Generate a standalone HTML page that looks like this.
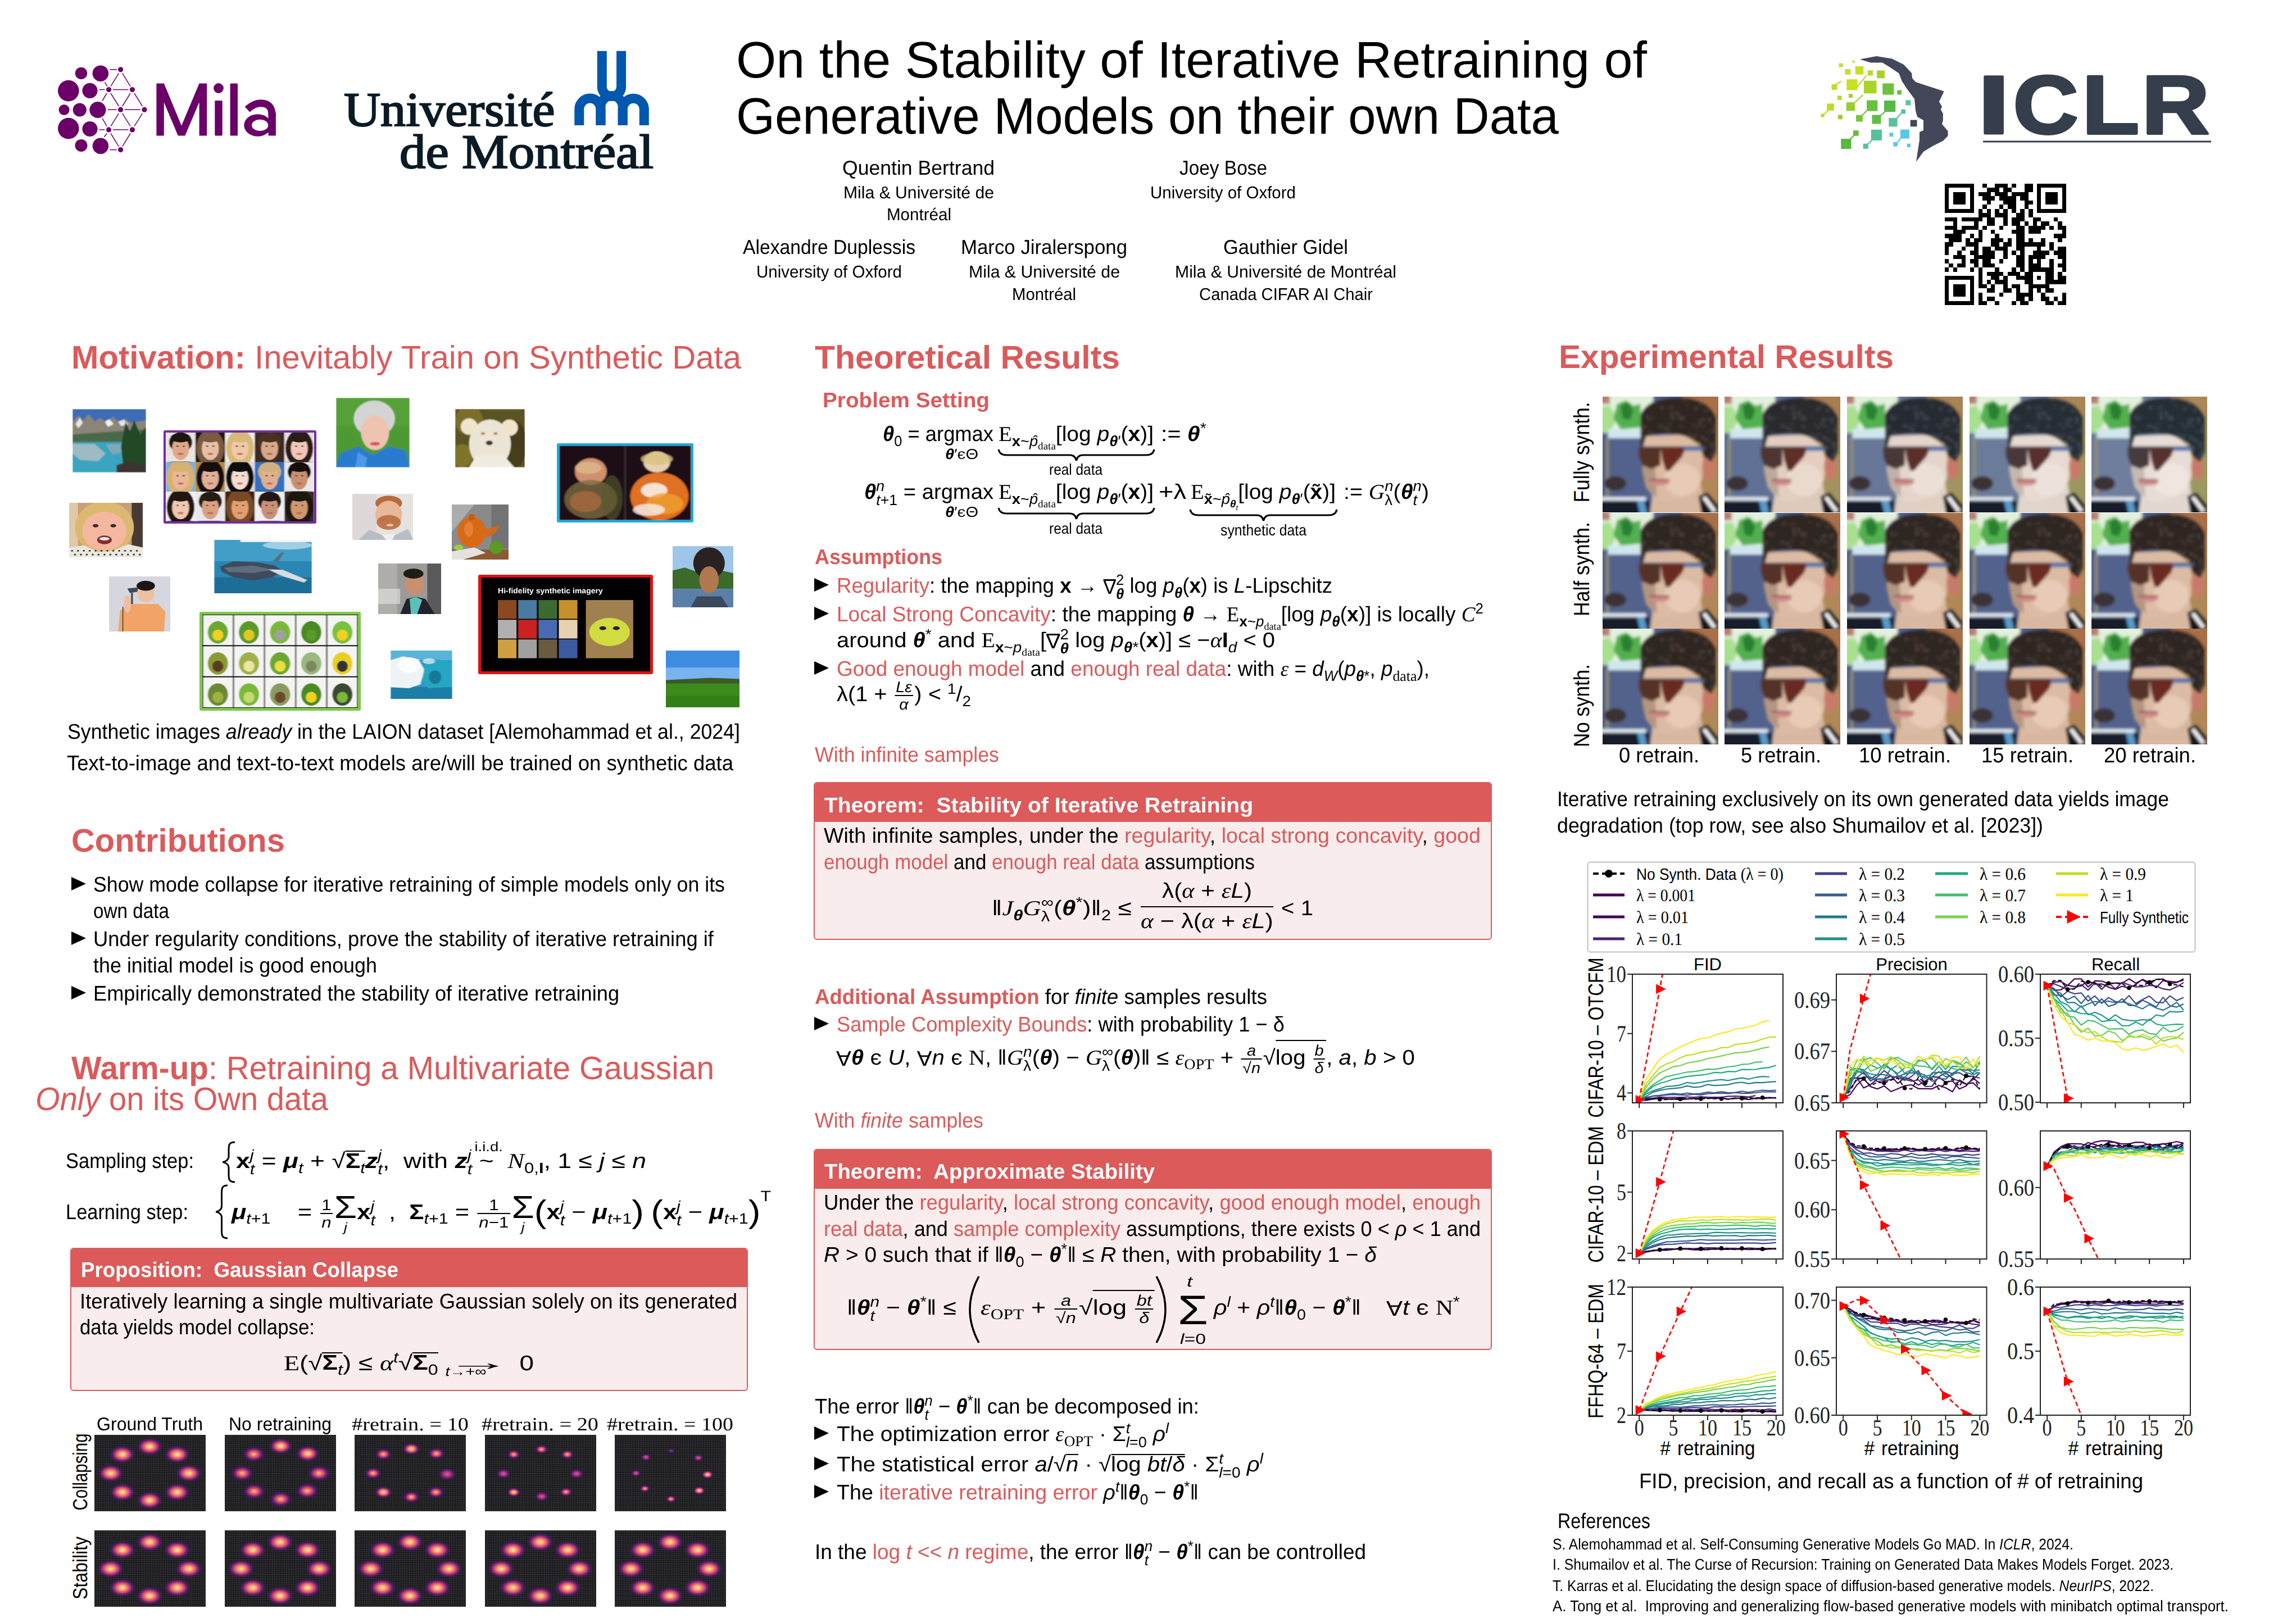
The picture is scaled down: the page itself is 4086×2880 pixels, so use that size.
<!DOCTYPE html><html><head><meta charset="utf-8"><style>
*{margin:0;padding:0;box-sizing:border-box}
html,body{width:4086px;height:2880px;overflow:hidden;background:#fff}
body{position:relative;font-family:"Liberation Sans",sans-serif;color:#000;text-rendering:geometricPrecision}
.t{position:absolute;white-space:nowrap;line-height:1;transform-origin:0 0}
.r{color:#DB5A5B}
sub,sup{font-size:70%;line-height:0}
.a{position:absolute}
.box{position:absolute;border:2px solid #DA5C5E;border-radius:6px;background:#F9ECEC;overflow:hidden}
.bl{display:inline-block;width:0;height:0}
.fr{display:inline-block;vertical-align:middle;text-align:center;font-size:72%;line-height:1.08;margin:0 .08em}
.fr>span{display:block;padding:0 .08em}
.fr>span+span{border-top:2px solid currentColor}
.sq{display:inline-block;line-height:.8;border-top:2.4px solid currentColor;padding-top:.04em}
.se{font-family:"Liberation Serif",serif}
.ss{display:inline-block;vertical-align:-.42em;line-height:.95;font-size:70%;text-align:left}
.ss>span{display:block}
.nab{display:inline-block;transform:scaleY(-1)}
.bsum{display:inline-block;vertical-align:middle;text-align:center;line-height:.9}
.bsum>span{display:block;font-size:60%}
.bsum>b{display:block;font-weight:normal;font-size:150%}
.box .hd{position:absolute;left:-2px;right:-2px;top:-2px;background:#DC5A5A}
</style></head><body>
<div class="box" style="left:125px;top:2221px;width:1206px;height:255px"><div class="hd" style="height:70px"></div></div>
<div class="box" style="left:1448px;top:1392px;width:1207px;height:281px"><div class="hd" style="height:71px"></div></div>
<div class="box" style="left:1448px;top:2045px;width:1207px;height:358px"><div class="hd" style="height:71px"></div></div>
<svg width="0" height="0" style="position:absolute"><defs><clipPath id="hcx"><path d="M21 29 L21 10 C24 3 32 0.5 42 0.5 C52 0.5 60 4 63 12 L63 31 L60 36 L56 33 L54 26 L46 22 C40 20 30 20 24 22 L22 29 Z"/></clipPath><g id="hairtex" clip-path="url(#hcx)"><rect x="46.5" y="25.2" width="1.6" height="1.6" fill="currentColor" opacity="0.70"/><rect x="59.6" y="25.2" width="1.6" height="1.6" fill="currentColor" opacity="0.76"/><rect x="22.2" y="15.8" width="1.6" height="1.6" fill="currentColor" opacity="0.77"/><rect x="47.6" y="30.6" width="1.6" height="1.6" fill="currentColor" opacity="0.36"/><rect x="40.2" y="8.4" width="1.6" height="1.6" fill="currentColor" opacity="0.57"/><rect x="44.5" y="0.4" width="1.6" height="1.6" fill="currentColor" opacity="0.41"/><rect x="32.5" y="31.2" width="1.6" height="1.6" fill="currentColor" opacity="0.68"/><rect x="27.5" y="27.1" width="1.6" height="1.6" fill="currentColor" opacity="0.37"/><rect x="46.3" y="4.3" width="1.6" height="1.6" fill="currentColor" opacity="0.30"/><rect x="56.7" y="7.1" width="1.6" height="1.6" fill="currentColor" opacity="0.41"/><rect x="61.3" y="29.7" width="1.6" height="1.6" fill="currentColor" opacity="0.44"/><rect x="60.4" y="18.3" width="1.6" height="1.6" fill="currentColor" opacity="0.64"/><rect x="29.4" y="32.0" width="1.6" height="1.6" fill="currentColor" opacity="0.65"/><rect x="60.6" y="30.4" width="1.6" height="1.6" fill="currentColor" opacity="0.45"/><rect x="35.8" y="5.6" width="1.6" height="1.6" fill="currentColor" opacity="0.37"/><rect x="23.7" y="10.2" width="1.6" height="1.6" fill="currentColor" opacity="0.60"/><rect x="21.1" y="23.0" width="1.6" height="1.6" fill="currentColor" opacity="0.47"/><rect x="33.7" y="27.8" width="1.6" height="1.6" fill="currentColor" opacity="0.54"/><rect x="33.9" y="16.4" width="1.6" height="1.6" fill="currentColor" opacity="0.65"/><rect x="23.3" y="33.2" width="1.6" height="1.6" fill="currentColor" opacity="0.31"/><rect x="51.7" y="28.7" width="1.6" height="1.6" fill="currentColor" opacity="0.31"/><rect x="53.3" y="12.5" width="1.6" height="1.6" fill="currentColor" opacity="0.59"/><rect x="21.4" y="1.6" width="1.6" height="1.6" fill="currentColor" opacity="0.39"/><rect x="60.2" y="6.7" width="1.6" height="1.6" fill="currentColor" opacity="0.68"/><rect x="59.1" y="32.0" width="1.6" height="1.6" fill="currentColor" opacity="0.47"/><rect x="35.5" y="17.8" width="1.6" height="1.6" fill="currentColor" opacity="0.69"/><rect x="25.4" y="25.4" width="1.6" height="1.6" fill="currentColor" opacity="0.70"/><rect x="56.2" y="1.2" width="1.6" height="1.6" fill="currentColor" opacity="0.77"/><rect x="24.7" y="11.6" width="1.6" height="1.6" fill="currentColor" opacity="0.61"/><rect x="58.6" y="11.6" width="1.6" height="1.6" fill="currentColor" opacity="0.76"/><rect x="43.4" y="10.6" width="1.6" height="1.6" fill="currentColor" opacity="0.46"/><rect x="28.3" y="2.7" width="1.6" height="1.6" fill="currentColor" opacity="0.37"/><rect x="49.3" y="33.9" width="1.6" height="1.6" fill="currentColor" opacity="0.38"/><rect x="23.0" y="33.5" width="1.6" height="1.6" fill="currentColor" opacity="0.57"/><rect x="37.6" y="8.1" width="1.6" height="1.6" fill="currentColor" opacity="0.60"/><rect x="54.9" y="15.5" width="1.6" height="1.6" fill="currentColor" opacity="0.51"/><rect x="23.3" y="31.1" width="1.6" height="1.6" fill="currentColor" opacity="0.32"/><rect x="41.2" y="28.5" width="1.6" height="1.6" fill="currentColor" opacity="0.37"/><rect x="51.0" y="32.3" width="1.6" height="1.6" fill="currentColor" opacity="0.62"/><rect x="53.3" y="3.6" width="1.6" height="1.6" fill="currentColor" opacity="0.52"/><rect x="27.1" y="28.7" width="1.6" height="1.6" fill="currentColor" opacity="0.45"/><rect x="39.6" y="34.0" width="1.6" height="1.6" fill="currentColor" opacity="0.73"/><rect x="61.0" y="15.4" width="1.6" height="1.6" fill="currentColor" opacity="0.54"/><rect x="50.9" y="16.3" width="1.6" height="1.6" fill="currentColor" opacity="0.45"/><rect x="37.6" y="5.0" width="1.6" height="1.6" fill="currentColor" opacity="0.49"/><rect x="61.5" y="32.6" width="1.6" height="1.6" fill="currentColor" opacity="0.61"/><rect x="41.5" y="11.5" width="1.6" height="1.6" fill="currentColor" opacity="0.34"/><rect x="32.2" y="26.6" width="1.6" height="1.6" fill="currentColor" opacity="0.73"/><rect x="35.8" y="26.7" width="1.6" height="1.6" fill="currentColor" opacity="0.69"/><rect x="49.5" y="22.6" width="1.6" height="1.6" fill="currentColor" opacity="0.68"/><rect x="35.9" y="24.0" width="1.6" height="1.6" fill="currentColor" opacity="0.44"/><rect x="40.9" y="26.2" width="1.6" height="1.6" fill="currentColor" opacity="0.65"/><rect x="33.0" y="32.1" width="1.6" height="1.6" fill="currentColor" opacity="0.62"/><rect x="44.8" y="0.4" width="1.6" height="1.6" fill="currentColor" opacity="0.57"/><rect x="31.3" y="22.8" width="1.6" height="1.6" fill="currentColor" opacity="0.53"/><rect x="54.5" y="22.0" width="1.6" height="1.6" fill="currentColor" opacity="0.70"/><rect x="35.3" y="21.9" width="1.6" height="1.6" fill="currentColor" opacity="0.67"/><rect x="55.0" y="11.9" width="1.6" height="1.6" fill="currentColor" opacity="0.72"/><rect x="56.7" y="23.4" width="1.6" height="1.6" fill="currentColor" opacity="0.79"/><rect x="60.2" y="17.6" width="1.6" height="1.6" fill="currentColor" opacity="0.56"/><rect x="27.8" y="28.4" width="1.6" height="1.6" fill="currentColor" opacity="0.77"/><rect x="40.6" y="23.5" width="1.6" height="1.6" fill="currentColor" opacity="0.66"/><rect x="50.9" y="5.8" width="1.6" height="1.6" fill="currentColor" opacity="0.69"/><rect x="44.8" y="22.6" width="1.6" height="1.6" fill="currentColor" opacity="0.51"/><rect x="46.6" y="26.3" width="1.6" height="1.6" fill="currentColor" opacity="0.62"/><rect x="50.5" y="0.9" width="1.6" height="1.6" fill="currentColor" opacity="0.38"/><rect x="39.1" y="22.1" width="1.6" height="1.6" fill="currentColor" opacity="0.41"/><rect x="49.1" y="21.4" width="1.6" height="1.6" fill="currentColor" opacity="0.32"/><rect x="40.3" y="7.7" width="1.6" height="1.6" fill="currentColor" opacity="0.33"/><rect x="26.5" y="10.8" width="1.6" height="1.6" fill="currentColor" opacity="0.39"/><rect x="28.9" y="1.2" width="1.6" height="1.6" fill="currentColor" opacity="0.53"/><rect x="36.6" y="20.8" width="1.6" height="1.6" fill="currentColor" opacity="0.60"/><rect x="30.8" y="30.7" width="1.6" height="1.6" fill="currentColor" opacity="0.30"/><rect x="37.6" y="9.5" width="1.6" height="1.6" fill="currentColor" opacity="0.51"/><rect x="25.7" y="28.3" width="1.6" height="1.6" fill="currentColor" opacity="0.49"/><rect x="22.5" y="20.9" width="1.6" height="1.6" fill="currentColor" opacity="0.35"/><rect x="43.4" y="11.5" width="1.6" height="1.6" fill="currentColor" opacity="0.59"/><rect x="60.3" y="27.8" width="1.6" height="1.6" fill="currentColor" opacity="0.51"/><rect x="54.3" y="21.8" width="1.6" height="1.6" fill="currentColor" opacity="0.48"/><rect x="26.8" y="20.3" width="1.6" height="1.6" fill="currentColor" opacity="0.58"/><rect x="60.2" y="32.9" width="1.6" height="1.6" fill="currentColor" opacity="0.60"/><rect x="35.4" y="30.4" width="1.6" height="1.6" fill="currentColor" opacity="0.30"/><rect x="25.4" y="19.2" width="1.6" height="1.6" fill="currentColor" opacity="0.61"/><rect x="26.8" y="21.4" width="1.6" height="1.6" fill="currentColor" opacity="0.75"/><rect x="36.4" y="14.7" width="1.6" height="1.6" fill="currentColor" opacity="0.41"/><rect x="33.0" y="33.1" width="1.6" height="1.6" fill="currentColor" opacity="0.49"/><rect x="60.4" y="31.1" width="1.6" height="1.6" fill="currentColor" opacity="0.60"/><rect x="31.7" y="33.4" width="1.6" height="1.6" fill="currentColor" opacity="0.55"/><rect x="38.0" y="10.9" width="1.6" height="1.6" fill="currentColor" opacity="0.79"/><rect x="41.2" y="9.7" width="1.6" height="1.6" fill="currentColor" opacity="0.54"/><rect x="26.0" y="21.1" width="1.6" height="1.6" fill="currentColor" opacity="0.52"/><rect x="33.0" y="26.6" width="1.6" height="1.6" fill="currentColor" opacity="0.71"/><rect x="21.5" y="18.1" width="1.6" height="1.6" fill="currentColor" opacity="0.44"/><rect x="59.3" y="26.6" width="1.6" height="1.6" fill="currentColor" opacity="0.42"/><rect x="32.0" y="5.3" width="1.6" height="1.6" fill="currentColor" opacity="0.79"/><rect x="33.0" y="20.7" width="1.6" height="1.6" fill="currentColor" opacity="0.54"/><rect x="47.4" y="20.5" width="1.6" height="1.6" fill="currentColor" opacity="0.67"/><rect x="25.8" y="25.9" width="1.6" height="1.6" fill="currentColor" opacity="0.45"/><rect x="42.9" y="11.4" width="1.6" height="1.6" fill="currentColor" opacity="0.45"/><rect x="42.7" y="15.8" width="1.6" height="1.6" fill="currentColor" opacity="0.48"/><rect x="51.5" y="20.1" width="1.6" height="1.6" fill="currentColor" opacity="0.32"/><rect x="31.3" y="15.5" width="1.6" height="1.6" fill="currentColor" opacity="0.76"/><rect x="57.4" y="18.6" width="1.6" height="1.6" fill="currentColor" opacity="0.31"/><rect x="52.9" y="14.5" width="1.6" height="1.6" fill="currentColor" opacity="0.59"/><rect x="50.0" y="21.5" width="1.6" height="1.6" fill="currentColor" opacity="0.54"/><rect x="58.4" y="13.1" width="1.6" height="1.6" fill="currentColor" opacity="0.50"/><rect x="55.9" y="6.7" width="1.6" height="1.6" fill="currentColor" opacity="0.45"/><rect x="55.0" y="2.2" width="1.6" height="1.6" fill="currentColor" opacity="0.72"/><rect x="49.5" y="14.7" width="1.6" height="1.6" fill="currentColor" opacity="0.44"/><rect x="53.0" y="31.0" width="1.6" height="1.6" fill="currentColor" opacity="0.37"/></g></defs></svg>
<svg class="a" style="left:2852px;top:706px" width="206" height="206" viewBox="0 0 64 64" preserveAspectRatio="none"><defs><filter id="blf00" x="-5%" y="-5%" width="110%" height="110%"><feGaussianBlur stdDeviation="0.75"/></filter><clipPath id="cpf00"><rect width="64" height="64"/></clipPath></defs><g clip-path="url(#cpf00)"><g filter="url(#blf00)"><rect x="-2" y="-2" width="68" height="68" fill="#52628c"/><rect x="44" y="-2" width="22" height="68" fill="#b08858"/><rect x="44" y="-2" width="22" height="14" fill="#a87048"/><path d="M-2 -2 H28 V20 H-2 Z" fill="#e2f0dc"/><rect x="-2" y="-2" width="6" height="6" fill="#b88070"/><path d="M-2 6 L4 5 L8 12 L4 20 L-2 20 Z" fill="#a8e090"/><path d="M8 4 L13 2 L17 5 L21 4 L21 17 L10 18 L6 12 Z" fill="#52b050"/><path d="M10 5 L14 3 L17 8 L15 13 L11 12 Z" fill="#2a8030"/><rect x="3" y="18" width="19" height="5" fill="#d0e6ee"/><rect x="2" y="23" width="1.3" height="33" fill="#9a9060"/><ellipse cx="7" cy="48" rx="6" ry="4" fill="#3a3234"/><rect x="-2" y="55.5" width="26" height="2.2" fill="#dfe8f0"/><rect x="-2" y="57.5" width="28" height="9" fill="#141a2a"/><path d="M19 57.5 L23 57.5 L25 66 L21 66 Z" fill="#5a9ac8"/><path d="M28 52 L54 46 L57 66 L26 66 Z" fill="#d8b8a0"/><path d="M53 55 L58 53 L64 60 L64 66 L55 66 Z" fill="#18191f"/><path d="M55 56 L57 55 L63 63 L61 64 Z" fill="#f0f0f0"/><path d="M22 22 L46 21 L54 28 L56 36 L55 46 L48 55 L38 58 L30 57 L24 50 L22 40 Z" fill="#dcbba4"/><ellipse cx="44" cy="46" rx="10" ry="9" fill="#f0d8c4" opacity="0.55"/><path d="M22 36 L29 38 L30 56 L24 50 L22 42 Z" fill="#a08674" opacity="0.7"/><ellipse cx="58.5" cy="39" rx="3.5" ry="7" fill="#c87a68"/><path d="M21 29 L21 10 C24 3 32 0.5 42 0.5 C52 0.5 60 4 63 12 L63 31 L60 36 L56 33 L54 26 L46 22 C40 20 30 20 24 22 L22 29 Z" fill="#2e2622"/><use href="#hairtex" style="color:#5a4a44"/><rect x="20" y="27.5" width="37" height="2" fill="#4a5060"/><path d="M20 28 L32 28 L32 38 L27 40 L22 38 L20 33 Z" fill="#553228"/><path d="M32 28 L46 28 L44 33 L37 41 L35 41 L33 35 Z" fill="#6a2a20"/><rect x="45" y="28" width="10" height="2" fill="#5a78b0"/><ellipse cx="31.5" cy="47.5" rx="5.5" ry="1.6" fill="#d08a88"/><rect x="26" y="45.6" width="11" height="0.9" fill="#7a4040" opacity="0.8"/></g></g></svg>
<svg class="a" style="left:3069px;top:706px" width="206" height="206" viewBox="0 0 64 64" preserveAspectRatio="none"><defs><filter id="blf01" x="-5%" y="-5%" width="110%" height="110%"><feGaussianBlur stdDeviation="0.75"/></filter><clipPath id="cpf01"><rect width="64" height="64"/></clipPath></defs><g clip-path="url(#cpf01)"><g filter="url(#blf01)"><rect x="-2" y="-2" width="68" height="68" fill="#617195"/><rect x="44" y="-2" width="22" height="68" fill="#a5915e"/><rect x="44" y="-2" width="22" height="14" fill="#a87e51"/><path d="M-2 -2 H28 V20 H-2 Z" fill="#e2f0dc"/><rect x="-2" y="-2" width="6" height="6" fill="#b88070"/><path d="M-2 6 L4 5 L8 12 L4 20 L-2 20 Z" fill="#a8e090"/><path d="M8 4 L13 2 L17 5 L21 4 L21 17 L10 18 L6 12 Z" fill="#52b050"/><path d="M10 5 L14 3 L17 8 L15 13 L11 12 Z" fill="#2a8030"/><rect x="3" y="18" width="19" height="5" fill="#d0e6ee"/><rect x="2" y="23" width="1.3" height="33" fill="#9a9060"/><ellipse cx="7" cy="48" rx="6" ry="4" fill="#3a3234"/><rect x="-2" y="55.5" width="26" height="2.2" fill="#dfe8f0"/><rect x="-2" y="57.5" width="28" height="9" fill="#141a2a"/><path d="M19 57.5 L23 57.5 L25 66 L21 66 Z" fill="#5a9ac8"/><path d="M28 52 L54 46 L57 66 L26 66 Z" fill="#decaba"/><path d="M53 55 L58 53 L64 60 L64 66 L55 66 Z" fill="#18191f"/><path d="M55 56 L57 55 L63 63 L61 64 Z" fill="#f0f0f0"/><path d="M22 22 L46 21 L54 28 L56 36 L55 46 L48 55 L38 58 L30 57 L24 50 L22 40 Z" fill="#e3cec0"/><ellipse cx="44" cy="46" rx="10" ry="9" fill="#f1e3d8" opacity="0.55"/><path d="M22 36 L29 38 L30 56 L24 50 L22 42 Z" fill="#ad9b8e" opacity="0.7"/><ellipse cx="58.5" cy="39" rx="3.5" ry="7" fill="#c87a68"/><path d="M21 29 L21 10 C24 3 32 0.5 42 0.5 C52 0.5 60 4 63 12 L63 31 L60 36 L56 33 L54 26 L46 22 C40 20 30 20 24 22 L22 29 Z" fill="#2a2a2d"/><use href="#hairtex" style="color:#515153"/><rect x="20" y="27.5" width="37" height="2" fill="#4a5060"/><path d="M20 28 L32 28 L32 38 L27 40 L22 38 L20 33 Z" fill="#4d3633"/><path d="M32 28 L46 28 L44 33 L37 41 L35 41 L33 35 Z" fill="#5f2d28"/><rect x="45" y="28" width="10" height="2" fill="#5a78b0"/><ellipse cx="31.5" cy="47.5" rx="5.5" ry="1.6" fill="#d08a88"/><rect x="26" y="45.6" width="11" height="0.9" fill="#7a4040" opacity="0.8"/></g></g></svg>
<svg class="a" style="left:3287px;top:706px" width="206" height="206" viewBox="0 0 64 64" preserveAspectRatio="none"><defs><filter id="blf02" x="-5%" y="-5%" width="110%" height="110%"><feGaussianBlur stdDeviation="0.75"/></filter><clipPath id="cpf02"><rect width="64" height="64"/></clipPath></defs><g clip-path="url(#cpf02)"><g filter="url(#blf02)"><rect x="-2" y="-2" width="68" height="68" fill="#677798"/><rect x="44" y="-2" width="22" height="68" fill="#a19460"/><rect x="44" y="-2" width="22" height="14" fill="#a88454"/><path d="M-2 -2 H28 V20 H-2 Z" fill="#e2f0dc"/><rect x="-2" y="-2" width="6" height="6" fill="#b88070"/><path d="M-2 6 L4 5 L8 12 L4 20 L-2 20 Z" fill="#a8e090"/><path d="M8 4 L13 2 L17 5 L21 4 L21 17 L10 18 L6 12 Z" fill="#52b050"/><path d="M10 5 L14 3 L17 8 L15 13 L11 12 Z" fill="#2a8030"/><rect x="3" y="18" width="19" height="5" fill="#d0e6ee"/><rect x="2" y="23" width="1.3" height="33" fill="#9a9060"/><ellipse cx="7" cy="48" rx="6" ry="4" fill="#3a3234"/><rect x="-2" y="55.5" width="26" height="2.2" fill="#dfe8f0"/><rect x="-2" y="57.5" width="28" height="9" fill="#141a2a"/><path d="M19 57.5 L23 57.5 L25 66 L21 66 Z" fill="#5a9ac8"/><path d="M28 52 L54 46 L57 66 L26 66 Z" fill="#e0d0c4"/><path d="M53 55 L58 53 L64 60 L64 66 L55 66 Z" fill="#18191f"/><path d="M55 56 L57 55 L63 63 L61 64 Z" fill="#f0f0f0"/><path d="M22 22 L46 21 L54 28 L56 36 L55 46 L48 55 L38 58 L30 57 L24 50 L22 40 Z" fill="#e5d4ca"/><ellipse cx="44" cy="46" rx="10" ry="9" fill="#f2e7df" opacity="0.55"/><path d="M22 36 L29 38 L30 56 L24 50 L22 42 Z" fill="#b2a298" opacity="0.7"/><ellipse cx="58.5" cy="39" rx="3.5" ry="7" fill="#c87a68"/><path d="M21 29 L21 10 C24 3 32 0.5 42 0.5 C52 0.5 60 4 63 12 L63 31 L60 36 L56 33 L54 26 L46 22 C40 20 30 20 24 22 L22 29 Z" fill="#282c31"/><use href="#hairtex" style="color:#4e5359"/><rect x="20" y="27.5" width="37" height="2" fill="#4a5060"/><path d="M20 28 L32 28 L32 38 L27 40 L22 38 L20 33 Z" fill="#4a3837"/><path d="M32 28 L46 28 L44 33 L37 41 L35 41 L33 35 Z" fill="#5b2e2a"/><rect x="45" y="28" width="10" height="2" fill="#5a78b0"/><ellipse cx="31.5" cy="47.5" rx="5.5" ry="1.6" fill="#d08a88"/><rect x="26" y="45.6" width="11" height="0.9" fill="#7a4040" opacity="0.8"/></g></g></svg>
<svg class="a" style="left:3505px;top:706px" width="206" height="206" viewBox="0 0 64 64" preserveAspectRatio="none"><defs><filter id="blf03" x="-5%" y="-5%" width="110%" height="110%"><feGaussianBlur stdDeviation="0.75"/></filter><clipPath id="cpf03"><rect width="64" height="64"/></clipPath></defs><g clip-path="url(#cpf03)"><g filter="url(#blf03)"><rect x="-2" y="-2" width="68" height="68" fill="#6b7b9a"/><rect x="44" y="-2" width="22" height="68" fill="#9e9661"/><rect x="44" y="-2" width="22" height="14" fill="#a88756"/><path d="M-2 -2 H28 V20 H-2 Z" fill="#e2f0dc"/><rect x="-2" y="-2" width="6" height="6" fill="#b88070"/><path d="M-2 6 L4 5 L8 12 L4 20 L-2 20 Z" fill="#a8e090"/><path d="M8 4 L13 2 L17 5 L21 4 L21 17 L10 18 L6 12 Z" fill="#52b050"/><path d="M10 5 L14 3 L17 8 L15 13 L11 12 Z" fill="#2a8030"/><rect x="3" y="18" width="19" height="5" fill="#d0e6ee"/><rect x="2" y="23" width="1.3" height="33" fill="#9a9060"/><ellipse cx="7" cy="48" rx="6" ry="4" fill="#3a3234"/><rect x="-2" y="55.5" width="26" height="2.2" fill="#dfe8f0"/><rect x="-2" y="57.5" width="28" height="9" fill="#141a2a"/><path d="M19 57.5 L23 57.5 L25 66 L21 66 Z" fill="#5a9ac8"/><path d="M28 52 L54 46 L57 66 L26 66 Z" fill="#e1d5cb"/><path d="M53 55 L58 53 L64 60 L64 66 L55 66 Z" fill="#18191f"/><path d="M55 56 L57 55 L63 63 L61 64 Z" fill="#f0f0f0"/><path d="M22 22 L46 21 L54 28 L56 36 L55 46 L48 55 L38 58 L30 57 L24 50 L22 40 Z" fill="#e7dad1"/><ellipse cx="44" cy="46" rx="10" ry="9" fill="#f2eae4" opacity="0.55"/><path d="M22 36 L29 38 L30 56 L24 50 L22 42 Z" fill="#b6a89f" opacity="0.7"/><ellipse cx="58.5" cy="39" rx="3.5" ry="7" fill="#c87a68"/><path d="M21 29 L21 10 C24 3 32 0.5 42 0.5 C52 0.5 60 4 63 12 L63 31 L60 36 L56 33 L54 26 L46 22 C40 20 30 20 24 22 L22 29 Z" fill="#272d34"/><use href="#hairtex" style="color:#4c555d"/><rect x="20" y="27.5" width="37" height="2" fill="#4a5060"/><path d="M20 28 L32 28 L32 38 L27 40 L22 38 L20 33 Z" fill="#48393a"/><path d="M32 28 L46 28 L44 33 L37 41 L35 41 L33 35 Z" fill="#582f2d"/><rect x="45" y="28" width="10" height="2" fill="#5a78b0"/><ellipse cx="31.5" cy="47.5" rx="5.5" ry="1.6" fill="#d08a88"/><rect x="26" y="45.6" width="11" height="0.9" fill="#7a4040" opacity="0.8"/></g></g></svg>
<svg class="a" style="left:3722px;top:706px" width="206" height="206" viewBox="0 0 64 64" preserveAspectRatio="none"><defs><filter id="blf04" x="-5%" y="-5%" width="110%" height="110%"><feGaussianBlur stdDeviation="0.75"/></filter><clipPath id="cpf04"><rect width="64" height="64"/></clipPath></defs><g clip-path="url(#cpf04)"><g filter="url(#blf04)"><rect x="-2" y="-2" width="68" height="68" fill="#6e7e9c"/><rect x="44" y="-2" width="22" height="68" fill="#9c9862"/><rect x="44" y="-2" width="22" height="14" fill="#a88a58"/><path d="M-2 -2 H28 V20 H-2 Z" fill="#e2f0dc"/><rect x="-2" y="-2" width="6" height="6" fill="#b88070"/><path d="M-2 6 L4 5 L8 12 L4 20 L-2 20 Z" fill="#a8e090"/><path d="M8 4 L13 2 L17 5 L21 4 L21 17 L10 18 L6 12 Z" fill="#52b050"/><path d="M10 5 L14 3 L17 8 L15 13 L11 12 Z" fill="#2a8030"/><rect x="3" y="18" width="19" height="5" fill="#d0e6ee"/><rect x="2" y="23" width="1.3" height="33" fill="#9a9060"/><ellipse cx="7" cy="48" rx="6" ry="4" fill="#3a3234"/><rect x="-2" y="55.5" width="26" height="2.2" fill="#dfe8f0"/><rect x="-2" y="57.5" width="28" height="9" fill="#141a2a"/><path d="M19 57.5 L23 57.5 L25 66 L21 66 Z" fill="#5a9ac8"/><path d="M28 52 L54 46 L57 66 L26 66 Z" fill="#e2d8d0"/><path d="M53 55 L58 53 L64 60 L64 66 L55 66 Z" fill="#18191f"/><path d="M55 56 L57 55 L63 63 L61 64 Z" fill="#f0f0f0"/><path d="M22 22 L46 21 L54 28 L56 36 L55 46 L48 55 L38 58 L30 57 L24 50 L22 40 Z" fill="#e8ddd6"/><ellipse cx="44" cy="46" rx="10" ry="9" fill="#f2ece8" opacity="0.55"/><path d="M22 36 L29 38 L30 56 L24 50 L22 42 Z" fill="#b8aca4" opacity="0.7"/><ellipse cx="58.5" cy="39" rx="3.5" ry="7" fill="#c87a68"/><path d="M21 29 L21 10 C24 3 32 0.5 42 0.5 C52 0.5 60 4 63 12 L63 31 L60 36 L56 33 L54 26 L46 22 C40 20 30 20 24 22 L22 29 Z" fill="#262e36"/><use href="#hairtex" style="color:#4a5660"/><rect x="20" y="27.5" width="37" height="2" fill="#4a5060"/><path d="M20 28 L32 28 L32 38 L27 40 L22 38 L20 33 Z" fill="#463a3c"/><path d="M32 28 L46 28 L44 33 L37 41 L35 41 L33 35 Z" fill="#56302e"/><rect x="45" y="28" width="10" height="2" fill="#5a78b0"/><ellipse cx="31.5" cy="47.5" rx="5.5" ry="1.6" fill="#d08a88"/><rect x="26" y="45.6" width="11" height="0.9" fill="#7a4040" opacity="0.8"/></g></g></svg>
<svg class="a" style="left:2852px;top:913px" width="206" height="206" viewBox="0 0 64 64" preserveAspectRatio="none"><defs><filter id="blf10" x="-5%" y="-5%" width="110%" height="110%"><feGaussianBlur stdDeviation="0.75"/></filter><clipPath id="cpf10"><rect width="64" height="64"/></clipPath></defs><g clip-path="url(#cpf10)"><g filter="url(#blf10)"><rect x="-2" y="-2" width="68" height="68" fill="#52628c"/><rect x="44" y="-2" width="22" height="68" fill="#b08858"/><rect x="44" y="-2" width="22" height="14" fill="#a87048"/><path d="M-2 -2 H28 V20 H-2 Z" fill="#e2f0dc"/><rect x="-2" y="-2" width="6" height="6" fill="#b88070"/><path d="M-2 6 L4 5 L8 12 L4 20 L-2 20 Z" fill="#a8e090"/><path d="M8 4 L13 2 L17 5 L21 4 L21 17 L10 18 L6 12 Z" fill="#52b050"/><path d="M10 5 L14 3 L17 8 L15 13 L11 12 Z" fill="#2a8030"/><rect x="3" y="18" width="19" height="5" fill="#d0e6ee"/><rect x="2" y="23" width="1.3" height="33" fill="#9a9060"/><ellipse cx="7" cy="48" rx="6" ry="4" fill="#3a3234"/><rect x="-2" y="55.5" width="26" height="2.2" fill="#dfe8f0"/><rect x="-2" y="57.5" width="28" height="9" fill="#141a2a"/><path d="M19 57.5 L23 57.5 L25 66 L21 66 Z" fill="#5a9ac8"/><path d="M28 52 L54 46 L57 66 L26 66 Z" fill="#d8b8a0"/><path d="M53 55 L58 53 L64 60 L64 66 L55 66 Z" fill="#18191f"/><path d="M55 56 L57 55 L63 63 L61 64 Z" fill="#f0f0f0"/><path d="M22 22 L46 21 L54 28 L56 36 L55 46 L48 55 L38 58 L30 57 L24 50 L22 40 Z" fill="#dcbba4"/><ellipse cx="44" cy="46" rx="10" ry="9" fill="#f0d8c4" opacity="0.55"/><path d="M22 36 L29 38 L30 56 L24 50 L22 42 Z" fill="#a08674" opacity="0.7"/><ellipse cx="58.5" cy="39" rx="3.5" ry="7" fill="#c87a68"/><path d="M21 29 L21 10 C24 3 32 0.5 42 0.5 C52 0.5 60 4 63 12 L63 31 L60 36 L56 33 L54 26 L46 22 C40 20 30 20 24 22 L22 29 Z" fill="#2e2622"/><use href="#hairtex" style="color:#5a4a44"/><rect x="20" y="27.5" width="37" height="2" fill="#4a5060"/><path d="M20 28 L32 28 L32 38 L27 40 L22 38 L20 33 Z" fill="#553228"/><path d="M32 28 L46 28 L44 33 L37 41 L35 41 L33 35 Z" fill="#6a2a20"/><rect x="45" y="28" width="10" height="2" fill="#5a78b0"/><ellipse cx="31.5" cy="47.5" rx="5.5" ry="1.6" fill="#d08a88"/><rect x="26" y="45.6" width="11" height="0.9" fill="#7a4040" opacity="0.8"/></g></g></svg>
<svg class="a" style="left:3069px;top:913px" width="206" height="206" viewBox="0 0 64 64" preserveAspectRatio="none"><defs><filter id="blf11" x="-5%" y="-5%" width="110%" height="110%"><feGaussianBlur stdDeviation="0.75"/></filter><clipPath id="cpf11"><rect width="64" height="64"/></clipPath></defs><g clip-path="url(#cpf11)"><g filter="url(#blf11)"><rect x="-2" y="-2" width="68" height="68" fill="#52628c"/><rect x="44" y="-2" width="22" height="68" fill="#b08858"/><rect x="44" y="-2" width="22" height="14" fill="#a87048"/><path d="M-2 -2 H28 V20 H-2 Z" fill="#e2f0dc"/><rect x="-2" y="-2" width="6" height="6" fill="#b88070"/><path d="M-2 6 L4 5 L8 12 L4 20 L-2 20 Z" fill="#a8e090"/><path d="M8 4 L13 2 L17 5 L21 4 L21 17 L10 18 L6 12 Z" fill="#52b050"/><path d="M10 5 L14 3 L17 8 L15 13 L11 12 Z" fill="#2a8030"/><rect x="3" y="18" width="19" height="5" fill="#d0e6ee"/><rect x="2" y="23" width="1.3" height="33" fill="#9a9060"/><ellipse cx="7" cy="48" rx="6" ry="4" fill="#3a3234"/><rect x="-2" y="55.5" width="26" height="2.2" fill="#dfe8f0"/><rect x="-2" y="57.5" width="28" height="9" fill="#141a2a"/><path d="M19 57.5 L23 57.5 L25 66 L21 66 Z" fill="#5a9ac8"/><path d="M28 52 L54 46 L57 66 L26 66 Z" fill="#d8b8a0"/><path d="M53 55 L58 53 L64 60 L64 66 L55 66 Z" fill="#18191f"/><path d="M55 56 L57 55 L63 63 L61 64 Z" fill="#f0f0f0"/><path d="M22 22 L46 21 L54 28 L56 36 L55 46 L48 55 L38 58 L30 57 L24 50 L22 40 Z" fill="#dcbba4"/><ellipse cx="44" cy="46" rx="10" ry="9" fill="#f0d8c4" opacity="0.55"/><path d="M22 36 L29 38 L30 56 L24 50 L22 42 Z" fill="#a08674" opacity="0.7"/><ellipse cx="58.5" cy="39" rx="3.5" ry="7" fill="#c87a68"/><path d="M21 29 L21 10 C24 3 32 0.5 42 0.5 C52 0.5 60 4 63 12 L63 31 L60 36 L56 33 L54 26 L46 22 C40 20 30 20 24 22 L22 29 Z" fill="#2e2622"/><use href="#hairtex" style="color:#5a4a44"/><rect x="20" y="27.5" width="37" height="2" fill="#4a5060"/><path d="M20 28 L32 28 L32 38 L27 40 L22 38 L20 33 Z" fill="#553228"/><path d="M32 28 L46 28 L44 33 L37 41 L35 41 L33 35 Z" fill="#6a2a20"/><rect x="45" y="28" width="10" height="2" fill="#5a78b0"/><ellipse cx="31.5" cy="47.5" rx="5.5" ry="1.6" fill="#d08a88"/><rect x="26" y="45.6" width="11" height="0.9" fill="#7a4040" opacity="0.8"/></g></g></svg>
<svg class="a" style="left:3287px;top:913px" width="206" height="206" viewBox="0 0 64 64" preserveAspectRatio="none"><defs><filter id="blf12" x="-5%" y="-5%" width="110%" height="110%"><feGaussianBlur stdDeviation="0.75"/></filter><clipPath id="cpf12"><rect width="64" height="64"/></clipPath></defs><g clip-path="url(#cpf12)"><g filter="url(#blf12)"><rect x="-2" y="-2" width="68" height="68" fill="#52628c"/><rect x="44" y="-2" width="22" height="68" fill="#b08858"/><rect x="44" y="-2" width="22" height="14" fill="#a87048"/><path d="M-2 -2 H28 V20 H-2 Z" fill="#e2f0dc"/><rect x="-2" y="-2" width="6" height="6" fill="#b88070"/><path d="M-2 6 L4 5 L8 12 L4 20 L-2 20 Z" fill="#a8e090"/><path d="M8 4 L13 2 L17 5 L21 4 L21 17 L10 18 L6 12 Z" fill="#52b050"/><path d="M10 5 L14 3 L17 8 L15 13 L11 12 Z" fill="#2a8030"/><rect x="3" y="18" width="19" height="5" fill="#d0e6ee"/><rect x="2" y="23" width="1.3" height="33" fill="#9a9060"/><ellipse cx="7" cy="48" rx="6" ry="4" fill="#3a3234"/><rect x="-2" y="55.5" width="26" height="2.2" fill="#dfe8f0"/><rect x="-2" y="57.5" width="28" height="9" fill="#141a2a"/><path d="M19 57.5 L23 57.5 L25 66 L21 66 Z" fill="#5a9ac8"/><path d="M28 52 L54 46 L57 66 L26 66 Z" fill="#d8b8a0"/><path d="M53 55 L58 53 L64 60 L64 66 L55 66 Z" fill="#18191f"/><path d="M55 56 L57 55 L63 63 L61 64 Z" fill="#f0f0f0"/><path d="M22 22 L46 21 L54 28 L56 36 L55 46 L48 55 L38 58 L30 57 L24 50 L22 40 Z" fill="#dcbba4"/><ellipse cx="44" cy="46" rx="10" ry="9" fill="#f0d8c4" opacity="0.55"/><path d="M22 36 L29 38 L30 56 L24 50 L22 42 Z" fill="#a08674" opacity="0.7"/><ellipse cx="58.5" cy="39" rx="3.5" ry="7" fill="#c87a68"/><path d="M21 29 L21 10 C24 3 32 0.5 42 0.5 C52 0.5 60 4 63 12 L63 31 L60 36 L56 33 L54 26 L46 22 C40 20 30 20 24 22 L22 29 Z" fill="#2e2622"/><use href="#hairtex" style="color:#5a4a44"/><rect x="20" y="27.5" width="37" height="2" fill="#4a5060"/><path d="M20 28 L32 28 L32 38 L27 40 L22 38 L20 33 Z" fill="#553228"/><path d="M32 28 L46 28 L44 33 L37 41 L35 41 L33 35 Z" fill="#6a2a20"/><rect x="45" y="28" width="10" height="2" fill="#5a78b0"/><ellipse cx="31.5" cy="47.5" rx="5.5" ry="1.6" fill="#d08a88"/><rect x="26" y="45.6" width="11" height="0.9" fill="#7a4040" opacity="0.8"/></g></g></svg>
<svg class="a" style="left:3505px;top:913px" width="206" height="206" viewBox="0 0 64 64" preserveAspectRatio="none"><defs><filter id="blf13" x="-5%" y="-5%" width="110%" height="110%"><feGaussianBlur stdDeviation="0.75"/></filter><clipPath id="cpf13"><rect width="64" height="64"/></clipPath></defs><g clip-path="url(#cpf13)"><g filter="url(#blf13)"><rect x="-2" y="-2" width="68" height="68" fill="#52628c"/><rect x="44" y="-2" width="22" height="68" fill="#b08858"/><rect x="44" y="-2" width="22" height="14" fill="#a87048"/><path d="M-2 -2 H28 V20 H-2 Z" fill="#e2f0dc"/><rect x="-2" y="-2" width="6" height="6" fill="#b88070"/><path d="M-2 6 L4 5 L8 12 L4 20 L-2 20 Z" fill="#a8e090"/><path d="M8 4 L13 2 L17 5 L21 4 L21 17 L10 18 L6 12 Z" fill="#52b050"/><path d="M10 5 L14 3 L17 8 L15 13 L11 12 Z" fill="#2a8030"/><rect x="3" y="18" width="19" height="5" fill="#d0e6ee"/><rect x="2" y="23" width="1.3" height="33" fill="#9a9060"/><ellipse cx="7" cy="48" rx="6" ry="4" fill="#3a3234"/><rect x="-2" y="55.5" width="26" height="2.2" fill="#dfe8f0"/><rect x="-2" y="57.5" width="28" height="9" fill="#141a2a"/><path d="M19 57.5 L23 57.5 L25 66 L21 66 Z" fill="#5a9ac8"/><path d="M28 52 L54 46 L57 66 L26 66 Z" fill="#d8b8a0"/><path d="M53 55 L58 53 L64 60 L64 66 L55 66 Z" fill="#18191f"/><path d="M55 56 L57 55 L63 63 L61 64 Z" fill="#f0f0f0"/><path d="M22 22 L46 21 L54 28 L56 36 L55 46 L48 55 L38 58 L30 57 L24 50 L22 40 Z" fill="#dcbba4"/><ellipse cx="44" cy="46" rx="10" ry="9" fill="#f0d8c4" opacity="0.55"/><path d="M22 36 L29 38 L30 56 L24 50 L22 42 Z" fill="#a08674" opacity="0.7"/><ellipse cx="58.5" cy="39" rx="3.5" ry="7" fill="#c87a68"/><path d="M21 29 L21 10 C24 3 32 0.5 42 0.5 C52 0.5 60 4 63 12 L63 31 L60 36 L56 33 L54 26 L46 22 C40 20 30 20 24 22 L22 29 Z" fill="#2e2622"/><use href="#hairtex" style="color:#5a4a44"/><rect x="20" y="27.5" width="37" height="2" fill="#4a5060"/><path d="M20 28 L32 28 L32 38 L27 40 L22 38 L20 33 Z" fill="#553228"/><path d="M32 28 L46 28 L44 33 L37 41 L35 41 L33 35 Z" fill="#6a2a20"/><rect x="45" y="28" width="10" height="2" fill="#5a78b0"/><ellipse cx="31.5" cy="47.5" rx="5.5" ry="1.6" fill="#d08a88"/><rect x="26" y="45.6" width="11" height="0.9" fill="#7a4040" opacity="0.8"/></g></g></svg>
<svg class="a" style="left:3722px;top:913px" width="206" height="206" viewBox="0 0 64 64" preserveAspectRatio="none"><defs><filter id="blf14" x="-5%" y="-5%" width="110%" height="110%"><feGaussianBlur stdDeviation="0.75"/></filter><clipPath id="cpf14"><rect width="64" height="64"/></clipPath></defs><g clip-path="url(#cpf14)"><g filter="url(#blf14)"><rect x="-2" y="-2" width="68" height="68" fill="#52628c"/><rect x="44" y="-2" width="22" height="68" fill="#b08858"/><rect x="44" y="-2" width="22" height="14" fill="#a87048"/><path d="M-2 -2 H28 V20 H-2 Z" fill="#e2f0dc"/><rect x="-2" y="-2" width="6" height="6" fill="#b88070"/><path d="M-2 6 L4 5 L8 12 L4 20 L-2 20 Z" fill="#a8e090"/><path d="M8 4 L13 2 L17 5 L21 4 L21 17 L10 18 L6 12 Z" fill="#52b050"/><path d="M10 5 L14 3 L17 8 L15 13 L11 12 Z" fill="#2a8030"/><rect x="3" y="18" width="19" height="5" fill="#d0e6ee"/><rect x="2" y="23" width="1.3" height="33" fill="#9a9060"/><ellipse cx="7" cy="48" rx="6" ry="4" fill="#3a3234"/><rect x="-2" y="55.5" width="26" height="2.2" fill="#dfe8f0"/><rect x="-2" y="57.5" width="28" height="9" fill="#141a2a"/><path d="M19 57.5 L23 57.5 L25 66 L21 66 Z" fill="#5a9ac8"/><path d="M28 52 L54 46 L57 66 L26 66 Z" fill="#d8b8a0"/><path d="M53 55 L58 53 L64 60 L64 66 L55 66 Z" fill="#18191f"/><path d="M55 56 L57 55 L63 63 L61 64 Z" fill="#f0f0f0"/><path d="M22 22 L46 21 L54 28 L56 36 L55 46 L48 55 L38 58 L30 57 L24 50 L22 40 Z" fill="#dcbba4"/><ellipse cx="44" cy="46" rx="10" ry="9" fill="#f0d8c4" opacity="0.55"/><path d="M22 36 L29 38 L30 56 L24 50 L22 42 Z" fill="#a08674" opacity="0.7"/><ellipse cx="58.5" cy="39" rx="3.5" ry="7" fill="#c87a68"/><path d="M21 29 L21 10 C24 3 32 0.5 42 0.5 C52 0.5 60 4 63 12 L63 31 L60 36 L56 33 L54 26 L46 22 C40 20 30 20 24 22 L22 29 Z" fill="#2e2622"/><use href="#hairtex" style="color:#5a4a44"/><rect x="20" y="27.5" width="37" height="2" fill="#4a5060"/><path d="M20 28 L32 28 L32 38 L27 40 L22 38 L20 33 Z" fill="#553228"/><path d="M32 28 L46 28 L44 33 L37 41 L35 41 L33 35 Z" fill="#6a2a20"/><rect x="45" y="28" width="10" height="2" fill="#5a78b0"/><ellipse cx="31.5" cy="47.5" rx="5.5" ry="1.6" fill="#d08a88"/><rect x="26" y="45.6" width="11" height="0.9" fill="#7a4040" opacity="0.8"/></g></g></svg>
<svg class="a" style="left:2852px;top:1119px" width="206" height="206" viewBox="0 0 64 64" preserveAspectRatio="none"><defs><filter id="blf20" x="-5%" y="-5%" width="110%" height="110%"><feGaussianBlur stdDeviation="0.75"/></filter><clipPath id="cpf20"><rect width="64" height="64"/></clipPath></defs><g clip-path="url(#cpf20)"><g filter="url(#blf20)"><rect x="-2" y="-2" width="68" height="68" fill="#52628c"/><rect x="44" y="-2" width="22" height="68" fill="#b08858"/><rect x="44" y="-2" width="22" height="14" fill="#a87048"/><path d="M-2 -2 H28 V20 H-2 Z" fill="#e2f0dc"/><rect x="-2" y="-2" width="6" height="6" fill="#b88070"/><path d="M-2 6 L4 5 L8 12 L4 20 L-2 20 Z" fill="#a8e090"/><path d="M8 4 L13 2 L17 5 L21 4 L21 17 L10 18 L6 12 Z" fill="#52b050"/><path d="M10 5 L14 3 L17 8 L15 13 L11 12 Z" fill="#2a8030"/><rect x="3" y="18" width="19" height="5" fill="#d0e6ee"/><rect x="2" y="23" width="1.3" height="33" fill="#9a9060"/><ellipse cx="7" cy="48" rx="6" ry="4" fill="#3a3234"/><rect x="-2" y="55.5" width="26" height="2.2" fill="#dfe8f0"/><rect x="-2" y="57.5" width="28" height="9" fill="#141a2a"/><path d="M19 57.5 L23 57.5 L25 66 L21 66 Z" fill="#5a9ac8"/><path d="M28 52 L54 46 L57 66 L26 66 Z" fill="#d8b8a0"/><path d="M53 55 L58 53 L64 60 L64 66 L55 66 Z" fill="#18191f"/><path d="M55 56 L57 55 L63 63 L61 64 Z" fill="#f0f0f0"/><path d="M22 22 L46 21 L54 28 L56 36 L55 46 L48 55 L38 58 L30 57 L24 50 L22 40 Z" fill="#dcbba4"/><ellipse cx="44" cy="46" rx="10" ry="9" fill="#f0d8c4" opacity="0.55"/><path d="M22 36 L29 38 L30 56 L24 50 L22 42 Z" fill="#a08674" opacity="0.7"/><ellipse cx="58.5" cy="39" rx="3.5" ry="7" fill="#c87a68"/><path d="M21 29 L21 10 C24 3 32 0.5 42 0.5 C52 0.5 60 4 63 12 L63 31 L60 36 L56 33 L54 26 L46 22 C40 20 30 20 24 22 L22 29 Z" fill="#2e2622"/><use href="#hairtex" style="color:#5a4a44"/><rect x="20" y="27.5" width="37" height="2" fill="#4a5060"/><path d="M20 28 L32 28 L32 38 L27 40 L22 38 L20 33 Z" fill="#553228"/><path d="M32 28 L46 28 L44 33 L37 41 L35 41 L33 35 Z" fill="#6a2a20"/><rect x="45" y="28" width="10" height="2" fill="#5a78b0"/><ellipse cx="31.5" cy="47.5" rx="5.5" ry="1.6" fill="#d08a88"/><rect x="26" y="45.6" width="11" height="0.9" fill="#7a4040" opacity="0.8"/></g></g></svg>
<svg class="a" style="left:3069px;top:1119px" width="206" height="206" viewBox="0 0 64 64" preserveAspectRatio="none"><defs><filter id="blf21" x="-5%" y="-5%" width="110%" height="110%"><feGaussianBlur stdDeviation="0.75"/></filter><clipPath id="cpf21"><rect width="64" height="64"/></clipPath></defs><g clip-path="url(#cpf21)"><g filter="url(#blf21)"><rect x="-2" y="-2" width="68" height="68" fill="#52628c"/><rect x="44" y="-2" width="22" height="68" fill="#b08858"/><rect x="44" y="-2" width="22" height="14" fill="#a87048"/><path d="M-2 -2 H28 V20 H-2 Z" fill="#e2f0dc"/><rect x="-2" y="-2" width="6" height="6" fill="#b88070"/><path d="M-2 6 L4 5 L8 12 L4 20 L-2 20 Z" fill="#a8e090"/><path d="M8 4 L13 2 L17 5 L21 4 L21 17 L10 18 L6 12 Z" fill="#52b050"/><path d="M10 5 L14 3 L17 8 L15 13 L11 12 Z" fill="#2a8030"/><rect x="3" y="18" width="19" height="5" fill="#d0e6ee"/><rect x="2" y="23" width="1.3" height="33" fill="#9a9060"/><ellipse cx="7" cy="48" rx="6" ry="4" fill="#3a3234"/><rect x="-2" y="55.5" width="26" height="2.2" fill="#dfe8f0"/><rect x="-2" y="57.5" width="28" height="9" fill="#141a2a"/><path d="M19 57.5 L23 57.5 L25 66 L21 66 Z" fill="#5a9ac8"/><path d="M28 52 L54 46 L57 66 L26 66 Z" fill="#d8b8a0"/><path d="M53 55 L58 53 L64 60 L64 66 L55 66 Z" fill="#18191f"/><path d="M55 56 L57 55 L63 63 L61 64 Z" fill="#f0f0f0"/><path d="M22 22 L46 21 L54 28 L56 36 L55 46 L48 55 L38 58 L30 57 L24 50 L22 40 Z" fill="#dcbba4"/><ellipse cx="44" cy="46" rx="10" ry="9" fill="#f0d8c4" opacity="0.55"/><path d="M22 36 L29 38 L30 56 L24 50 L22 42 Z" fill="#a08674" opacity="0.7"/><ellipse cx="58.5" cy="39" rx="3.5" ry="7" fill="#c87a68"/><path d="M21 29 L21 10 C24 3 32 0.5 42 0.5 C52 0.5 60 4 63 12 L63 31 L60 36 L56 33 L54 26 L46 22 C40 20 30 20 24 22 L22 29 Z" fill="#2e2622"/><use href="#hairtex" style="color:#5a4a44"/><rect x="20" y="27.5" width="37" height="2" fill="#4a5060"/><path d="M20 28 L32 28 L32 38 L27 40 L22 38 L20 33 Z" fill="#553228"/><path d="M32 28 L46 28 L44 33 L37 41 L35 41 L33 35 Z" fill="#6a2a20"/><rect x="45" y="28" width="10" height="2" fill="#5a78b0"/><ellipse cx="31.5" cy="47.5" rx="5.5" ry="1.6" fill="#d08a88"/><rect x="26" y="45.6" width="11" height="0.9" fill="#7a4040" opacity="0.8"/></g></g></svg>
<svg class="a" style="left:3287px;top:1119px" width="206" height="206" viewBox="0 0 64 64" preserveAspectRatio="none"><defs><filter id="blf22" x="-5%" y="-5%" width="110%" height="110%"><feGaussianBlur stdDeviation="0.75"/></filter><clipPath id="cpf22"><rect width="64" height="64"/></clipPath></defs><g clip-path="url(#cpf22)"><g filter="url(#blf22)"><rect x="-2" y="-2" width="68" height="68" fill="#52628c"/><rect x="44" y="-2" width="22" height="68" fill="#b08858"/><rect x="44" y="-2" width="22" height="14" fill="#a87048"/><path d="M-2 -2 H28 V20 H-2 Z" fill="#e2f0dc"/><rect x="-2" y="-2" width="6" height="6" fill="#b88070"/><path d="M-2 6 L4 5 L8 12 L4 20 L-2 20 Z" fill="#a8e090"/><path d="M8 4 L13 2 L17 5 L21 4 L21 17 L10 18 L6 12 Z" fill="#52b050"/><path d="M10 5 L14 3 L17 8 L15 13 L11 12 Z" fill="#2a8030"/><rect x="3" y="18" width="19" height="5" fill="#d0e6ee"/><rect x="2" y="23" width="1.3" height="33" fill="#9a9060"/><ellipse cx="7" cy="48" rx="6" ry="4" fill="#3a3234"/><rect x="-2" y="55.5" width="26" height="2.2" fill="#dfe8f0"/><rect x="-2" y="57.5" width="28" height="9" fill="#141a2a"/><path d="M19 57.5 L23 57.5 L25 66 L21 66 Z" fill="#5a9ac8"/><path d="M28 52 L54 46 L57 66 L26 66 Z" fill="#d8b8a0"/><path d="M53 55 L58 53 L64 60 L64 66 L55 66 Z" fill="#18191f"/><path d="M55 56 L57 55 L63 63 L61 64 Z" fill="#f0f0f0"/><path d="M22 22 L46 21 L54 28 L56 36 L55 46 L48 55 L38 58 L30 57 L24 50 L22 40 Z" fill="#dcbba4"/><ellipse cx="44" cy="46" rx="10" ry="9" fill="#f0d8c4" opacity="0.55"/><path d="M22 36 L29 38 L30 56 L24 50 L22 42 Z" fill="#a08674" opacity="0.7"/><ellipse cx="58.5" cy="39" rx="3.5" ry="7" fill="#c87a68"/><path d="M21 29 L21 10 C24 3 32 0.5 42 0.5 C52 0.5 60 4 63 12 L63 31 L60 36 L56 33 L54 26 L46 22 C40 20 30 20 24 22 L22 29 Z" fill="#2e2622"/><use href="#hairtex" style="color:#5a4a44"/><rect x="20" y="27.5" width="37" height="2" fill="#4a5060"/><path d="M20 28 L32 28 L32 38 L27 40 L22 38 L20 33 Z" fill="#553228"/><path d="M32 28 L46 28 L44 33 L37 41 L35 41 L33 35 Z" fill="#6a2a20"/><rect x="45" y="28" width="10" height="2" fill="#5a78b0"/><ellipse cx="31.5" cy="47.5" rx="5.5" ry="1.6" fill="#d08a88"/><rect x="26" y="45.6" width="11" height="0.9" fill="#7a4040" opacity="0.8"/></g></g></svg>
<svg class="a" style="left:3505px;top:1119px" width="206" height="206" viewBox="0 0 64 64" preserveAspectRatio="none"><defs><filter id="blf23" x="-5%" y="-5%" width="110%" height="110%"><feGaussianBlur stdDeviation="0.75"/></filter><clipPath id="cpf23"><rect width="64" height="64"/></clipPath></defs><g clip-path="url(#cpf23)"><g filter="url(#blf23)"><rect x="-2" y="-2" width="68" height="68" fill="#52628c"/><rect x="44" y="-2" width="22" height="68" fill="#b08858"/><rect x="44" y="-2" width="22" height="14" fill="#a87048"/><path d="M-2 -2 H28 V20 H-2 Z" fill="#e2f0dc"/><rect x="-2" y="-2" width="6" height="6" fill="#b88070"/><path d="M-2 6 L4 5 L8 12 L4 20 L-2 20 Z" fill="#a8e090"/><path d="M8 4 L13 2 L17 5 L21 4 L21 17 L10 18 L6 12 Z" fill="#52b050"/><path d="M10 5 L14 3 L17 8 L15 13 L11 12 Z" fill="#2a8030"/><rect x="3" y="18" width="19" height="5" fill="#d0e6ee"/><rect x="2" y="23" width="1.3" height="33" fill="#9a9060"/><ellipse cx="7" cy="48" rx="6" ry="4" fill="#3a3234"/><rect x="-2" y="55.5" width="26" height="2.2" fill="#dfe8f0"/><rect x="-2" y="57.5" width="28" height="9" fill="#141a2a"/><path d="M19 57.5 L23 57.5 L25 66 L21 66 Z" fill="#5a9ac8"/><path d="M28 52 L54 46 L57 66 L26 66 Z" fill="#d8b8a0"/><path d="M53 55 L58 53 L64 60 L64 66 L55 66 Z" fill="#18191f"/><path d="M55 56 L57 55 L63 63 L61 64 Z" fill="#f0f0f0"/><path d="M22 22 L46 21 L54 28 L56 36 L55 46 L48 55 L38 58 L30 57 L24 50 L22 40 Z" fill="#dcbba4"/><ellipse cx="44" cy="46" rx="10" ry="9" fill="#f0d8c4" opacity="0.55"/><path d="M22 36 L29 38 L30 56 L24 50 L22 42 Z" fill="#a08674" opacity="0.7"/><ellipse cx="58.5" cy="39" rx="3.5" ry="7" fill="#c87a68"/><path d="M21 29 L21 10 C24 3 32 0.5 42 0.5 C52 0.5 60 4 63 12 L63 31 L60 36 L56 33 L54 26 L46 22 C40 20 30 20 24 22 L22 29 Z" fill="#2e2622"/><use href="#hairtex" style="color:#5a4a44"/><rect x="20" y="27.5" width="37" height="2" fill="#4a5060"/><path d="M20 28 L32 28 L32 38 L27 40 L22 38 L20 33 Z" fill="#553228"/><path d="M32 28 L46 28 L44 33 L37 41 L35 41 L33 35 Z" fill="#6a2a20"/><rect x="45" y="28" width="10" height="2" fill="#5a78b0"/><ellipse cx="31.5" cy="47.5" rx="5.5" ry="1.6" fill="#d08a88"/><rect x="26" y="45.6" width="11" height="0.9" fill="#7a4040" opacity="0.8"/></g></g></svg>
<svg class="a" style="left:3722px;top:1119px" width="206" height="206" viewBox="0 0 64 64" preserveAspectRatio="none"><defs><filter id="blf24" x="-5%" y="-5%" width="110%" height="110%"><feGaussianBlur stdDeviation="0.75"/></filter><clipPath id="cpf24"><rect width="64" height="64"/></clipPath></defs><g clip-path="url(#cpf24)"><g filter="url(#blf24)"><rect x="-2" y="-2" width="68" height="68" fill="#52628c"/><rect x="44" y="-2" width="22" height="68" fill="#b08858"/><rect x="44" y="-2" width="22" height="14" fill="#a87048"/><path d="M-2 -2 H28 V20 H-2 Z" fill="#e2f0dc"/><rect x="-2" y="-2" width="6" height="6" fill="#b88070"/><path d="M-2 6 L4 5 L8 12 L4 20 L-2 20 Z" fill="#a8e090"/><path d="M8 4 L13 2 L17 5 L21 4 L21 17 L10 18 L6 12 Z" fill="#52b050"/><path d="M10 5 L14 3 L17 8 L15 13 L11 12 Z" fill="#2a8030"/><rect x="3" y="18" width="19" height="5" fill="#d0e6ee"/><rect x="2" y="23" width="1.3" height="33" fill="#9a9060"/><ellipse cx="7" cy="48" rx="6" ry="4" fill="#3a3234"/><rect x="-2" y="55.5" width="26" height="2.2" fill="#dfe8f0"/><rect x="-2" y="57.5" width="28" height="9" fill="#141a2a"/><path d="M19 57.5 L23 57.5 L25 66 L21 66 Z" fill="#5a9ac8"/><path d="M28 52 L54 46 L57 66 L26 66 Z" fill="#d8b8a0"/><path d="M53 55 L58 53 L64 60 L64 66 L55 66 Z" fill="#18191f"/><path d="M55 56 L57 55 L63 63 L61 64 Z" fill="#f0f0f0"/><path d="M22 22 L46 21 L54 28 L56 36 L55 46 L48 55 L38 58 L30 57 L24 50 L22 40 Z" fill="#dcbba4"/><ellipse cx="44" cy="46" rx="10" ry="9" fill="#f0d8c4" opacity="0.55"/><path d="M22 36 L29 38 L30 56 L24 50 L22 42 Z" fill="#a08674" opacity="0.7"/><ellipse cx="58.5" cy="39" rx="3.5" ry="7" fill="#c87a68"/><path d="M21 29 L21 10 C24 3 32 0.5 42 0.5 C52 0.5 60 4 63 12 L63 31 L60 36 L56 33 L54 26 L46 22 C40 20 30 20 24 22 L22 29 Z" fill="#2e2622"/><use href="#hairtex" style="color:#5a4a44"/><rect x="20" y="27.5" width="37" height="2" fill="#4a5060"/><path d="M20 28 L32 28 L32 38 L27 40 L22 38 L20 33 Z" fill="#553228"/><path d="M32 28 L46 28 L44 33 L37 41 L35 41 L33 35 Z" fill="#6a2a20"/><rect x="45" y="28" width="10" height="2" fill="#5a78b0"/><ellipse cx="31.5" cy="47.5" rx="5.5" ry="1.6" fill="#d08a88"/><rect x="26" y="45.6" width="11" height="0.9" fill="#7a4040" opacity="0.8"/></g></g></svg>
<svg width="0" height="0" style="position:absolute"><defs>
<radialGradient id="mgA"><stop offset="0" stop-color="#fde8b0"/><stop offset="0.16" stop-color="#fcc08a"/><stop offset="0.34" stop-color="#f27a66"/><stop offset="0.52" stop-color="#c2407a"/><stop offset="0.74" stop-color="#6a1c80" stop-opacity="0.6"/><stop offset="1" stop-color="#3a0f5a" stop-opacity="0"/></radialGradient>
<radialGradient id="mgB"><stop offset="0" stop-color="#fdd09a"/><stop offset="0.2" stop-color="#f47a60"/><stop offset="0.42" stop-color="#c13f7a"/><stop offset="0.7" stop-color="#5e187e" stop-opacity="0.6"/><stop offset="1" stop-color="#3a0f5a" stop-opacity="0"/></radialGradient>
<radialGradient id="mgC"><stop offset="0" stop-color="#e0607a"/><stop offset="0.4" stop-color="#a83080"/><stop offset="0.75" stop-color="#5a1880" stop-opacity="0.6"/><stop offset="1" stop-color="#3a0f5a" stop-opacity="0"/></radialGradient>
<radialGradient id="mgD"><stop offset="0" stop-color="#8a3a9a"/><stop offset="0.5" stop-color="#5a1a80" stop-opacity="0.7"/><stop offset="1" stop-color="#3a0f5a" stop-opacity="0"/></radialGradient>
</defs></svg>
<svg class="a" style="left:168px;top:2554px" width="198" height="136" viewBox="0 0 198 136"><defs><pattern id="gpc0" width="4.2" height="3.4" patternUnits="userSpaceOnUse"><rect width="4.2" height="3.4" fill="#121214"/><rect width="4.2" height="1.1" fill="#38383c"/><rect width="1.2" height="3.4" fill="#303034"/></pattern></defs><rect width="198" height="136" fill="#262626"/><rect x="2.5" y="2.5" width="193" height="131" fill="url(#gpc0)"/><ellipse cx="98.4" cy="20.9" rx="24.6" ry="17.0" fill="url(#mgA)"/><ellipse cx="49.7" cy="34.8" rx="24.6" ry="17.0" fill="url(#mgA)"/><ellipse cx="147.3" cy="34.8" rx="24.6" ry="17.0" fill="url(#mgA)"/><ellipse cx="28.9" cy="68.3" rx="24.6" ry="17.0" fill="url(#mgA)"/><ellipse cx="168.1" cy="68.3" rx="24.6" ry="17.0" fill="url(#mgA)"/><ellipse cx="49.7" cy="102.1" rx="24.6" ry="17.0" fill="url(#mgA)"/><ellipse cx="147.3" cy="102.1" rx="24.6" ry="17.0" fill="url(#mgA)"/><ellipse cx="98.4" cy="116.6" rx="24.6" ry="17.0" fill="url(#mgA)"/></svg>
<svg class="a" style="left:400px;top:2554px" width="198" height="136" viewBox="0 0 198 136"><defs><pattern id="gpc1" width="4.2" height="3.4" patternUnits="userSpaceOnUse"><rect width="4.2" height="3.4" fill="#121214"/><rect width="4.2" height="1.1" fill="#38383c"/><rect width="1.2" height="3.4" fill="#303034"/></pattern></defs><rect width="198" height="136" fill="#262626"/><rect x="2.5" y="2.5" width="193" height="131" fill="url(#gpc1)"/><ellipse cx="99.6" cy="20.0" rx="22.5" ry="15.5" fill="url(#mgA)"/><ellipse cx="51.7" cy="34.4" rx="22.5" ry="15.5" fill="url(#mgB)"/><ellipse cx="147.7" cy="33.3" rx="22.5" ry="15.5" fill="url(#mgA)"/><ellipse cx="30.9" cy="68.3" rx="22.5" ry="15.5" fill="url(#mgB)"/><ellipse cx="167.7" cy="68.3" rx="22.5" ry="15.5" fill="url(#mgB)"/><ellipse cx="52.3" cy="100.6" rx="22.5" ry="15.5" fill="url(#mgB)"/><ellipse cx="146.7" cy="99.7" rx="22.5" ry="15.5" fill="url(#mgB)"/><ellipse cx="99.6" cy="114.5" rx="22.5" ry="15.5" fill="url(#mgB)"/></svg>
<svg class="a" style="left:631px;top:2554px" width="198" height="136" viewBox="0 0 198 136"><defs><pattern id="gpc2" width="4.2" height="3.4" patternUnits="userSpaceOnUse"><rect width="4.2" height="3.4" fill="#121214"/><rect width="4.2" height="1.1" fill="#38383c"/><rect width="1.2" height="3.4" fill="#303034"/></pattern></defs><rect width="198" height="136" fill="#262626"/><rect x="2.5" y="2.5" width="193" height="131" fill="url(#gpc2)"/><ellipse cx="101.0" cy="24.9" rx="16.7" ry="11.5" fill="url(#mgA)"/><ellipse cx="51.3" cy="34.4" rx="16.7" ry="11.5" fill="url(#mgB)"/><ellipse cx="145.7" cy="33.3" rx="16.7" ry="11.5" fill="url(#mgB)"/><ellipse cx="32.9" cy="68.3" rx="16.7" ry="11.5" fill="url(#mgB)"/><ellipse cx="164.7" cy="69.8" rx="16.7" ry="11.5" fill="url(#mgC)"/><ellipse cx="51.3" cy="102.1" rx="16.7" ry="11.5" fill="url(#mgA)"/><ellipse cx="144.7" cy="102.1" rx="16.7" ry="11.5" fill="url(#mgB)"/><ellipse cx="101.0" cy="110.6" rx="16.7" ry="11.5" fill="url(#mgB)"/></svg>
<svg class="a" style="left:863px;top:2554px" width="198" height="136" viewBox="0 0 198 136"><defs><pattern id="gpc3" width="4.2" height="3.4" patternUnits="userSpaceOnUse"><rect width="4.2" height="3.4" fill="#121214"/><rect width="4.2" height="1.1" fill="#38383c"/><rect width="1.2" height="3.4" fill="#303034"/></pattern></defs><rect width="198" height="136" fill="#262626"/><rect x="2.5" y="2.5" width="193" height="131" fill="url(#gpc3)"/><ellipse cx="100.6" cy="25.8" rx="13.0" ry="9.0" fill="url(#mgB)"/><ellipse cx="51.3" cy="34.8" rx="13.0" ry="9.0" fill="url(#mgB)"/><ellipse cx="146.7" cy="34.8" rx="13.0" ry="9.0" fill="url(#mgB)"/><ellipse cx="32.9" cy="69.2" rx="13.0" ry="9.0" fill="url(#mgC)"/><ellipse cx="163.2" cy="69.2" rx="13.0" ry="9.0" fill="url(#mgC)"/><ellipse cx="51.3" cy="102.1" rx="13.0" ry="9.0" fill="url(#mgA)"/><ellipse cx="144.3" cy="101.6" rx="13.0" ry="9.0" fill="url(#mgB)"/><ellipse cx="101.0" cy="109.6" rx="13.0" ry="9.0" fill="url(#mgC)"/></svg>
<svg class="a" style="left:1094px;top:2554px" width="198" height="136" viewBox="0 0 198 136"><defs><pattern id="gpc4" width="4.2" height="3.4" patternUnits="userSpaceOnUse"><rect width="4.2" height="3.4" fill="#121214"/><rect width="4.2" height="1.1" fill="#38383c"/><rect width="1.2" height="3.4" fill="#303034"/></pattern></defs><rect width="198" height="136" fill="#262626"/><rect x="2.5" y="2.5" width="193" height="131" fill="url(#gpc4)"/><ellipse cx="100.6" cy="28.4" rx="8.0" ry="5.5" fill="url(#mgD)"/><ellipse cx="55.6" cy="39.8" rx="9.4" ry="6.5" fill="url(#mgC)"/><ellipse cx="148.7" cy="40.8" rx="9.4" ry="6.5" fill="url(#mgC)"/><ellipse cx="37.8" cy="68.3" rx="9.4" ry="6.5" fill="url(#mgC)"/><ellipse cx="165.1" cy="70.7" rx="11.6" ry="8.0" fill="url(#mgA)"/><ellipse cx="53.7" cy="95.6" rx="10.2" ry="7.0" fill="url(#mgB)"/><ellipse cx="150.3" cy="99.1" rx="11.6" ry="8.0" fill="url(#mgA)"/><ellipse cx="100.0" cy="114.1" rx="10.2" ry="7.0" fill="url(#mgB)"/></svg>
<svg class="a" style="left:168px;top:2724px" width="198" height="136" viewBox="0 0 198 136"><defs><pattern id="gps0" width="4.2" height="3.4" patternUnits="userSpaceOnUse"><rect width="4.2" height="3.4" fill="#121214"/><rect width="4.2" height="1.1" fill="#38383c"/><rect width="1.2" height="3.4" fill="#303034"/></pattern></defs><rect width="198" height="136" fill="#262626"/><rect x="2.5" y="2.5" width="193" height="131" fill="url(#gps0)"/><ellipse cx="98.4" cy="20.9" rx="25.4" ry="17.5" fill="url(#mgA)"/><ellipse cx="49.7" cy="34.8" rx="25.4" ry="17.5" fill="url(#mgA)"/><ellipse cx="147.3" cy="34.8" rx="25.4" ry="17.5" fill="url(#mgA)"/><ellipse cx="28.9" cy="68.3" rx="25.4" ry="17.5" fill="url(#mgA)"/><ellipse cx="168.1" cy="68.3" rx="25.4" ry="17.5" fill="url(#mgA)"/><ellipse cx="49.7" cy="102.1" rx="25.4" ry="17.5" fill="url(#mgA)"/><ellipse cx="147.3" cy="102.1" rx="25.4" ry="17.5" fill="url(#mgA)"/><ellipse cx="98.4" cy="116.6" rx="25.4" ry="17.5" fill="url(#mgA)"/></svg>
<svg class="a" style="left:400px;top:2724px" width="198" height="136" viewBox="0 0 198 136"><defs><pattern id="gps1" width="4.2" height="3.4" patternUnits="userSpaceOnUse"><rect width="4.2" height="3.4" fill="#121214"/><rect width="4.2" height="1.1" fill="#38383c"/><rect width="1.2" height="3.4" fill="#303034"/></pattern></defs><rect width="198" height="136" fill="#262626"/><rect x="2.5" y="2.5" width="193" height="131" fill="url(#gps1)"/><ellipse cx="98.4" cy="20.9" rx="25.4" ry="17.5" fill="url(#mgA)"/><ellipse cx="49.7" cy="34.8" rx="25.4" ry="17.5" fill="url(#mgA)"/><ellipse cx="147.3" cy="34.8" rx="25.4" ry="17.5" fill="url(#mgA)"/><ellipse cx="28.9" cy="68.3" rx="25.4" ry="17.5" fill="url(#mgA)"/><ellipse cx="168.1" cy="68.3" rx="25.4" ry="17.5" fill="url(#mgA)"/><ellipse cx="49.7" cy="102.1" rx="25.4" ry="17.5" fill="url(#mgA)"/><ellipse cx="147.3" cy="102.1" rx="25.4" ry="17.5" fill="url(#mgA)"/><ellipse cx="98.4" cy="116.6" rx="25.4" ry="17.5" fill="url(#mgA)"/></svg>
<svg class="a" style="left:631px;top:2724px" width="198" height="136" viewBox="0 0 198 136"><defs><pattern id="gps2" width="4.2" height="3.4" patternUnits="userSpaceOnUse"><rect width="4.2" height="3.4" fill="#121214"/><rect width="4.2" height="1.1" fill="#38383c"/><rect width="1.2" height="3.4" fill="#303034"/></pattern></defs><rect width="198" height="136" fill="#262626"/><rect x="2.5" y="2.5" width="193" height="131" fill="url(#gps2)"/><ellipse cx="98.4" cy="20.9" rx="25.4" ry="17.5" fill="url(#mgA)"/><ellipse cx="49.7" cy="34.8" rx="25.4" ry="17.5" fill="url(#mgA)"/><ellipse cx="147.3" cy="34.8" rx="25.4" ry="17.5" fill="url(#mgA)"/><ellipse cx="28.9" cy="68.3" rx="25.4" ry="17.5" fill="url(#mgA)"/><ellipse cx="168.1" cy="68.3" rx="25.4" ry="17.5" fill="url(#mgA)"/><ellipse cx="49.7" cy="102.1" rx="25.4" ry="17.5" fill="url(#mgA)"/><ellipse cx="147.3" cy="102.1" rx="25.4" ry="17.5" fill="url(#mgA)"/><ellipse cx="98.4" cy="116.6" rx="25.4" ry="17.5" fill="url(#mgA)"/></svg>
<svg class="a" style="left:863px;top:2724px" width="198" height="136" viewBox="0 0 198 136"><defs><pattern id="gps3" width="4.2" height="3.4" patternUnits="userSpaceOnUse"><rect width="4.2" height="3.4" fill="#121214"/><rect width="4.2" height="1.1" fill="#38383c"/><rect width="1.2" height="3.4" fill="#303034"/></pattern></defs><rect width="198" height="136" fill="#262626"/><rect x="2.5" y="2.5" width="193" height="131" fill="url(#gps3)"/><ellipse cx="98.4" cy="20.9" rx="25.4" ry="17.5" fill="url(#mgA)"/><ellipse cx="49.7" cy="34.8" rx="25.4" ry="17.5" fill="url(#mgA)"/><ellipse cx="147.3" cy="34.8" rx="25.4" ry="17.5" fill="url(#mgA)"/><ellipse cx="28.9" cy="68.3" rx="25.4" ry="17.5" fill="url(#mgA)"/><ellipse cx="168.1" cy="68.3" rx="25.4" ry="17.5" fill="url(#mgA)"/><ellipse cx="49.7" cy="102.1" rx="25.4" ry="17.5" fill="url(#mgA)"/><ellipse cx="147.3" cy="102.1" rx="25.4" ry="17.5" fill="url(#mgA)"/><ellipse cx="98.4" cy="116.6" rx="25.4" ry="17.5" fill="url(#mgA)"/></svg>
<svg class="a" style="left:1094px;top:2724px" width="198" height="136" viewBox="0 0 198 136"><defs><pattern id="gps4" width="4.2" height="3.4" patternUnits="userSpaceOnUse"><rect width="4.2" height="3.4" fill="#121214"/><rect width="4.2" height="1.1" fill="#38383c"/><rect width="1.2" height="3.4" fill="#303034"/></pattern></defs><rect width="198" height="136" fill="#262626"/><rect x="2.5" y="2.5" width="193" height="131" fill="url(#gps4)"/><ellipse cx="98.4" cy="20.9" rx="25.4" ry="17.5" fill="url(#mgA)"/><ellipse cx="49.7" cy="34.8" rx="25.4" ry="17.5" fill="url(#mgA)"/><ellipse cx="147.3" cy="34.8" rx="25.4" ry="17.5" fill="url(#mgA)"/><ellipse cx="28.9" cy="68.3" rx="25.4" ry="17.5" fill="url(#mgA)"/><ellipse cx="168.1" cy="68.3" rx="25.4" ry="17.5" fill="url(#mgA)"/><ellipse cx="49.7" cy="102.1" rx="25.4" ry="17.5" fill="url(#mgA)"/><ellipse cx="147.3" cy="102.1" rx="25.4" ry="17.5" fill="url(#mgA)"/><ellipse cx="98.4" cy="116.6" rx="25.4" ry="17.5" fill="url(#mgA)"/></svg>
<svg class="a" style="left:129px;top:728px" width="131" height="113" viewBox="0 0 100 100" preserveAspectRatio="none"><defs><filter id="fm1" x="-5%" y="-5%" width="110%" height="110%"><feGaussianBlur stdDeviation="1.00"/></filter><clipPath id="cm1"><rect width="100" height="100"/></clipPath></defs><g clip-path="url(#cm1)"><g filter="url(#fm1)"><rect x="0" y="0" width="100" height="100" fill="#4a78c0" opacity="1"/><rect x="0" y="0" width="100" height="30" fill="#3d6cb6" opacity="1"/><polygon points="0,20 8,10 15,18 22,8 30,20 38,14 46,22 55,12 62,20 70,15 80,22 100,18 100,45 0,50" fill="#8c8478" opacity="1"/><polygon points="10,14 14,22 8,30 4,24" fill="#e8e8ec" opacity="1"/><polygon points="44,20 50,16 56,24 48,28" fill="#f0f0f0" opacity="1"/><polygon points="62,20 70,17 76,24 66,27" fill="#e4e4e8" opacity="1"/><polygon points="0,40 100,32 100,52 0,55" fill="#4a6a48" opacity="1"/><rect x="0" y="52" width="100" height="48" fill="#3aa4c0" opacity="1"/><polygon points="0,55 30,55 45,70 35,82 10,80 0,70" fill="#b8c0c4" opacity="0.8"/><polygon points="45,56 70,55 75,66 55,72" fill="#a0aab0" opacity="0.7"/><polygon points="72,20 78,35 84,18 92,40 100,28 100,100 70,100 66,60" fill="#244a28" opacity="1"/><polygon points="60,88 80,82 100,90 100,100 60,100" fill="#3a3430" opacity="1"/></g></g></svg>
<svg class="a" style="left:295px;top:770px" width="264" height="158" viewBox="0 0 100 100" preserveAspectRatio="none"><defs><filter id="fm2" x="-5%" y="-5%" width="110%" height="110%"><feGaussianBlur stdDeviation="0.50"/></filter><clipPath id="cm2"><rect width="100" height="100"/></clipPath></defs><g clip-path="url(#cm2)"><g filter="url(#fm2)"><svg x="0.00" y="0.00" width="20" height="33.33" viewBox="0 0 100 100" preserveAspectRatio="none"><rect x="-5" y="-5" width="110" height="110" fill="#e9e4e0" opacity="1"/><ellipse cx="50" cy="33.0" rx="39.0" ry="33.800000000000004" fill="#1c1410" opacity="1"/><ellipse cx="50" cy="53.8" rx="28.6" ry="39.0" fill="#e0a888" opacity="1"/><ellipse cx="50" cy="17.4" rx="33.800000000000004" ry="15.600000000000001" fill="#1c1410" opacity="1"/><ellipse cx="39.6" cy="46" rx="3.9000000000000004" ry="2.6" fill="#3a2a20" opacity="0.8"/><ellipse cx="60.4" cy="46" rx="3.9000000000000004" ry="2.6" fill="#3a2a20" opacity="0.8"/><ellipse cx="50" cy="72.0" rx="10.4" ry="3.9000000000000004" fill="#b05a50" opacity="0.7"/><polygon points="-8.5,100 24.0,98.0 76.0,98.0 108.5,100" fill="#3a3a40" opacity="0.9"/></svg><svg x="20.00" y="0.00" width="20" height="33.33" viewBox="0 0 100 100" preserveAspectRatio="none"><rect x="-5" y="-5" width="110" height="110" fill="#1a1410" opacity="1"/><ellipse cx="50" cy="52.5" rx="46.800000000000004" ry="62.400000000000006" fill="#7a5a40" opacity="1"/><ellipse cx="50" cy="33.0" rx="39.0" ry="33.800000000000004" fill="#7a5a40" opacity="1"/><ellipse cx="50" cy="53.8" rx="28.6" ry="39.0" fill="#e8c0a8" opacity="1"/><ellipse cx="50" cy="17.4" rx="33.800000000000004" ry="15.600000000000001" fill="#7a5a40" opacity="1"/><ellipse cx="39.6" cy="46" rx="3.9000000000000004" ry="2.6" fill="#3a2a20" opacity="0.8"/><ellipse cx="60.4" cy="46" rx="3.9000000000000004" ry="2.6" fill="#3a2a20" opacity="0.8"/><ellipse cx="50" cy="72.0" rx="10.4" ry="3.9000000000000004" fill="#b05a50" opacity="0.7"/><polygon points="-8.5,100 24.0,98.0 76.0,98.0 108.5,100" fill="#7a5a40" opacity="0.9"/></svg><svg x="40.00" y="0.00" width="20" height="33.33" viewBox="0 0 100 100" preserveAspectRatio="none"><rect x="-5" y="-5" width="110" height="110" fill="#ecece8" opacity="1"/><ellipse cx="50" cy="52.5" rx="46.800000000000004" ry="62.400000000000006" fill="#d8b878" opacity="1"/><ellipse cx="50" cy="33.0" rx="39.0" ry="33.800000000000004" fill="#d8b878" opacity="1"/><ellipse cx="50" cy="53.8" rx="28.6" ry="39.0" fill="#f0c8a8" opacity="1"/><ellipse cx="50" cy="17.4" rx="33.800000000000004" ry="15.600000000000001" fill="#d8b878" opacity="1"/><ellipse cx="39.6" cy="46" rx="3.9000000000000004" ry="2.6" fill="#3a2a20" opacity="0.8"/><ellipse cx="60.4" cy="46" rx="3.9000000000000004" ry="2.6" fill="#3a2a20" opacity="0.8"/><ellipse cx="50" cy="72.0" rx="10.4" ry="3.9000000000000004" fill="#b05a50" opacity="0.7"/><polygon points="-8.5,100 24.0,98.0 76.0,98.0 108.5,100" fill="#d8b878" opacity="0.9"/></svg><svg x="60.00" y="0.00" width="20" height="33.33" viewBox="0 0 100 100" preserveAspectRatio="none"><rect x="-5" y="-5" width="110" height="110" fill="#3a2a24" opacity="1"/><ellipse cx="50" cy="33.0" rx="39.0" ry="33.800000000000004" fill="#4a3020" opacity="1"/><ellipse cx="50" cy="53.8" rx="28.6" ry="39.0" fill="#d8a888" opacity="1"/><ellipse cx="50" cy="17.4" rx="33.800000000000004" ry="15.600000000000001" fill="#4a3020" opacity="1"/><ellipse cx="39.6" cy="46" rx="3.9000000000000004" ry="2.6" fill="#3a2a20" opacity="0.8"/><ellipse cx="60.4" cy="46" rx="3.9000000000000004" ry="2.6" fill="#3a2a20" opacity="0.8"/><ellipse cx="50" cy="72.0" rx="10.4" ry="3.9000000000000004" fill="#b05a50" opacity="0.7"/><polygon points="-8.5,100 24.0,98.0 76.0,98.0 108.5,100" fill="#3a3a40" opacity="0.9"/></svg><svg x="80.00" y="0.00" width="20" height="33.33" viewBox="0 0 100 100" preserveAspectRatio="none"><rect x="-5" y="-5" width="110" height="110" fill="#e8e0e0" opacity="1"/><ellipse cx="50" cy="52.5" rx="46.800000000000004" ry="62.400000000000006" fill="#2a1c18" opacity="1"/><ellipse cx="50" cy="33.0" rx="39.0" ry="33.800000000000004" fill="#2a1c18" opacity="1"/><ellipse cx="50" cy="53.8" rx="28.6" ry="39.0" fill="#f0c8b8" opacity="1"/><ellipse cx="50" cy="17.4" rx="33.800000000000004" ry="15.600000000000001" fill="#2a1c18" opacity="1"/><ellipse cx="39.6" cy="46" rx="3.9000000000000004" ry="2.6" fill="#3a2a20" opacity="0.8"/><ellipse cx="60.4" cy="46" rx="3.9000000000000004" ry="2.6" fill="#3a2a20" opacity="0.8"/><ellipse cx="50" cy="72.0" rx="10.4" ry="3.9000000000000004" fill="#b05a50" opacity="0.7"/><polygon points="-8.5,100 24.0,98.0 76.0,98.0 108.5,100" fill="#2a1c18" opacity="0.9"/></svg><svg x="0.00" y="33.33" width="20" height="33.33" viewBox="0 0 100 100" preserveAspectRatio="none"><rect x="-5" y="-5" width="110" height="110" fill="#7ab0d8" opacity="1"/><ellipse cx="50" cy="52.5" rx="46.800000000000004" ry="62.400000000000006" fill="#d8b070" opacity="1"/><ellipse cx="50" cy="33.0" rx="39.0" ry="33.800000000000004" fill="#d8b070" opacity="1"/><ellipse cx="50" cy="53.8" rx="28.6" ry="39.0" fill="#e8b898" opacity="1"/><ellipse cx="50" cy="17.4" rx="33.800000000000004" ry="15.600000000000001" fill="#d8b070" opacity="1"/><ellipse cx="39.6" cy="46" rx="3.9000000000000004" ry="2.6" fill="#3a2a20" opacity="0.8"/><ellipse cx="60.4" cy="46" rx="3.9000000000000004" ry="2.6" fill="#3a2a20" opacity="0.8"/><ellipse cx="50" cy="72.0" rx="10.4" ry="3.9000000000000004" fill="#b05a50" opacity="0.7"/><polygon points="-8.5,100 24.0,98.0 76.0,98.0 108.5,100" fill="#d8b070" opacity="0.9"/></svg><svg x="20.00" y="33.33" width="20" height="33.33" viewBox="0 0 100 100" preserveAspectRatio="none"><rect x="-5" y="-5" width="110" height="110" fill="#b88a40" opacity="1"/><ellipse cx="50" cy="52.5" rx="46.800000000000004" ry="62.400000000000006" fill="#181010" opacity="1"/><ellipse cx="50" cy="33.0" rx="39.0" ry="33.800000000000004" fill="#181010" opacity="1"/><ellipse cx="50" cy="53.8" rx="28.6" ry="39.0" fill="#e0b098" opacity="1"/><ellipse cx="50" cy="17.4" rx="33.800000000000004" ry="15.600000000000001" fill="#181010" opacity="1"/><ellipse cx="39.6" cy="46" rx="3.9000000000000004" ry="2.6" fill="#3a2a20" opacity="0.8"/><ellipse cx="60.4" cy="46" rx="3.9000000000000004" ry="2.6" fill="#3a2a20" opacity="0.8"/><ellipse cx="50" cy="72.0" rx="10.4" ry="3.9000000000000004" fill="#b05a50" opacity="0.7"/><polygon points="-8.5,100 24.0,98.0 76.0,98.0 108.5,100" fill="#181010" opacity="0.9"/></svg><svg x="40.00" y="33.33" width="20" height="33.33" viewBox="0 0 100 100" preserveAspectRatio="none"><rect x="-5" y="-5" width="110" height="110" fill="#e0dcdc" opacity="1"/><ellipse cx="50" cy="52.5" rx="46.800000000000004" ry="62.400000000000006" fill="#101010" opacity="1"/><ellipse cx="50" cy="33.0" rx="39.0" ry="33.800000000000004" fill="#101010" opacity="1"/><ellipse cx="50" cy="53.8" rx="28.6" ry="39.0" fill="#f4dcd0" opacity="1"/><ellipse cx="50" cy="17.4" rx="33.800000000000004" ry="15.600000000000001" fill="#101010" opacity="1"/><ellipse cx="39.6" cy="46" rx="3.9000000000000004" ry="2.6" fill="#3a2a20" opacity="0.8"/><ellipse cx="60.4" cy="46" rx="3.9000000000000004" ry="2.6" fill="#3a2a20" opacity="0.8"/><ellipse cx="50" cy="72.0" rx="10.4" ry="3.9000000000000004" fill="#b05a50" opacity="0.7"/><polygon points="-8.5,100 24.0,98.0 76.0,98.0 108.5,100" fill="#101010" opacity="0.9"/></svg><svg x="60.00" y="33.33" width="20" height="33.33" viewBox="0 0 100 100" preserveAspectRatio="none"><rect x="-5" y="-5" width="110" height="110" fill="#3070c0" opacity="1"/><ellipse cx="50" cy="33.0" rx="39.0" ry="33.800000000000004" fill="#d0b080" opacity="1"/><ellipse cx="50" cy="53.8" rx="28.6" ry="39.0" fill="#e0b090" opacity="1"/><ellipse cx="50" cy="17.4" rx="33.800000000000004" ry="15.600000000000001" fill="#d0b080" opacity="1"/><ellipse cx="39.6" cy="46" rx="3.9000000000000004" ry="2.6" fill="#3a2a20" opacity="0.8"/><ellipse cx="60.4" cy="46" rx="3.9000000000000004" ry="2.6" fill="#3a2a20" opacity="0.8"/><ellipse cx="50" cy="72.0" rx="10.4" ry="3.9000000000000004" fill="#b05a50" opacity="0.7"/><polygon points="-8.5,100 24.0,98.0 76.0,98.0 108.5,100" fill="#3a3a40" opacity="0.9"/></svg><svg x="80.00" y="33.33" width="20" height="33.33" viewBox="0 0 100 100" preserveAspectRatio="none"><rect x="-5" y="-5" width="110" height="110" fill="#e8e8e8" opacity="1"/><ellipse cx="50" cy="33.0" rx="39.0" ry="33.800000000000004" fill="#141010" opacity="1"/><ellipse cx="50" cy="53.8" rx="28.6" ry="39.0" fill="#c89070" opacity="1"/><ellipse cx="50" cy="17.4" rx="33.800000000000004" ry="15.600000000000001" fill="#141010" opacity="1"/><ellipse cx="39.6" cy="46" rx="3.9000000000000004" ry="2.6" fill="#3a2a20" opacity="0.8"/><ellipse cx="60.4" cy="46" rx="3.9000000000000004" ry="2.6" fill="#3a2a20" opacity="0.8"/><ellipse cx="50" cy="72.0" rx="10.4" ry="3.9000000000000004" fill="#b05a50" opacity="0.7"/><polygon points="-8.5,100 24.0,98.0 76.0,98.0 108.5,100" fill="#3a3a40" opacity="0.9"/></svg><svg x="0.00" y="66.66" width="20" height="33.33" viewBox="0 0 100 100" preserveAspectRatio="none"><rect x="-5" y="-5" width="110" height="110" fill="#f0f0f0" opacity="1"/><ellipse cx="50" cy="52.5" rx="46.800000000000004" ry="62.400000000000006" fill="#201410" opacity="1"/><ellipse cx="50" cy="33.0" rx="39.0" ry="33.800000000000004" fill="#201410" opacity="1"/><ellipse cx="50" cy="53.8" rx="28.6" ry="39.0" fill="#f0c8b0" opacity="1"/><ellipse cx="50" cy="17.4" rx="33.800000000000004" ry="15.600000000000001" fill="#201410" opacity="1"/><ellipse cx="39.6" cy="46" rx="3.9000000000000004" ry="2.6" fill="#3a2a20" opacity="0.8"/><ellipse cx="60.4" cy="46" rx="3.9000000000000004" ry="2.6" fill="#3a2a20" opacity="0.8"/><ellipse cx="50" cy="72.0" rx="10.4" ry="3.9000000000000004" fill="#b05a50" opacity="0.7"/><polygon points="-8.5,100 24.0,98.0 76.0,98.0 108.5,100" fill="#201410" opacity="0.9"/></svg><svg x="20.00" y="66.66" width="20" height="33.33" viewBox="0 0 100 100" preserveAspectRatio="none"><rect x="-5" y="-5" width="110" height="110" fill="#e8e8ec" opacity="1"/><ellipse cx="50" cy="33.0" rx="39.0" ry="33.800000000000004" fill="#281c14" opacity="1"/><ellipse cx="50" cy="53.8" rx="28.6" ry="39.0" fill="#d8a080" opacity="1"/><ellipse cx="50" cy="17.4" rx="33.800000000000004" ry="15.600000000000001" fill="#281c14" opacity="1"/><ellipse cx="39.6" cy="46" rx="3.9000000000000004" ry="2.6" fill="#3a2a20" opacity="0.8"/><ellipse cx="60.4" cy="46" rx="3.9000000000000004" ry="2.6" fill="#3a2a20" opacity="0.8"/><ellipse cx="50" cy="72.0" rx="10.4" ry="3.9000000000000004" fill="#b05a50" opacity="0.7"/><polygon points="-8.5,100 24.0,98.0 76.0,98.0 108.5,100" fill="#3a3a40" opacity="0.9"/></svg><svg x="40.00" y="66.66" width="20" height="33.33" viewBox="0 0 100 100" preserveAspectRatio="none"><rect x="-5" y="-5" width="110" height="110" fill="#3a2010" opacity="1"/><ellipse cx="50" cy="52.5" rx="46.800000000000004" ry="62.400000000000006" fill="#7a4a28" opacity="1"/><ellipse cx="50" cy="33.0" rx="39.0" ry="33.800000000000004" fill="#7a4a28" opacity="1"/><ellipse cx="50" cy="53.8" rx="28.6" ry="39.0" fill="#e0a070" opacity="1"/><ellipse cx="50" cy="17.4" rx="33.800000000000004" ry="15.600000000000001" fill="#7a4a28" opacity="1"/><ellipse cx="39.6" cy="46" rx="3.9000000000000004" ry="2.6" fill="#3a2a20" opacity="0.8"/><ellipse cx="60.4" cy="46" rx="3.9000000000000004" ry="2.6" fill="#3a2a20" opacity="0.8"/><ellipse cx="50" cy="72.0" rx="10.4" ry="3.9000000000000004" fill="#b05a50" opacity="0.7"/><polygon points="-8.5,100 24.0,98.0 76.0,98.0 108.5,100" fill="#7a4a28" opacity="0.9"/></svg><svg x="60.00" y="66.66" width="20" height="33.33" viewBox="0 0 100 100" preserveAspectRatio="none"><rect x="-5" y="-5" width="110" height="110" fill="#f0f0f4" opacity="1"/><ellipse cx="50" cy="33.0" rx="39.0" ry="33.800000000000004" fill="#201814" opacity="1"/><ellipse cx="50" cy="53.8" rx="28.6" ry="39.0" fill="#c89078" opacity="1"/><ellipse cx="50" cy="17.4" rx="33.800000000000004" ry="15.600000000000001" fill="#201814" opacity="1"/><ellipse cx="39.6" cy="46" rx="3.9000000000000004" ry="2.6" fill="#3a2a20" opacity="0.8"/><ellipse cx="60.4" cy="46" rx="3.9000000000000004" ry="2.6" fill="#3a2a20" opacity="0.8"/><ellipse cx="50" cy="72.0" rx="10.4" ry="3.9000000000000004" fill="#b05a50" opacity="0.7"/><polygon points="-8.5,100 24.0,98.0 76.0,98.0 108.5,100" fill="#3a3a40" opacity="0.9"/></svg><svg x="80.00" y="66.66" width="20" height="33.33" viewBox="0 0 100 100" preserveAspectRatio="none"><rect x="-5" y="-5" width="110" height="110" fill="#3a2a20" opacity="1"/><ellipse cx="50" cy="52.5" rx="46.800000000000004" ry="62.400000000000006" fill="#1c1410" opacity="1"/><ellipse cx="50" cy="33.0" rx="39.0" ry="33.800000000000004" fill="#1c1410" opacity="1"/><ellipse cx="50" cy="53.8" rx="28.6" ry="39.0" fill="#d09870" opacity="1"/><ellipse cx="50" cy="17.4" rx="33.800000000000004" ry="15.600000000000001" fill="#1c1410" opacity="1"/><ellipse cx="39.6" cy="46" rx="3.9000000000000004" ry="2.6" fill="#3a2a20" opacity="0.8"/><ellipse cx="60.4" cy="46" rx="3.9000000000000004" ry="2.6" fill="#3a2a20" opacity="0.8"/><ellipse cx="50" cy="72.0" rx="10.4" ry="3.9000000000000004" fill="#b05a50" opacity="0.7"/><polygon points="-8.5,100 24.0,98.0 76.0,98.0 108.5,100" fill="#1c1410" opacity="0.9"/></svg></g></g></svg><div class="a" style="left:291px;top:766px;width:272px;height:166px;border:4px solid #7030a0;border-radius:3px"></div>
<svg class="a" style="left:598px;top:708px" width="131" height="124" viewBox="0 0 100 100" preserveAspectRatio="none"><defs><filter id="fm3" x="-5%" y="-5%" width="110%" height="110%"><feGaussianBlur stdDeviation="0.80"/></filter><clipPath id="cm3"><rect width="100" height="100"/></clipPath></defs><g clip-path="url(#cm3)"><g filter="url(#fm3)"><rect x="0" y="0" width="100" height="100" fill="#4e9a34" opacity="1"/><rect x="0" y="0" width="100" height="40" fill="#5aa63a" opacity="0.6"/><ellipse cx="52" cy="30" rx="28" ry="26" fill="#d4d4d4" opacity="1"/><ellipse cx="53" cy="50" rx="19" ry="25" fill="#eec4b0" opacity="1"/><ellipse cx="53" cy="66" rx="7" ry="2.5" fill="#d0405a" opacity="0.9"/><polygon points="0,100 5,80 30,70 50,82 72,70 95,76 100,100" fill="#2a7ad0" opacity="1"/><polygon points="30,78 42,86 40,100 26,100" fill="#60a8f0" opacity="0.7"/></g></g></svg>
<svg class="a" style="left:810px;top:728px" width="124" height="104" viewBox="0 0 100 100" preserveAspectRatio="none"><defs><filter id="fm4" x="-5%" y="-5%" width="110%" height="110%"><feGaussianBlur stdDeviation="0.80"/></filter><clipPath id="cm4"><rect width="100" height="100"/></clipPath></defs><g clip-path="url(#cm4)"><g filter="url(#fm4)"><rect x="0" y="0" width="100" height="100" fill="#5a5220" opacity="1"/><ellipse cx="20" cy="20" rx="20" ry="25" fill="#8a7a30" opacity="0.7"/><ellipse cx="85" cy="60" rx="18" ry="40" fill="#3a3418" opacity="0.7"/><ellipse cx="10" cy="80" rx="15" ry="20" fill="#9a8a30" opacity="0.6"/><ellipse cx="50" cy="60" rx="30" ry="42" fill="#ece4d4" opacity="1"/><ellipse cx="20" cy="30" rx="12" ry="14" fill="#f0e4cc" opacity="1"/><ellipse cx="78" cy="32" rx="12" ry="14" fill="#f0e4cc" opacity="1"/><ellipse cx="49" cy="58" rx="5" ry="4" fill="#4a3030" opacity="1"/><ellipse cx="40" cy="42" rx="3" ry="2" fill="#b08040" opacity="1"/><ellipse cx="58" cy="42" rx="3" ry="2" fill="#b08040" opacity="1"/><polygon points="20,100 30,80 70,80 85,100" fill="#f0ece0" opacity="1"/></g></g></svg>
<svg class="a" style="left:995px;top:793px" width="235" height="133" viewBox="0 0 100 100" preserveAspectRatio="none"><defs><filter id="fm5" x="-5%" y="-5%" width="110%" height="110%"><feGaussianBlur stdDeviation="0.70"/></filter><clipPath id="cm5"><rect width="100" height="100"/></clipPath></defs><g clip-path="url(#cm5)"><g filter="url(#fm5)"><rect x="0" y="0" width="100" height="100" fill="#1c1014" opacity="1"/><rect x="49.5" y="0" width="1" height="100" fill="#3a3a3a" opacity="1"/><ellipse cx="24" cy="35" rx="12" ry="18" fill="#d09070" opacity="1"/><ellipse cx="22" cy="30" rx="10" ry="8" fill="#e0c090" opacity="0.7"/><ellipse cx="24" cy="72" rx="20" ry="26" fill="#7a6a40" opacity="0.8"/><ellipse cx="20" cy="75" rx="12" ry="14" fill="#c07040" opacity="0.6"/><ellipse cx="40" cy="70" rx="8" ry="30" fill="#5a5a30" opacity="0.6"/><ellipse cx="74" cy="22" rx="10" ry="14" fill="#e8d0b0" opacity="1"/><ellipse cx="74" cy="18" rx="12" ry="8" fill="#d8c080" opacity="0.8"/><ellipse cx="76" cy="68" rx="22" ry="32" fill="#e07020" opacity="1"/><ellipse cx="72" cy="60" rx="10" ry="10" fill="#f8f0e8" opacity="0.9"/><ellipse cx="80" cy="78" rx="14" ry="14" fill="#f0a030" opacity="0.8"/><ellipse cx="68" cy="86" rx="12" ry="8" fill="#f8f0f0" opacity="0.8"/></g></g></svg><div class="a" style="left:991px;top:789px;width:243px;height:141px;border:4px solid #12aeea;border-radius:3px"></div>
<svg class="a" style="left:123px;top:895px" width="131" height="97" viewBox="0 0 100 100" preserveAspectRatio="none"><defs><filter id="fm6" x="-5%" y="-5%" width="110%" height="110%"><feGaussianBlur stdDeviation="0.60"/></filter><clipPath id="cm6"><rect width="100" height="100"/></clipPath></defs><g clip-path="url(#cm6)"><g filter="url(#fm6)"><rect x="0" y="0" width="100" height="100" fill="#c8a078" opacity="1"/><rect x="85" y="0" width="15" height="100" fill="#4a3a30" opacity="1"/><rect x="0" y="0" width="12" height="100" fill="#e0c8a8" opacity="1"/><ellipse cx="48" cy="45" rx="40" ry="48" fill="#dcb870" opacity="1"/><ellipse cx="48" cy="52" rx="30" ry="36" fill="#f4b8a0" opacity="1"/><ellipse cx="48" cy="68" rx="10" ry="8" fill="#8a2a2a" opacity="1"/><ellipse cx="48" cy="66" rx="7" ry="3" fill="#f0f0f0" opacity="1"/><ellipse cx="36" cy="42" rx="4" ry="3" fill="#3a2a20" opacity="1"/><ellipse cx="60" cy="42" rx="4" ry="3" fill="#3a2a20" opacity="1"/><polygon points="0,100 0,82 20,78 40,90 60,88 80,76 100,82 100,100" fill="#ece8e0" opacity="1"/><ellipse cx="4" cy="88" rx="1.3" ry="1.6" fill="#2a3a30" opacity="1"/><ellipse cx="8" cy="95" rx="1.3" ry="1.6" fill="#2a3a30" opacity="1"/><ellipse cx="12" cy="88" rx="1.3" ry="1.6" fill="#2a3a30" opacity="1"/><ellipse cx="16" cy="95" rx="1.3" ry="1.6" fill="#2a3a30" opacity="1"/><ellipse cx="20" cy="88" rx="1.3" ry="1.6" fill="#2a3a30" opacity="1"/><ellipse cx="24" cy="95" rx="1.3" ry="1.6" fill="#2a3a30" opacity="1"/><ellipse cx="28" cy="88" rx="1.3" ry="1.6" fill="#2a3a30" opacity="1"/><ellipse cx="32" cy="95" rx="1.3" ry="1.6" fill="#2a3a30" opacity="1"/><ellipse cx="36" cy="88" rx="1.3" ry="1.6" fill="#2a3a30" opacity="1"/><ellipse cx="40" cy="95" rx="1.3" ry="1.6" fill="#2a3a30" opacity="1"/><ellipse cx="44" cy="88" rx="1.3" ry="1.6" fill="#2a3a30" opacity="1"/><ellipse cx="48" cy="95" rx="1.3" ry="1.6" fill="#2a3a30" opacity="1"/><ellipse cx="52" cy="88" rx="1.3" ry="1.6" fill="#2a3a30" opacity="1"/><ellipse cx="56" cy="95" rx="1.3" ry="1.6" fill="#2a3a30" opacity="1"/><ellipse cx="60" cy="88" rx="1.3" ry="1.6" fill="#2a3a30" opacity="1"/><ellipse cx="64" cy="95" rx="1.3" ry="1.6" fill="#2a3a30" opacity="1"/><ellipse cx="68" cy="88" rx="1.3" ry="1.6" fill="#2a3a30" opacity="1"/><ellipse cx="72" cy="95" rx="1.3" ry="1.6" fill="#2a3a30" opacity="1"/><ellipse cx="76" cy="88" rx="1.3" ry="1.6" fill="#2a3a30" opacity="1"/><ellipse cx="80" cy="95" rx="1.3" ry="1.6" fill="#2a3a30" opacity="1"/><ellipse cx="84" cy="88" rx="1.3" ry="1.6" fill="#2a3a30" opacity="1"/><ellipse cx="88" cy="95" rx="1.3" ry="1.6" fill="#2a3a30" opacity="1"/><ellipse cx="92" cy="88" rx="1.3" ry="1.6" fill="#2a3a30" opacity="1"/><ellipse cx="96" cy="95" rx="1.3" ry="1.6" fill="#2a3a30" opacity="1"/></g></g></svg>
<svg class="a" style="left:627px;top:879px" width="108" height="82" viewBox="0 0 100 100" preserveAspectRatio="none"><defs><filter id="fm7" x="-5%" y="-5%" width="110%" height="110%"><feGaussianBlur stdDeviation="0.60"/></filter><clipPath id="cm7"><rect width="100" height="100"/></clipPath></defs><g clip-path="url(#cm7)"><g filter="url(#fm7)"><rect x="0" y="0" width="100" height="100" fill="#e6e2e0" opacity="1"/><rect x="0" y="0" width="40" height="100" fill="#d8d4d2" opacity="0.6"/><ellipse cx="60" cy="20" rx="22" ry="16" fill="#b86a3a" opacity="1"/><ellipse cx="60" cy="45" rx="22" ry="30" fill="#e8b898" opacity="1"/><ellipse cx="60" cy="62" rx="20" ry="16" fill="#b8683c" opacity="0.85"/><ellipse cx="62" cy="68" rx="6" ry="3" fill="#f0d0d0" opacity="0.8"/><polygon points="10,100 28,78 50,90 70,90 92,76 100,100" fill="#b8bcc4" opacity="1"/><polygon points="48,88 56,100 66,100 70,88" fill="#f0f0f4" opacity="1"/></g></g></svg>
<svg class="a" style="left:804px;top:898px" width="101" height="98" viewBox="0 0 100 100" preserveAspectRatio="none"><defs><filter id="fm8" x="-5%" y="-5%" width="110%" height="110%"><feGaussianBlur stdDeviation="0.70"/></filter><clipPath id="cm8"><rect width="100" height="100"/></clipPath></defs><g clip-path="url(#cm8)"><g filter="url(#fm8)"><rect x="0" y="0" width="100" height="100" fill="#8a8a8c" opacity="1"/><polygon points="0,0 40,0 0,50" fill="#b4b4b6" opacity="0.8"/><rect x="70" y="0" width="30" height="80" fill="#6a6a6c" opacity="0.7"/><ellipse cx="35" cy="50" rx="25" ry="28" fill="#d86a18" opacity="1"/><rect x="30" y="18" width="10" height="10" fill="#c85a10" opacity="1"/><polygon points="58,45 85,38 78,50 62,60" fill="#d06a18" opacity="1"/><ellipse cx="30" cy="45" rx="8" ry="14" fill="#f09050" opacity="0.6"/><polygon points="0,82 100,82 100,100 0,100" fill="#8a5a30" opacity="1"/><polygon points="0,85 40,78 60,88 20,100 0,100" fill="#e4e2e0" opacity="1"/><ellipse cx="78" cy="78" rx="12" ry="12" fill="#5a9a20" opacity="1"/><ellipse cx="12" cy="78" rx="8" ry="5" fill="#9ad040" opacity="1"/></g></g></svg>
<svg class="a" style="left:381px;top:961px" width="174" height="95" viewBox="0 0 100 100" preserveAspectRatio="none"><defs><filter id="fm9" x="-5%" y="-5%" width="110%" height="110%"><feGaussianBlur stdDeviation="0.70"/></filter><clipPath id="cm9"><rect width="100" height="100"/></clipPath></defs><g clip-path="url(#cm9)"><g filter="url(#fm9)"><rect x="0" y="0" width="100" height="100" fill="#2a86b4" opacity="1"/><rect x="0" y="0" width="100" height="40" fill="#4aa4cc" opacity="0.8"/><rect x="0" y="70" width="100" height="30" fill="#1a6890" opacity="0.8"/><ellipse cx="75" cy="10" rx="25" ry="8" fill="#c8e4f0" opacity="0.7"/><rect x="27" y="0" width="73" height="4" fill="#f4f8fa" opacity="1"/><polygon points="6,50 20,40 45,42 62,48 70,58 60,70 40,76 20,70 8,60" fill="#3e4c5c" opacity="1"/><polygon points="55,55 70,56 95,75 92,80 70,68" fill="#d8dde0" opacity="1"/><polygon points="60,40 68,25 72,22 66,40" fill="#5a6a78" opacity="1"/><polygon points="10,52 40,48 60,56 40,62 15,60" fill="#8090a0" opacity="0.5"/></g></g></svg>
<svg class="a" style="left:194px;top:1026px" width="109" height="98" viewBox="0 0 100 100" preserveAspectRatio="none"><defs><filter id="fm10" x="-5%" y="-5%" width="110%" height="110%"><feGaussianBlur stdDeviation="0.60"/></filter><clipPath id="cm10"><rect width="100" height="100"/></clipPath></defs><g clip-path="url(#cm10)"><g filter="url(#fm10)"><rect x="0" y="0" width="100" height="100" fill="#d6d6de" opacity="1"/><polygon points="15,100 18,62 35,50 80,50 92,64 90,100" fill="#f2a468" opacity="1"/><ellipse cx="60" cy="30" rx="14" ry="17" fill="#ecc0a0" opacity="1"/><ellipse cx="60" cy="17" rx="15" ry="9" fill="#1a1614" opacity="1"/><ellipse cx="30" cy="50" rx="6" ry="16" fill="#ecc0a0" opacity="1"/><polygon points="30,22 48,20 46,28 34,30" fill="#3a4a5a" opacity="1"/><rect x="36" y="30" width="3" height="20" fill="#3a4a5a" opacity="1"/><rect x="22" y="55" width="1.2" height="45" fill="#2a3038" opacity="1"/></g></g></svg>
<svg class="a" style="left:673px;top:1003px" width="112" height="90" viewBox="0 0 100 100" preserveAspectRatio="none"><defs><filter id="fm11" x="-5%" y="-5%" width="110%" height="110%"><feGaussianBlur stdDeviation="0.60"/></filter><clipPath id="cm11"><rect width="100" height="100"/></clipPath></defs><g clip-path="url(#cm11)"><g filter="url(#fm11)"><rect x="0" y="0" width="100" height="100" fill="#9c9a98" opacity="1"/><rect x="0" y="0" width="30" height="100" fill="#b8b6b4" opacity="0.7"/><rect x="78" y="0" width="22" height="100" fill="#4a4a4c" opacity="0.8"/><rect x="0" y="50" width="35" height="30" fill="#e4e4e4" opacity="0.6"/><ellipse cx="58" cy="40" rx="15" ry="22" fill="#c89070" opacity="1"/><ellipse cx="56" cy="20" rx="16" ry="10" fill="#201a18" opacity="1"/><polygon points="35,100 45,70 60,66 75,70 90,100" fill="#22242a" opacity="1"/><polygon points="50,70 60,66 70,72 62,100 52,100" fill="#5ac0b8" opacity="1"/></g></g></svg>
<svg class="a" style="left:856px;top:1028px" width="301" height="167" viewBox="0 0 100 100" preserveAspectRatio="none"><defs><filter id="fm12" x="-5%" y="-5%" width="110%" height="110%"><feGaussianBlur stdDeviation="0.25"/></filter><clipPath id="cm12"><rect width="100" height="100"/></clipPath></defs><g clip-path="url(#cm12)"><g filter="url(#fm12)"><rect x="0" y="0" width="100" height="100" fill="#050505" opacity="1"/><text x="10" y="17" font-family="Liberation Sans" font-weight="bold" font-size="8" fill="#fff" textLength="62" lengthAdjust="spacingAndGlyphs">Hi-fidelity synthetic imagery</text><rect x="10" y="24" width="11" height="20" fill="#8a4a20" opacity="1"/><rect x="22" y="24" width="11" height="20" fill="#4a7aa0" opacity="1"/><rect x="34" y="24" width="11" height="20" fill="#3a6a30" opacity="1"/><rect x="46" y="24" width="11" height="20" fill="#c8902a" opacity="1"/><rect x="10" y="45" width="11" height="20" fill="#b0b0b0" opacity="1"/><rect x="22" y="45" width="11" height="20" fill="#c82020" opacity="1"/><rect x="34" y="45" width="11" height="20" fill="#4a6ab0" opacity="1"/><rect x="46" y="45" width="11" height="20" fill="#e8d0b0" opacity="1"/><rect x="10" y="66" width="11" height="20" fill="#d0a040" opacity="1"/><rect x="22" y="66" width="11" height="20" fill="#a0a0a0" opacity="1"/><rect x="34" y="66" width="11" height="20" fill="#6a5a40" opacity="1"/><rect x="46" y="66" width="11" height="20" fill="#3a5aa0" opacity="1"/><rect x="62" y="24" width="28" height="62" fill="#a08050" opacity="1"/><ellipse cx="76" cy="58" rx="12" ry="15" fill="#d0dc40" opacity="1"/><ellipse cx="72" cy="54" rx="2" ry="2" fill="#202020" opacity="1"/><ellipse cx="80" cy="54" rx="2" ry="2" fill="#202020" opacity="1"/></g></g></svg><div class="a" style="left:851px;top:1023px;width:311px;height:177px;border:5px solid #e41010;border-radius:3px"></div>
<svg class="a" style="left:1197px;top:972px" width="108" height="109" viewBox="0 0 100 100" preserveAspectRatio="none"><defs><filter id="fm13" x="-5%" y="-5%" width="110%" height="110%"><feGaussianBlur stdDeviation="0.60"/></filter><clipPath id="cm13"><rect width="100" height="100"/></clipPath></defs><g clip-path="url(#cm13)"><g filter="url(#fm13)"><rect x="0" y="0" width="100" height="100" fill="#9ec6e8" opacity="1"/><polygon points="0,40 20,35 40,42 60,36 100,44 100,70 0,70" fill="#3a6a2a" opacity="1"/><rect x="0" y="70" width="100" height="30" fill="#5a80a8" opacity="1"/><ellipse cx="60" cy="28" rx="26" ry="26" fill="#2a2220" opacity="1"/><ellipse cx="60" cy="55" rx="16" ry="22" fill="#b07850" opacity="1"/><polygon points="30,100 40,82 80,82 92,100" fill="#3a4a5a" opacity="1"/></g></g></svg>
<svg class="a" style="left:360px;top:1094px" width="277" height="166" viewBox="0 0 100 100" preserveAspectRatio="none"><defs><filter id="fm14" x="-5%" y="-5%" width="110%" height="110%"><feGaussianBlur stdDeviation="0.30"/></filter><clipPath id="cm14"><rect width="100" height="100"/></clipPath></defs><g clip-path="url(#cm14)"><g filter="url(#fm14)"><rect x="0" y="0" width="100" height="100" fill="#f4f4f2" opacity="1"/><ellipse cx="10" cy="19.0" rx="6.5" ry="12" fill="#6aa830" opacity="1"/><ellipse cx="10" cy="22.0" rx="3.5" ry="6" fill="#f0d020" opacity="1"/><ellipse cx="30" cy="19.0" rx="6.5" ry="12" fill="#5a9a2a" opacity="1"/><ellipse cx="30" cy="22.0" rx="3.5" ry="6" fill="#e0c820" opacity="1"/><ellipse cx="50" cy="19.0" rx="6.5" ry="12" fill="#7ab838" opacity="1"/><ellipse cx="50" cy="22.0" rx="3.5" ry="6" fill="#a0a0a0" opacity="1"/><ellipse cx="70" cy="19.0" rx="6.5" ry="12" fill="#4a8a20" opacity="1"/><ellipse cx="70" cy="22.0" rx="3.5" ry="6" fill="#5a9a2a" opacity="1"/><ellipse cx="90" cy="19.0" rx="6.5" ry="12" fill="#7ac040" opacity="1"/><ellipse cx="90" cy="22.0" rx="3.5" ry="6" fill="#f0d020" opacity="1"/><ellipse cx="10" cy="52.33" rx="6.5" ry="12" fill="#8a9a30" opacity="1"/><ellipse cx="10" cy="55.33" rx="3.5" ry="6" fill="#5a3a20" opacity="1"/><ellipse cx="30" cy="52.33" rx="6.5" ry="12" fill="#a0b048" opacity="1"/><ellipse cx="30" cy="55.33" rx="3.5" ry="6" fill="#e8e8a0" opacity="1"/><ellipse cx="50" cy="52.33" rx="6.5" ry="12" fill="#6aa830" opacity="1"/><ellipse cx="50" cy="55.33" rx="3.5" ry="6" fill="#e8e040" opacity="1"/><ellipse cx="70" cy="52.33" rx="6.5" ry="12" fill="#9ab880" opacity="1"/><ellipse cx="70" cy="55.33" rx="3.5" ry="6" fill="#7a8a60" opacity="1"/><ellipse cx="90" cy="52.33" rx="6.5" ry="12" fill="#e8d020" opacity="1"/><ellipse cx="90" cy="55.33" rx="3.5" ry="6" fill="#303030" opacity="1"/><ellipse cx="10" cy="85.66" rx="6.5" ry="12" fill="#6a8a30" opacity="1"/><ellipse cx="10" cy="88.66" rx="3.5" ry="6" fill="#a0b040" opacity="1"/><ellipse cx="30" cy="85.66" rx="6.5" ry="12" fill="#7ab838" opacity="1"/><ellipse cx="30" cy="88.66" rx="3.5" ry="6" fill="#c8d870" opacity="1"/><ellipse cx="50" cy="85.66" rx="6.5" ry="12" fill="#8a9a60" opacity="1"/><ellipse cx="50" cy="88.66" rx="3.5" ry="6" fill="#6a4a2a" opacity="1"/><ellipse cx="70" cy="85.66" rx="6.5" ry="12" fill="#4a8a20" opacity="1"/><ellipse cx="70" cy="88.66" rx="3.5" ry="6" fill="#f0d020" opacity="1"/><ellipse cx="90" cy="85.66" rx="6.5" ry="12" fill="#3a4a30" opacity="1"/><ellipse cx="90" cy="88.66" rx="3.5" ry="6" fill="#7ab838" opacity="1"/><rect x="19.6" y="0" width="0.8" height="100" fill="#111" opacity="1"/><rect x="39.6" y="0" width="0.8" height="100" fill="#111" opacity="1"/><rect x="59.6" y="0" width="0.8" height="100" fill="#111" opacity="1"/><rect x="79.6" y="0" width="0.8" height="100" fill="#111" opacity="1"/><rect x="0" y="32.73" width="100" height="1.2" fill="#111" opacity="1"/><rect x="0" y="66.06" width="100" height="1.2" fill="#111" opacity="1"/><rect x="0" y="0" width="100" height="100" fill="none" stroke="#111" stroke-width="1.2"/></g></g></svg><div class="a" style="left:355px;top:1089px;width:287px;height:176px;border:5px solid #7cc848;border-radius:3px"></div>
<svg class="a" style="left:695px;top:1158px" width="110" height="86" viewBox="0 0 100 100" preserveAspectRatio="none"><defs><filter id="fm15" x="-5%" y="-5%" width="110%" height="110%"><feGaussianBlur stdDeviation="0.80"/></filter><clipPath id="cm15"><rect width="100" height="100"/></clipPath></defs><g clip-path="url(#cm15)"><g filter="url(#fm15)"><rect x="0" y="0" width="100" height="100" fill="#2a9cc0" opacity="1"/><rect x="0" y="0" width="100" height="20" fill="#5ab4d8" opacity="1"/><rect x="0" y="75" width="100" height="25" fill="#1a7ea8" opacity="1"/><polygon points="0,20 20,12 45,18 55,40 48,70 30,78 0,76" fill="#eef4f6" opacity="1"/><ellipse cx="30" cy="30" rx="18" ry="16" fill="#ffffff" opacity="0.8"/><polygon points="55,30 75,18 100,25 100,75 60,78 52,60" fill="#28a6c2" opacity="1"/><ellipse cx="72" cy="55" rx="10" ry="14" fill="#0e6e90" opacity="0.8"/><ellipse cx="62" cy="22" rx="10" ry="6" fill="#e8f4f8" opacity="0.7"/></g></g></svg>
<svg class="a" style="left:1185px;top:1158px" width="131" height="101" viewBox="0 0 100 100" preserveAspectRatio="none"><defs><filter id="fm16" x="-5%" y="-5%" width="110%" height="110%"><feGaussianBlur stdDeviation="0.60"/></filter><clipPath id="cm16"><rect width="100" height="100"/></clipPath></defs><g clip-path="url(#cm16)"><g filter="url(#fm16)"><rect x="0" y="0" width="100" height="100" fill="#3e8ce0" opacity="1"/><rect x="0" y="30" width="100" height="25" fill="#7ab4f0" opacity="1"/><polygon points="0,52 30,50 60,48 100,50 100,60 0,60" fill="#3a5a28" opacity="1"/><rect x="0" y="58" width="100" height="42" fill="#3c8a1c" opacity="1"/><rect x="0" y="80" width="100" height="20" fill="#2e7a14" opacity="0.7"/></g></g></svg>
<svg class="a" style="left:0;top:0" width="4086" height="2880" viewBox="0 0 4086 2880"><rect x="2825.5" y="1534.5" width="1081" height="160" rx="5" fill="#fff" stroke="#d4d4d4" stroke-width="3"/><line x1="2835" y1="1555" x2="2891" y2="1555" stroke="#000" stroke-width="4" stroke-dasharray="10,6"/><circle cx="2863" cy="1555" r="7" fill="#000"/><text x="2912" y="1566" font-family='Liberation Sans' font-size="29" textLength="262" lengthAdjust="spacingAndGlyphs">No Synth. Data <tspan font-family='Liberation Serif' font-size="31">(&#955; = 0)</tspan></text><line x1="2835" y1="1593" x2="2891" y2="1593" stroke="#440154" stroke-width="5"/><text x="2912" y="1604" font-family='Liberation Serif' font-size="31" textLength="105" lengthAdjust="spacingAndGlyphs">&#955; = 0.001</text><line x1="2835" y1="1632" x2="2891" y2="1632" stroke="#450457" stroke-width="5"/><text x="2912" y="1643" font-family='Liberation Serif' font-size="31" textLength="93" lengthAdjust="spacingAndGlyphs">&#955; = 0.01</text><line x1="2835" y1="1671" x2="2891" y2="1671" stroke="#482475" stroke-width="5"/><text x="2912" y="1682" font-family='Liberation Serif' font-size="31" textLength="82" lengthAdjust="spacingAndGlyphs">&#955; = 0.1</text><line x1="3230" y1="1555" x2="3287" y2="1555" stroke="#414487" stroke-width="5"/><text x="3308" y="1566" font-family='Liberation Serif' font-size="31" textLength="82" lengthAdjust="spacingAndGlyphs">&#955; = 0.2</text><line x1="3230" y1="1593" x2="3287" y2="1593" stroke="#355f8d" stroke-width="5"/><text x="3308" y="1604" font-family='Liberation Serif' font-size="31" textLength="82" lengthAdjust="spacingAndGlyphs">&#955; = 0.3</text><line x1="3230" y1="1632" x2="3287" y2="1632" stroke="#2a788e" stroke-width="5"/><text x="3308" y="1643" font-family='Liberation Serif' font-size="31" textLength="82" lengthAdjust="spacingAndGlyphs">&#955; = 0.4</text><line x1="3230" y1="1671" x2="3287" y2="1671" stroke="#21918c" stroke-width="5"/><text x="3308" y="1682" font-family='Liberation Serif' font-size="31" textLength="82" lengthAdjust="spacingAndGlyphs">&#955; = 0.5</text><line x1="3444" y1="1555" x2="3502" y2="1555" stroke="#22a884" stroke-width="5"/><text x="3523" y="1566" font-family='Liberation Serif' font-size="31" textLength="82" lengthAdjust="spacingAndGlyphs">&#955; = 0.6</text><line x1="3444" y1="1593" x2="3502" y2="1593" stroke="#44bf70" stroke-width="5"/><text x="3523" y="1604" font-family='Liberation Serif' font-size="31" textLength="82" lengthAdjust="spacingAndGlyphs">&#955; = 0.7</text><line x1="3444" y1="1632" x2="3502" y2="1632" stroke="#7ad151" stroke-width="5"/><text x="3523" y="1643" font-family='Liberation Serif' font-size="31" textLength="82" lengthAdjust="spacingAndGlyphs">&#955; = 0.8</text><line x1="3659" y1="1555" x2="3716" y2="1555" stroke="#bddf26" stroke-width="5"/><text x="3737" y="1566" font-family='Liberation Serif' font-size="31" textLength="82" lengthAdjust="spacingAndGlyphs">&#955; = 0.9</text><line x1="3659" y1="1593" x2="3716" y2="1593" stroke="#fde725" stroke-width="5"/><text x="3737" y="1604" font-family='Liberation Serif' font-size="31" textLength="60" lengthAdjust="spacingAndGlyphs">&#955; = 1</text><line x1="3659" y1="1632" x2="3716" y2="1632" stroke="#ff0000" stroke-width="4" stroke-dasharray="10,6"/><polygon points="3702.5,1632.0 3678.5,1620.0 3678.5,1644.0" fill="#ff0000"/><text x="3737" y="1643" font-family='Liberation Sans' font-size="29" textLength="158" lengthAdjust="spacingAndGlyphs">Fully Synthetic</text><clipPath id="pc00"><rect x="2905.0" y="1734.0" width="268.0" height="229.0"/></clipPath><g clip-path="url(#pc00)" fill="none" stroke-width="2.2" stroke-linejoin="round"><polyline points="2917.2,1957.7 2929.4,1957.8 2941.5,1955.9 2953.7,1955.1 2965.9,1955.7 2978.1,1956.3 2990.3,1957.5 3002.5,1956.2 3014.6,1955.5 3026.8,1954.4 3039.0,1954.2 3051.2,1955.8 3063.4,1954.4 3075.5,1956.5 3087.7,1954.5 3099.9,1955.4 3112.1,1957.2 3124.3,1954.6 3136.5,1955.7 3148.6,1954.2 3160.8,1954.7" stroke="#440154"/><polyline points="2917.2,1957.7 2929.4,1958.6 2941.5,1956.4 2953.7,1954.7 2965.9,1956.6 2978.1,1956.2 2990.3,1954.1 3002.5,1956.4 3014.6,1954.9 3026.8,1956.0 3039.0,1953.4 3051.2,1953.8 3063.4,1955.0 3075.5,1956.2 3087.7,1955.3 3099.9,1954.6 3112.1,1953.0 3124.3,1955.8 3136.5,1954.2 3148.6,1953.5 3160.8,1954.0" stroke="#450457"/><polyline points="2917.2,1957.7 2929.4,1954.9 2941.5,1954.8 2953.7,1952.6 2965.9,1953.4 2978.1,1953.1 2990.3,1953.3 3002.5,1952.5 3014.6,1953.0 3026.8,1952.2 3039.0,1953.0 3051.2,1953.2 3063.4,1953.1 3075.5,1951.4 3087.7,1951.1 3099.9,1951.5 3112.1,1952.7 3124.3,1950.2" stroke="#482475"/><polyline points="2917.2,1957.7 2929.4,1953.3 2941.5,1951.1 2953.7,1950.1 2965.9,1948.9 2978.1,1948.2 2990.3,1949.0 3002.5,1949.1 3014.6,1947.6 3026.8,1948.8 3039.0,1946.6 3051.2,1946.1 3063.4,1945.7 3075.5,1946.4 3087.7,1944.9 3099.9,1945.9 3112.1,1946.0 3124.3,1945.0 3136.5,1943.5 3148.6,1943.5 3160.8,1943.6" stroke="#414487"/><polyline points="2917.2,1957.7 2929.4,1955.2 2941.5,1950.8 2953.7,1949.6 2965.9,1947.9 2978.1,1946.3 2990.3,1947.7 3002.5,1945.5 3014.6,1947.1 3026.8,1946.3 3039.0,1943.9 3051.2,1945.1 3063.4,1943.0 3075.5,1945.2 3087.7,1944.6 3099.9,1942.3 3112.1,1944.3 3124.3,1942.0 3136.5,1940.5 3148.6,1941.4 3160.8,1940.5" stroke="#355f8d"/><polyline points="2917.2,1957.7 2929.4,1951.4 2941.5,1944.1 2953.7,1940.8 2965.9,1938.5 2978.1,1937.4 2990.3,1936.2 3002.5,1932.9 3014.6,1935.3 3026.8,1934.4 3039.0,1930.3 3051.2,1932.2 3063.4,1931.6 3075.5,1930.6 3087.7,1927.7 3099.9,1926.5 3112.1,1928.9 3124.3,1926.8 3136.5,1927.2 3148.6,1925.8 3160.8,1925.2" stroke="#2a788e"/><polyline points="2917.2,1957.7 2929.4,1947.1 2941.5,1941.6 2953.7,1937.9 2965.9,1933.8 2978.1,1933.2 2990.3,1931.3 3002.5,1926.8 3014.6,1928.3 3026.8,1926.7 3039.0,1924.3 3051.2,1922.9 3063.4,1921.6 3075.5,1923.3 3087.7,1920.6 3099.9,1918.6 3112.1,1920.8 3124.3,1917.7 3136.5,1916.1 3148.6,1916.9" stroke="#21918c"/><polyline points="2917.2,1957.7 2929.4,1944.3 2941.5,1933.9 2953.7,1928.3 2965.9,1925.0 2978.1,1920.8 2990.3,1918.6 3002.5,1916.1 3014.6,1914.6 3026.8,1913.7 3039.0,1912.0 3051.2,1908.9 3063.4,1909.6 3075.5,1907.1 3087.7,1907.7 3099.9,1903.7 3112.1,1903.8 3124.3,1903.5 3136.5,1901.3 3148.6,1900.1 3160.8,1896.2" stroke="#22a884"/><polyline points="2917.2,1957.7 2929.4,1941.4 2941.5,1930.8 2953.7,1923.3 2965.9,1916.3 2978.1,1913.7 2990.3,1911.0 3002.5,1908.3 3014.6,1907.4 3026.8,1905.4 3039.0,1902.8 3051.2,1903.4 3063.4,1901.1 3075.5,1899.0 3087.7,1897.7 3099.9,1894.7 3112.1,1894.0 3124.3,1890.7 3136.5,1890.2" stroke="#44bf70"/><polyline points="2917.2,1957.7 2929.4,1935.3 2941.5,1920.7 2953.7,1909.9 2965.9,1904.2 2978.1,1898.4 2990.3,1896.8 3002.5,1892.2 3014.6,1890.1 3026.8,1887.9 3039.0,1884.2 3051.2,1882.1 3063.4,1879.6 3075.5,1876.8 3087.7,1874.1 3099.9,1873.3 3112.1,1871.8 3124.3,1869.1 3136.5,1865.8 3148.6,1863.4" stroke="#7ad151"/><polyline points="2917.2,1957.7 2929.4,1929.7 2941.5,1914.5 2953.7,1900.2 2965.9,1893.5 2978.1,1889.6 2990.3,1882.8 3002.5,1878.1 3014.6,1876.9 3026.8,1872.9 3039.0,1871.4 3051.2,1869.1 3063.4,1864.7 3075.5,1864.6 3087.7,1859.1 3099.9,1857.6 3112.1,1856.6 3124.3,1853.9 3136.5,1849.5 3148.6,1846.2 3160.8,1845.8" stroke="#bddf26"/><polyline points="2917.2,1957.7 2929.4,1921.5 2941.5,1902.4 2953.7,1885.0 2965.9,1876.4 2978.1,1870.0 2990.3,1863.5 3002.5,1858.1 3014.6,1852.7 3026.8,1848.6 3039.0,1847.6 3051.2,1842.8 3063.4,1838.9 3075.5,1836.7 3087.7,1831.5 3099.9,1830.3 3112.1,1828.0 3124.3,1824.7 3136.5,1819.1 3148.6,1816.3" stroke="#fde725"/><polyline points="2917.2,1957.7 2929.4,1955.9 2941.5,1955.8 2953.7,1956.8 2965.9,1957.2 2978.1,1956.2 2990.3,1956.4 3002.5,1955.0 3014.6,1956.6 3026.8,1956.0 3039.0,1955.5 3051.2,1954.3 3063.4,1955.7 3075.5,1956.4 3087.7,1954.7 3099.9,1955.1 3112.1,1956.4 3124.3,1954.0 3136.5,1953.7 3148.6,1954.2 3160.8,1953.8" stroke="#111" stroke-dasharray="7,4"/><circle cx="2953.7" cy="1956.8" r="3.8" fill="#000" stroke="none"/><circle cx="2990.3" cy="1956.4" r="3.8" fill="#000" stroke="none"/><circle cx="3026.8" cy="1956.0" r="3.8" fill="#000" stroke="none"/><circle cx="3063.4" cy="1955.7" r="3.8" fill="#000" stroke="none"/><circle cx="3099.9" cy="1955.1" r="3.8" fill="#000" stroke="none"/><circle cx="3136.5" cy="1953.7" r="3.8" fill="#000" stroke="none"/><polyline points="2917.2,1957.7 2953.7,1760.4 2958.6,1734.0" stroke="#ff0000" stroke-width="2.6" stroke-dasharray="8,5"/><polygon points="2928.2,1957.7 2910.6,1948.9 2910.6,1966.5" fill="#ff0000"/><polygon points="2964.7,1760.4 2947.1,1751.6 2947.1,1769.2" fill="#ff0000"/></g><rect x="2905.0" y="1734.0" width="268.0" height="229.0" fill="none" stroke="#222" stroke-width="2"/><line x1="2917.2" y1="1963.0" x2="2917.2" y2="1972.0" stroke="#222" stroke-width="2"/><line x1="2978.1" y1="1963.0" x2="2978.1" y2="1972.0" stroke="#222" stroke-width="2"/><line x1="3039.0" y1="1963.0" x2="3039.0" y2="1972.0" stroke="#222" stroke-width="2"/><line x1="3099.9" y1="1963.0" x2="3099.9" y2="1972.0" stroke="#222" stroke-width="2"/><line x1="3160.8" y1="1963.0" x2="3160.8" y2="1972.0" stroke="#222" stroke-width="2"/><line x1="2896.0" y1="1945.4" x2="2905.0" y2="1945.4" stroke="#222" stroke-width="2"/><text x="2894.0" y="1959.4" text-anchor="end" font-family='Liberation Serif' font-size="42" fill="#222" textLength="17" lengthAdjust="spacingAndGlyphs">4</text><line x1="2896.0" y1="1839.7" x2="2905.0" y2="1839.7" stroke="#222" stroke-width="2"/><text x="2894.0" y="1853.7" text-anchor="end" font-family='Liberation Serif' font-size="42" fill="#222" textLength="17" lengthAdjust="spacingAndGlyphs">7</text><line x1="2896.0" y1="1734.0" x2="2905.0" y2="1734.0" stroke="#222" stroke-width="2"/><text x="2894.0" y="1748.0" text-anchor="end" font-family='Liberation Serif' font-size="42" fill="#222" textLength="35" lengthAdjust="spacingAndGlyphs">10</text><clipPath id="pc01"><rect x="3268.0" y="1734.0" width="267.5" height="229.0"/></clipPath><g clip-path="url(#pc01)" fill="none" stroke-width="2.2" stroke-linejoin="round"><polyline points="3280.2,1953.8 3292.3,1948.6 3304.5,1931.2 3316.6,1920.0 3328.8,1934.1 3341.0,1938.2 3353.1,1932.9 3365.3,1943.0 3377.4,1938.1 3389.6,1932.5 3401.8,1931.0 3413.9,1937.8 3426.1,1937.8 3438.2,1938.2 3450.4,1932.0 3462.5,1936.3 3474.7,1943.2 3486.9,1922.3 3499.0,1929.5 3511.2,1927.3 3523.3,1939.0" stroke="#440154"/><polyline points="3280.2,1953.8 3292.3,1920.3 3304.5,1918.7 3316.6,1936.5 3328.8,1930.7 3341.0,1920.7 3353.1,1920.9 3365.3,1915.2 3377.4,1928.4 3389.6,1917.9 3401.8,1922.0 3413.9,1931.4 3426.1,1924.1 3438.2,1916.6 3450.4,1917.5 3462.5,1926.2 3474.7,1924.1 3486.9,1938.3 3499.0,1933.0 3511.2,1918.7 3523.3,1928.6" stroke="#450457"/><polyline points="3280.2,1953.8 3292.3,1937.8 3304.5,1922.4 3316.6,1917.0 3328.8,1917.4 3341.0,1925.0 3353.1,1923.4 3365.3,1921.6 3377.4,1914.6 3389.6,1921.2 3401.8,1924.5 3413.9,1922.0 3426.1,1933.8 3438.2,1933.5 3450.4,1916.6 3462.5,1909.4 3474.7,1919.4 3486.9,1924.5 3499.0,1930.2 3511.2,1921.7 3523.3,1909.4" stroke="#482475"/><polyline points="3280.2,1953.8 3292.3,1919.0 3304.5,1918.3 3316.6,1908.5 3328.8,1924.2 3341.0,1916.9 3353.1,1905.6 3365.3,1915.2 3377.4,1918.2 3389.6,1923.1 3401.8,1916.0 3413.9,1905.5 3426.1,1929.9 3438.2,1909.9 3450.4,1909.0 3462.5,1907.3 3474.7,1911.0 3486.9,1909.3 3499.0,1916.7 3511.2,1915.6 3523.3,1919.1" stroke="#414487"/><polyline points="3280.2,1953.8 3292.3,1933.9 3304.5,1905.5 3316.6,1911.4 3328.8,1920.5 3341.0,1912.5 3353.1,1913.0 3365.3,1916.3 3377.4,1916.6 3389.6,1911.6 3401.8,1909.5 3413.9,1909.7 3426.1,1913.7 3438.2,1924.7 3450.4,1919.6 3462.5,1920.9 3474.7,1910.5 3486.9,1903.4 3499.0,1905.0 3511.2,1905.0 3523.3,1904.5" stroke="#355f8d"/><polyline points="3280.2,1953.8 3292.3,1925.3 3304.5,1901.9 3316.6,1904.2 3328.8,1918.9 3341.0,1920.5 3353.1,1920.5 3365.3,1901.5 3377.4,1914.5 3389.6,1918.1 3401.8,1904.8 3413.9,1912.0 3426.1,1919.1 3438.2,1916.8 3450.4,1907.3 3462.5,1916.6 3474.7,1913.9 3486.9,1902.6 3499.0,1909.2 3511.2,1912.6 3523.3,1908.7" stroke="#2a788e"/><polyline points="3280.2,1953.8 3292.3,1927.8 3304.5,1909.3 3316.6,1906.2 3328.8,1911.6 3341.0,1913.5 3353.1,1893.2 3365.3,1903.2 3377.4,1910.9 3389.6,1900.8 3401.8,1895.3 3413.9,1915.8 3426.1,1915.8 3438.2,1912.5 3450.4,1897.8 3462.5,1912.2 3474.7,1898.2 3486.9,1898.9 3499.0,1902.3 3511.2,1910.6 3523.3,1891.3" stroke="#21918c"/><polyline points="3280.2,1953.8 3292.3,1904.4 3304.5,1901.6 3316.6,1906.7 3328.8,1895.3 3341.0,1901.6 3353.1,1896.9 3365.3,1903.5 3377.4,1895.5 3389.6,1910.2 3401.8,1904.0 3413.9,1886.9 3426.1,1889.2 3438.2,1903.8 3450.4,1889.7 3462.5,1903.7 3474.7,1887.6 3486.9,1892.6 3499.0,1901.0 3511.2,1905.2 3523.3,1911.5" stroke="#22a884"/><polyline points="3280.2,1953.8 3292.3,1898.9 3304.5,1909.6 3316.6,1886.9 3328.8,1882.6 3341.0,1892.5 3353.1,1902.7 3365.3,1884.9 3377.4,1882.1 3389.6,1889.1 3401.8,1894.1 3413.9,1897.4 3426.1,1898.2 3438.2,1901.8 3450.4,1889.8 3462.5,1896.0 3474.7,1902.1 3486.9,1904.4 3499.0,1890.0 3511.2,1899.5 3523.3,1894.3" stroke="#44bf70"/><polyline points="3280.2,1953.8 3292.3,1913.0 3304.5,1888.2 3316.6,1884.9 3328.8,1906.9 3341.0,1902.0 3353.1,1898.7 3365.3,1881.8 3377.4,1887.0 3389.6,1898.4 3401.8,1901.7 3413.9,1889.8 3426.1,1885.6 3438.2,1883.2 3450.4,1898.3 3462.5,1884.5 3474.7,1889.5 3486.9,1894.7 3499.0,1881.8 3511.2,1901.1 3523.3,1888.5" stroke="#7ad151"/><polyline points="3280.2,1953.8 3292.3,1915.7 3304.5,1901.9 3316.6,1880.1 3328.8,1897.3 3341.0,1883.1 3353.1,1887.2 3365.3,1881.0 3377.4,1893.1 3389.6,1893.8 3401.8,1895.1 3413.9,1880.3 3426.1,1887.1 3438.2,1878.1 3450.4,1879.8 3462.5,1899.1 3474.7,1888.4 3486.9,1899.9 3499.0,1901.5 3511.2,1900.7 3523.3,1880.3" stroke="#bddf26"/><polyline points="3280.2,1953.8 3292.3,1897.7 3304.5,1885.0 3316.6,1894.7 3328.8,1887.0 3341.0,1882.5 3353.1,1892.9 3365.3,1887.9 3377.4,1896.8 3389.6,1900.4 3401.8,1895.7 3413.9,1879.7 3426.1,1888.1 3438.2,1878.8 3450.4,1890.8 3462.5,1895.4 3474.7,1882.4 3486.9,1881.3 3499.0,1902.2 3511.2,1885.3 3523.3,1900.2" stroke="#fde725"/><polyline points="3280.2,1953.8 3292.3,1942.3 3304.5,1919.0 3316.6,1920.0 3328.8,1932.7 3341.0,1926.5 3353.1,1927.7 3365.3,1922.5 3377.4,1919.0 3389.6,1936.8 3401.8,1938.5 3413.9,1917.7 3426.1,1928.1 3438.2,1919.6 3450.4,1939.1 3462.5,1927.8 3474.7,1920.7 3486.9,1933.3 3499.0,1914.9 3511.2,1916.1 3523.3,1938.4" stroke="#111" stroke-dasharray="7,4"/><circle cx="3316.6" cy="1920.0" r="3.8" fill="#000" stroke="none"/><circle cx="3353.1" cy="1927.7" r="3.8" fill="#000" stroke="none"/><circle cx="3389.6" cy="1936.8" r="3.8" fill="#000" stroke="none"/><circle cx="3426.1" cy="1928.1" r="3.8" fill="#000" stroke="none"/><circle cx="3462.5" cy="1927.8" r="3.8" fill="#000" stroke="none"/><circle cx="3499.0" cy="1914.9" r="3.8" fill="#000" stroke="none"/><polyline points="3280.2,1953.8 3292.3,1869.1 3316.6,1777.5 3328.8,1734.0" stroke="#ff0000" stroke-width="2.6" stroke-dasharray="8,5"/><polygon points="3291.2,1953.8 3273.6,1945.0 3273.6,1962.6" fill="#ff0000"/><polygon points="3327.6,1777.5 3310.0,1768.7 3310.0,1786.3" fill="#ff0000"/></g><rect x="3268.0" y="1734.0" width="267.5" height="229.0" fill="none" stroke="#222" stroke-width="2"/><line x1="3280.2" y1="1963.0" x2="3280.2" y2="1972.0" stroke="#222" stroke-width="2"/><line x1="3341.0" y1="1963.0" x2="3341.0" y2="1972.0" stroke="#222" stroke-width="2"/><line x1="3401.8" y1="1963.0" x2="3401.8" y2="1972.0" stroke="#222" stroke-width="2"/><line x1="3462.5" y1="1963.0" x2="3462.5" y2="1972.0" stroke="#222" stroke-width="2"/><line x1="3523.3" y1="1963.0" x2="3523.3" y2="1972.0" stroke="#222" stroke-width="2"/><line x1="3259.0" y1="1963.0" x2="3268.0" y2="1963.0" stroke="#222" stroke-width="2"/><text x="3257.0" y="1977.0" text-anchor="end" font-family='Liberation Serif' font-size="42" fill="#222" textLength="64" lengthAdjust="spacingAndGlyphs">0.65</text><line x1="3259.0" y1="1871.4" x2="3268.0" y2="1871.4" stroke="#222" stroke-width="2"/><text x="3257.0" y="1885.4" text-anchor="end" font-family='Liberation Serif' font-size="42" fill="#222" textLength="64" lengthAdjust="spacingAndGlyphs">0.67</text><line x1="3259.0" y1="1779.8" x2="3268.0" y2="1779.8" stroke="#222" stroke-width="2"/><text x="3257.0" y="1793.8" text-anchor="end" font-family='Liberation Serif' font-size="42" fill="#222" textLength="64" lengthAdjust="spacingAndGlyphs">0.69</text><clipPath id="pc02"><rect x="3631.0" y="1734.0" width="267.0" height="229.0"/></clipPath><g clip-path="url(#pc02)" fill="none" stroke-width="2.2" stroke-linejoin="round"><polyline points="3643.1,1754.5 3655.3,1762.3 3667.4,1762.0 3679.5,1753.7 3691.7,1756.1 3703.8,1754.8 3716.0,1745.4 3728.1,1752.0 3740.2,1751.3 3752.4,1757.1 3764.5,1761.0 3776.6,1755.5 3788.8,1758.9 3800.9,1752.1 3813.0,1743.2 3825.2,1749.1 3837.3,1758.0 3849.5,1745.1 3861.6,1746.8 3873.7,1748.0 3885.9,1744.8" stroke="#440154"/><polyline points="3643.1,1754.5 3655.3,1748.4 3667.4,1747.0 3679.5,1754.3 3691.7,1742.4 3703.8,1742.4 3716.0,1756.7 3728.1,1745.8 3740.2,1746.3 3752.4,1750.9 3764.5,1749.6 3776.6,1750.2 3788.8,1742.3 3800.9,1750.0 3813.0,1743.9 3825.2,1752.6 3837.3,1743.0 3849.5,1742.7 3861.6,1750.7 3873.7,1748.7 3885.9,1742.3" stroke="#450457"/><polyline points="3643.1,1754.5 3655.3,1751.1 3667.4,1755.9 3679.5,1761.0 3691.7,1759.4 3703.8,1752.7 3716.0,1762.6 3728.1,1749.1 3740.2,1760.9 3752.4,1749.2 3764.5,1760.2 3776.6,1748.4 3788.8,1753.0 3800.9,1756.7 3813.0,1756.4 3825.2,1754.0 3837.3,1755.2 3849.5,1760.2 3861.6,1762.1 3873.7,1756.6 3885.9,1748.9" stroke="#482475"/><polyline points="3643.1,1754.5 3655.3,1759.4 3667.4,1774.5 3679.5,1764.5 3691.7,1768.9 3703.8,1767.4 3716.0,1781.8 3728.1,1772.7 3740.2,1785.9 3752.4,1775.6 3764.5,1782.8 3776.6,1783.9 3788.8,1772.3 3800.9,1786.5 3813.0,1779.0 3825.2,1773.0 3837.3,1784.1 3849.5,1784.8 3861.6,1772.6 3873.7,1781.0 3885.9,1775.6" stroke="#414487"/><polyline points="3643.1,1754.5 3655.3,1771.4 3667.4,1771.4 3679.5,1779.2 3691.7,1773.2 3703.8,1786.2 3716.0,1771.9 3728.1,1789.9 3740.2,1777.9 3752.4,1791.4 3764.5,1787.6 3776.6,1777.7 3788.8,1789.9 3800.9,1789.5 3813.0,1780.4 3825.2,1786.1 3837.3,1792.4 3849.5,1775.1 3861.6,1790.4 3873.7,1792.6 3885.9,1787.0" stroke="#355f8d"/><polyline points="3643.1,1754.5 3655.3,1762.8 3667.4,1767.9 3679.5,1784.6 3691.7,1784.4 3703.8,1792.7 3716.0,1787.0 3728.1,1782.6 3740.2,1784.1 3752.4,1781.9 3764.5,1785.0 3776.6,1783.5 3788.8,1786.6 3800.9,1791.0 3813.0,1795.7 3825.2,1787.8 3837.3,1794.2 3849.5,1798.1 3861.6,1791.9 3873.7,1784.1 3885.9,1797.8" stroke="#2a788e"/><polyline points="3643.1,1754.5 3655.3,1768.5 3667.4,1783.1 3679.5,1788.9 3691.7,1801.3 3703.8,1790.5 3716.0,1806.2 3728.1,1802.0 3740.2,1806.9 3752.4,1815.3 3764.5,1806.3 3776.6,1814.4 3788.8,1816.3 3800.9,1817.0 3813.0,1814.9 3825.2,1816.3 3837.3,1806.5 3849.5,1808.9 3861.6,1800.3 3873.7,1801.3 3885.9,1800.2" stroke="#21918c"/><polyline points="3643.1,1754.5 3655.3,1777.5 3667.4,1786.6 3679.5,1799.4 3691.7,1799.9 3703.8,1804.1 3716.0,1804.3 3728.1,1808.4 3740.2,1818.4 3752.4,1816.6 3764.5,1815.6 3776.6,1825.8 3788.8,1825.7 3800.9,1819.2 3813.0,1824.9 3825.2,1813.9 3837.3,1822.8 3849.5,1825.5 3861.6,1824.0 3873.7,1823.2 3885.9,1823.5" stroke="#22a884"/><polyline points="3643.1,1754.5 3655.3,1776.8 3667.4,1794.0 3679.5,1808.5 3691.7,1810.7 3703.8,1824.5 3716.0,1816.1 3728.1,1818.2 3740.2,1824.6 3752.4,1831.6 3764.5,1831.3 3776.6,1830.8 3788.8,1841.1 3800.9,1834.8 3813.0,1833.2 3825.2,1839.6 3837.3,1841.4 3849.5,1828.6 3861.6,1836.6 3873.7,1833.9 3885.9,1826.6" stroke="#44bf70"/><polyline points="3643.1,1754.5 3655.3,1778.4 3667.4,1802.7 3679.5,1803.4 3691.7,1824.0 3703.8,1837.3 3716.0,1830.0 3728.1,1844.2 3740.2,1843.0 3752.4,1835.0 3764.5,1839.4 3776.6,1852.3 3788.8,1845.0 3800.9,1846.2 3813.0,1845.2 3825.2,1850.5 3837.3,1843.7 3849.5,1853.2 3861.6,1849.5 3873.7,1847.9 3885.9,1837.7" stroke="#7ad151"/><polyline points="3643.1,1754.5 3655.3,1789.4 3667.4,1796.5 3679.5,1820.7 3691.7,1823.8 3703.8,1834.2 3716.0,1838.0 3728.1,1836.4 3740.2,1845.6 3752.4,1852.5 3764.5,1853.8 3776.6,1855.5 3788.8,1842.2 3800.9,1846.5 3813.0,1841.1 3825.2,1846.2 3837.3,1858.5 3849.5,1847.1 3861.6,1845.0 3873.7,1846.1 3885.9,1850.2" stroke="#bddf26"/><polyline points="3643.1,1754.5 3655.3,1788.8 3667.4,1809.7 3679.5,1819.7 3691.7,1841.0 3703.8,1844.7 3716.0,1851.6 3728.1,1847.2 3740.2,1853.0 3752.4,1852.9 3764.5,1856.2 3776.6,1867.1 3788.8,1869.1 3800.9,1865.0 3813.0,1869.6 3825.2,1866.9 3837.3,1862.5 3849.5,1858.3 3861.6,1864.5 3873.7,1860.3 3885.9,1873.5" stroke="#fde725"/><polyline points="3643.1,1754.5 3655.3,1745.5 3667.4,1745.2 3679.5,1761.1 3691.7,1760.4 3703.8,1746.5 3716.0,1748.2 3728.1,1749.4 3740.2,1755.9 3752.4,1750.4 3764.5,1750.4 3776.6,1750.8 3788.8,1758.5 3800.9,1753.5 3813.0,1754.2 3825.2,1748.2 3837.3,1743.2 3849.5,1744.0 3861.6,1751.4 3873.7,1753.2 3885.9,1756.5" stroke="#111" stroke-dasharray="7,4"/><circle cx="3679.5" cy="1761.1" r="3.8" fill="#000" stroke="none"/><circle cx="3716.0" cy="1748.2" r="3.8" fill="#000" stroke="none"/><circle cx="3752.4" cy="1750.4" r="3.8" fill="#000" stroke="none"/><circle cx="3788.8" cy="1758.5" r="3.8" fill="#000" stroke="none"/><circle cx="3825.2" cy="1748.2" r="3.8" fill="#000" stroke="none"/><circle cx="3861.6" cy="1751.4" r="3.8" fill="#000" stroke="none"/><polyline points="3643.1,1754.5 3679.5,1955.0 3680.2,1963.0" stroke="#ff0000" stroke-width="2.6" stroke-dasharray="8,5"/><polygon points="3654.1,1754.5 3636.5,1745.7 3636.5,1763.3" fill="#ff0000"/><polygon points="3690.5,1955.0 3672.9,1946.2 3672.9,1963.8" fill="#ff0000"/></g><rect x="3631.0" y="1734.0" width="267.0" height="229.0" fill="none" stroke="#222" stroke-width="2"/><line x1="3643.1" y1="1963.0" x2="3643.1" y2="1972.0" stroke="#222" stroke-width="2"/><line x1="3703.8" y1="1963.0" x2="3703.8" y2="1972.0" stroke="#222" stroke-width="2"/><line x1="3764.5" y1="1963.0" x2="3764.5" y2="1972.0" stroke="#222" stroke-width="2"/><line x1="3825.2" y1="1963.0" x2="3825.2" y2="1972.0" stroke="#222" stroke-width="2"/><line x1="3885.9" y1="1963.0" x2="3885.9" y2="1972.0" stroke="#222" stroke-width="2"/><line x1="3622.0" y1="1961.9" x2="3631.0" y2="1961.9" stroke="#222" stroke-width="2"/><text x="3620.0" y="1975.9" text-anchor="end" font-family='Liberation Serif' font-size="42" fill="#222" textLength="64" lengthAdjust="spacingAndGlyphs">0.50</text><line x1="3622.0" y1="1847.9" x2="3631.0" y2="1847.9" stroke="#222" stroke-width="2"/><text x="3620.0" y="1861.9" text-anchor="end" font-family='Liberation Serif' font-size="42" fill="#222" textLength="64" lengthAdjust="spacingAndGlyphs">0.55</text><line x1="3622.0" y1="1734.0" x2="3631.0" y2="1734.0" stroke="#222" stroke-width="2"/><text x="3620.0" y="1748.0" text-anchor="end" font-family='Liberation Serif' font-size="42" fill="#222" textLength="64" lengthAdjust="spacingAndGlyphs">0.60</text><clipPath id="pc10"><rect x="2905.0" y="2013.0" width="268.0" height="228.0"/></clipPath><g clip-path="url(#pc10)" fill="none" stroke-width="2.2" stroke-linejoin="round"><polyline points="2917.2,2230.8 2929.4,2227.6 2941.5,2225.9 2953.7,2226.0 2965.9,2224.0 2978.1,2223.1 2990.3,2222.9 3002.5,2223.5 3014.6,2224.7 3026.8,2224.7 3039.0,2224.4 3051.2,2222.6 3063.4,2224.0 3075.5,2223.9 3087.7,2222.7 3099.9,2224.0 3112.1,2223.5 3124.3,2223.7 3136.5,2224.5 3148.6,2223.4 3160.8,2222.8" stroke="#440154"/><polyline points="2917.2,2230.8 2929.4,2228.6 2941.5,2226.6 2953.7,2225.1 2965.9,2225.3 2978.1,2223.8 2990.3,2222.9 3002.5,2223.1 3014.6,2223.3 3026.8,2222.5 3039.0,2224.0 3051.2,2223.1 3063.4,2223.5 3075.5,2223.0 3087.7,2224.1 3099.9,2222.6 3112.1,2224.1 3124.3,2223.9 3136.5,2222.5 3148.6,2222.2 3160.8,2223.4" stroke="#450457"/><polyline points="2917.2,2230.8 2929.4,2227.5 2941.5,2225.7 2953.7,2224.3 2965.9,2222.7 2978.1,2223.2 2990.3,2223.0 3002.5,2222.1 3014.6,2222.7 3026.8,2221.5 3039.0,2221.1 3051.2,2221.2 3063.4,2221.8 3075.5,2222.1 3087.7,2221.9 3099.9,2222.8 3112.1,2221.3 3124.3,2222.1 3136.5,2222.2 3148.6,2222.7 3160.8,2221.9" stroke="#482475"/><polyline points="2917.2,2230.8 2929.4,2223.5 2941.5,2219.6 2953.7,2215.9 2965.9,2214.8 2978.1,2214.7 2990.3,2213.5 3002.5,2212.3 3014.6,2213.0 3026.8,2212.7 3039.0,2213.8 3051.2,2212.8 3063.4,2212.8 3075.5,2212.9 3087.7,2212.9 3099.9,2212.5 3112.1,2212.6 3124.3,2212.7 3136.5,2213.4 3148.6,2212.8 3160.8,2211.7" stroke="#414487"/><polyline points="2917.2,2230.8 2929.4,2221.7 2941.5,2216.9 2953.7,2213.6 2965.9,2210.4 2978.1,2210.2 2990.3,2209.3 3002.5,2208.8 3014.6,2207.8 3026.8,2206.4 3039.0,2207.4 3051.2,2207.4 3063.4,2207.4 3075.5,2207.3 3087.7,2207.4 3099.9,2206.8 3112.1,2206.4 3124.3,2206.8 3136.5,2207.4 3148.6,2206.9 3160.8,2206.3" stroke="#355f8d"/><polyline points="2917.2,2230.8 2929.4,2219.4 2941.5,2211.9 2953.7,2206.6 2965.9,2203.7 2978.1,2202.2 2990.3,2201.3 3002.5,2200.2 3014.6,2200.6 3026.8,2199.6 3039.0,2199.2 3051.2,2200.2 3063.4,2199.3 3075.5,2199.5 3087.7,2199.2 3099.9,2201.0 3112.1,2199.1 3124.3,2199.4 3136.5,2199.0 3148.6,2198.9 3160.8,2200.4" stroke="#2a788e"/><polyline points="2917.2,2230.8 2929.4,2216.2 2941.5,2208.7 2953.7,2202.4 2965.9,2198.5 2978.1,2198.2 2990.3,2196.7 3002.5,2196.5 3014.6,2195.9 3026.8,2195.6 3039.0,2195.7 3051.2,2193.6 3063.4,2193.8 3075.5,2194.7 3087.7,2194.0 3099.9,2194.1 3112.1,2194.5 3124.3,2194.7 3136.5,2194.2 3148.6,2194.4 3160.8,2195.0" stroke="#21918c"/><polyline points="2917.2,2230.8 2929.4,2214.0 2941.5,2203.0 2953.7,2196.7 2965.9,2193.8 2978.1,2190.6 2990.3,2188.6 3002.5,2187.8 3014.6,2187.7 3026.8,2188.7 3039.0,2187.7 3051.2,2188.3 3063.4,2188.3 3075.5,2187.9 3087.7,2187.4 3099.9,2186.7 3112.1,2187.0 3124.3,2187.7 3136.5,2186.8 3148.6,2187.3 3160.8,2187.3" stroke="#22a884"/><polyline points="2917.2,2230.8 2929.4,2212.1 2941.5,2200.0 2953.7,2193.1 2965.9,2188.0 2978.1,2185.9 2990.3,2184.4 3002.5,2183.3 3014.6,2182.8 3026.8,2182.0 3039.0,2181.7 3051.2,2181.4 3063.4,2182.1 3075.5,2181.3 3087.7,2180.9 3099.9,2180.8 3112.1,2181.4 3124.3,2182.8 3136.5,2181.1 3148.6,2181.1 3160.8,2182.9" stroke="#44bf70"/><polyline points="2917.2,2230.8 2929.4,2209.8 2941.5,2196.8 2953.7,2188.0 2965.9,2183.5 2978.1,2181.3 2990.3,2179.8 3002.5,2178.7 3014.6,2178.3 3026.8,2176.3 3039.0,2175.8 3051.2,2177.2 3063.4,2176.0 3075.5,2175.5 3087.7,2177.1 3099.9,2176.2 3112.1,2176.5 3124.3,2175.3 3136.5,2175.6 3148.6,2177.4 3160.8,2177.0" stroke="#7ad151"/><polyline points="2917.2,2230.8 2929.4,2206.5 2941.5,2192.8 2953.7,2184.2 2965.9,2178.4 2978.1,2175.3 2990.3,2172.9 3002.5,2173.1 3014.6,2173.0 3026.8,2171.2 3039.0,2172.3 3051.2,2171.0 3063.4,2170.3 3075.5,2171.2 3087.7,2170.8 3099.9,2171.7 3112.1,2171.7 3124.3,2170.7 3136.5,2170.1 3148.6,2169.8 3160.8,2172.0" stroke="#bddf26"/><polyline points="2917.2,2230.8 2929.4,2204.5 2941.5,2190.0 2953.7,2181.0 2965.9,2175.2 2978.1,2171.3 2990.3,2169.8 3002.5,2168.9 3014.6,2166.6 3026.8,2166.5 3039.0,2166.4 3051.2,2166.0 3063.4,2165.3 3075.5,2167.0 3087.7,2165.6 3099.9,2165.5 3112.1,2166.6 3124.3,2166.1 3136.5,2166.3 3148.6,2166.9 3160.8,2166.4" stroke="#fde725"/><polyline points="2917.2,2230.8 2929.4,2227.5 2941.5,2225.9 2953.7,2224.5 2965.9,2224.6 2978.1,2222.8 2990.3,2222.5 3002.5,2222.8 3014.6,2223.7 3026.8,2222.9 3039.0,2223.3 3051.2,2223.4 3063.4,2221.9 3075.5,2221.8 3087.7,2223.8 3099.9,2222.1 3112.1,2222.6 3124.3,2223.1 3136.5,2223.3 3148.6,2222.5 3160.8,2222.9" stroke="#111" stroke-dasharray="7,4"/><circle cx="2953.7" cy="2224.5" r="3.8" fill="#000" stroke="none"/><circle cx="2990.3" cy="2222.5" r="3.8" fill="#000" stroke="none"/><circle cx="3026.8" cy="2222.9" r="3.8" fill="#000" stroke="none"/><circle cx="3063.4" cy="2221.9" r="3.8" fill="#000" stroke="none"/><circle cx="3099.9" cy="2222.1" r="3.8" fill="#000" stroke="none"/><circle cx="3136.5" cy="2223.3" r="3.8" fill="#000" stroke="none"/><polyline points="2917.2,2230.8 2953.7,2103.8 2978.1,2013.0" stroke="#ff0000" stroke-width="2.6" stroke-dasharray="8,5"/><polygon points="2928.2,2230.8 2910.6,2222.0 2910.6,2239.6" fill="#ff0000"/><polygon points="2964.7,2103.8 2947.1,2095.0 2947.1,2112.6" fill="#ff0000"/></g><rect x="2905.0" y="2013.0" width="268.0" height="228.0" fill="none" stroke="#222" stroke-width="2"/><line x1="2917.2" y1="2241.0" x2="2917.2" y2="2250.0" stroke="#222" stroke-width="2"/><line x1="2978.1" y1="2241.0" x2="2978.1" y2="2250.0" stroke="#222" stroke-width="2"/><line x1="3039.0" y1="2241.0" x2="3039.0" y2="2250.0" stroke="#222" stroke-width="2"/><line x1="3099.9" y1="2241.0" x2="3099.9" y2="2250.0" stroke="#222" stroke-width="2"/><line x1="3160.8" y1="2241.0" x2="3160.8" y2="2250.0" stroke="#222" stroke-width="2"/><line x1="2896.0" y1="2230.8" x2="2905.0" y2="2230.8" stroke="#222" stroke-width="2"/><text x="2894.0" y="2244.8" text-anchor="end" font-family='Liberation Serif' font-size="42" fill="#222" textLength="17" lengthAdjust="spacingAndGlyphs">2</text><line x1="2896.0" y1="2121.9" x2="2905.0" y2="2121.9" stroke="#222" stroke-width="2"/><text x="2894.0" y="2135.9" text-anchor="end" font-family='Liberation Serif' font-size="42" fill="#222" textLength="17" lengthAdjust="spacingAndGlyphs">5</text><line x1="2896.0" y1="2013.0" x2="2905.0" y2="2013.0" stroke="#222" stroke-width="2"/><text x="2894.0" y="2027.0" text-anchor="end" font-family='Liberation Serif' font-size="42" fill="#222" textLength="17" lengthAdjust="spacingAndGlyphs">8</text><clipPath id="pc11"><rect x="3268.0" y="2013.0" width="267.5" height="228.0"/></clipPath><g clip-path="url(#pc11)" fill="none" stroke-width="2.2" stroke-linejoin="round"><polyline points="3280.2,2018.3 3292.3,2035.6 3304.5,2043.1 3316.6,2043.9 3328.8,2047.2 3341.0,2047.2 3353.1,2047.2 3365.3,2048.2 3377.4,2046.4 3389.6,2046.6 3401.8,2044.9 3413.9,2046.2 3426.1,2045.7 3438.2,2046.3 3450.4,2045.6 3462.5,2046.5 3474.7,2047.3 3486.9,2044.2 3499.0,2044.2 3511.2,2044.9 3523.3,2045.4" stroke="#440154"/><polyline points="3280.2,2018.3 3292.3,2034.9 3304.5,2042.2 3316.6,2044.9 3328.8,2047.1 3341.0,2044.8 3353.1,2046.6 3365.3,2044.8 3377.4,2046.8 3389.6,2044.4 3401.8,2044.9 3413.9,2048.4 3426.1,2047.5 3438.2,2044.6 3450.4,2046.4 3462.5,2044.3 3474.7,2046.8 3486.9,2048.1 3499.0,2045.8 3511.2,2045.2 3523.3,2047.3" stroke="#450457"/><polyline points="3280.2,2018.3 3292.3,2036.9 3304.5,2043.2 3316.6,2043.7 3328.8,2045.9 3341.0,2049.2 3353.1,2048.9 3365.3,2049.7 3377.4,2049.9 3389.6,2046.8 3401.8,2049.4 3413.9,2047.8 3426.1,2048.3 3438.2,2049.4 3450.4,2047.1 3462.5,2049.6 3474.7,2047.5 3486.9,2049.7 3499.0,2048.4 3511.2,2049.3 3523.3,2049.0" stroke="#482475"/><polyline points="3280.2,2018.3 3292.3,2037.1 3304.5,2046.9 3316.6,2052.9 3328.8,2052.2 3341.0,2055.7 3353.1,2055.3 3365.3,2053.5 3377.4,2054.4 3389.6,2056.8 3401.8,2053.0 3413.9,2056.3 3426.1,2056.1 3438.2,2053.9 3450.4,2055.8 3462.5,2055.9 3474.7,2056.9 3486.9,2056.8 3499.0,2054.7 3511.2,2056.2 3523.3,2054.7" stroke="#414487"/><polyline points="3280.2,2018.3 3292.3,2042.6 3304.5,2052.6 3316.6,2055.0 3328.8,2058.9 3341.0,2059.4 3353.1,2058.5 3365.3,2061.6 3377.4,2061.8 3389.6,2058.6 3401.8,2059.0 3413.9,2061.4 3426.1,2061.7 3438.2,2059.3 3450.4,2058.5 3462.5,2061.6 3474.7,2058.5 3486.9,2058.7 3499.0,2059.9 3511.2,2060.7 3523.3,2062.0" stroke="#355f8d"/><polyline points="3280.2,2018.3 3292.3,2047.0 3304.5,2054.7 3316.6,2062.8 3328.8,2063.1 3341.0,2065.9 3353.1,2063.9 3365.3,2065.1 3377.4,2066.4 3389.6,2067.0 3401.8,2064.7 3413.9,2067.4 3426.1,2066.8 3438.2,2065.4 3450.4,2064.1 3462.5,2065.1 3474.7,2066.5 3486.9,2063.9 3499.0,2066.9 3511.2,2067.7 3523.3,2066.6" stroke="#2a788e"/><polyline points="3280.2,2018.3 3292.3,2048.2 3304.5,2062.8 3316.6,2067.9 3328.8,2069.6 3341.0,2069.8 3353.1,2072.1 3365.3,2071.3 3377.4,2069.2 3389.6,2068.8 3401.8,2070.2 3413.9,2070.1 3426.1,2070.5 3438.2,2072.4 3450.4,2072.8 3462.5,2072.9 3474.7,2069.2 3486.9,2070.0 3499.0,2068.9 3511.2,2072.9 3523.3,2070.3" stroke="#21918c"/><polyline points="3280.2,2018.3 3292.3,2050.1 3304.5,2062.8 3316.6,2070.5 3328.8,2070.3 3341.0,2075.3 3353.1,2073.8 3365.3,2073.2 3377.4,2072.6 3389.6,2073.4 3401.8,2073.5 3413.9,2073.1 3426.1,2072.6 3438.2,2075.0 3450.4,2073.6 3462.5,2072.7 3474.7,2072.8 3486.9,2074.7 3499.0,2073.2 3511.2,2072.9 3523.3,2074.1" stroke="#22a884"/><polyline points="3280.2,2018.3 3292.3,2052.4 3304.5,2068.5 3316.6,2074.3 3328.8,2077.0 3341.0,2080.5 3353.1,2078.6 3365.3,2077.4 3377.4,2078.0 3389.6,2078.7 3401.8,2080.1 3413.9,2078.7 3426.1,2079.3 3438.2,2079.9 3450.4,2078.2 3462.5,2081.4 3474.7,2078.6 3486.9,2081.6 3499.0,2079.2 3511.2,2079.7 3523.3,2080.8" stroke="#44bf70"/><polyline points="3280.2,2018.3 3292.3,2054.1 3304.5,2070.9 3316.6,2077.3 3328.8,2079.1 3341.0,2083.2 3353.1,2084.8 3365.3,2083.8 3377.4,2082.3 3389.6,2084.4 3401.8,2084.5 3413.9,2081.4 3426.1,2082.5 3438.2,2083.4 3450.4,2081.5 3462.5,2083.9 3474.7,2082.5 3486.9,2084.4 3499.0,2083.4 3511.2,2081.9 3523.3,2081.4" stroke="#7ad151"/><polyline points="3280.2,2018.3 3292.3,2055.3 3304.5,2074.2 3316.6,2080.7 3328.8,2085.0 3341.0,2087.1 3353.1,2086.2 3365.3,2085.0 3377.4,2085.1 3389.6,2085.7 3401.8,2084.8 3413.9,2087.6 3426.1,2088.1 3438.2,2086.9 3450.4,2087.6 3462.5,2087.9 3474.7,2087.0 3486.9,2086.1 3499.0,2086.7 3511.2,2087.4 3523.3,2085.2" stroke="#bddf26"/><polyline points="3280.2,2018.3 3292.3,2056.9 3304.5,2076.8 3316.6,2086.1 3328.8,2089.6 3341.0,2087.5 3353.1,2091.6 3365.3,2089.1 3377.4,2089.8 3389.6,2090.9 3401.8,2088.9 3413.9,2092.2 3426.1,2091.7 3438.2,2090.4 3450.4,2092.2 3462.5,2088.8 3474.7,2091.3 3486.9,2091.7 3499.0,2092.1 3511.2,2089.6 3523.3,2090.4" stroke="#fde725"/><polyline points="3280.2,2018.3 3292.3,2033.3 3304.5,2039.3 3316.6,2040.6 3328.8,2043.8 3341.0,2044.1 3353.1,2044.0 3365.3,2045.8 3377.4,2044.5 3389.6,2044.0 3401.8,2043.3 3413.9,2046.3 3426.1,2045.4 3438.2,2046.3 3450.4,2043.3 3462.5,2043.8 3474.7,2046.5 3486.9,2042.5 3499.0,2042.6 3511.2,2043.9 3523.3,2044.1" stroke="#111" stroke-dasharray="7,4"/><circle cx="3316.6" cy="2040.6" r="3.8" fill="#000" stroke="none"/><circle cx="3353.1" cy="2044.0" r="3.8" fill="#000" stroke="none"/><circle cx="3389.6" cy="2044.0" r="3.8" fill="#000" stroke="none"/><circle cx="3426.1" cy="2045.4" r="3.8" fill="#000" stroke="none"/><circle cx="3462.5" cy="2043.8" r="3.8" fill="#000" stroke="none"/><circle cx="3499.0" cy="2042.6" r="3.8" fill="#000" stroke="none"/><polyline points="3280.2,2018.3 3316.6,2109.5 3353.1,2181.4 3382.3,2241.0" stroke="#ff0000" stroke-width="2.6" stroke-dasharray="8,5"/><polygon points="3291.2,2018.3 3273.6,2009.5 3273.6,2027.1" fill="#ff0000"/><polygon points="3327.6,2109.5 3310.0,2100.7 3310.0,2118.3" fill="#ff0000"/><polygon points="3364.1,2181.4 3346.5,2172.6 3346.5,2190.2" fill="#ff0000"/></g><rect x="3268.0" y="2013.0" width="267.5" height="228.0" fill="none" stroke="#222" stroke-width="2"/><line x1="3280.2" y1="2241.0" x2="3280.2" y2="2250.0" stroke="#222" stroke-width="2"/><line x1="3341.0" y1="2241.0" x2="3341.0" y2="2250.0" stroke="#222" stroke-width="2"/><line x1="3401.8" y1="2241.0" x2="3401.8" y2="2250.0" stroke="#222" stroke-width="2"/><line x1="3462.5" y1="2241.0" x2="3462.5" y2="2250.0" stroke="#222" stroke-width="2"/><line x1="3523.3" y1="2241.0" x2="3523.3" y2="2250.0" stroke="#222" stroke-width="2"/><line x1="3259.0" y1="2241.0" x2="3268.0" y2="2241.0" stroke="#222" stroke-width="2"/><text x="3257.0" y="2255.0" text-anchor="end" font-family='Liberation Serif' font-size="42" fill="#222" textLength="64" lengthAdjust="spacingAndGlyphs">0.55</text><line x1="3259.0" y1="2153.3" x2="3268.0" y2="2153.3" stroke="#222" stroke-width="2"/><text x="3257.0" y="2167.3" text-anchor="end" font-family='Liberation Serif' font-size="42" fill="#222" textLength="64" lengthAdjust="spacingAndGlyphs">0.60</text><line x1="3259.0" y1="2065.6" x2="3268.0" y2="2065.6" stroke="#222" stroke-width="2"/><text x="3257.0" y="2079.6" text-anchor="end" font-family='Liberation Serif' font-size="42" fill="#222" textLength="64" lengthAdjust="spacingAndGlyphs">0.65</text><clipPath id="pc12"><rect x="3631.0" y="2013.0" width="267.0" height="228.0"/></clipPath><g clip-path="url(#pc12)" fill="none" stroke-width="2.2" stroke-linejoin="round"><polyline points="3643.1,2075.6 3655.3,2053.0 3667.4,2043.5 3679.5,2036.2 3691.7,2042.5 3703.8,2041.7 3716.0,2033.7 3728.1,2037.4 3740.2,2041.2 3752.4,2033.0 3764.5,2033.3 3776.6,2041.0 3788.8,2038.1 3800.9,2040.8 3813.0,2039.1 3825.2,2036.3 3837.3,2040.5 3849.5,2035.6 3861.6,2041.5 3873.7,2040.4 3885.9,2034.5" stroke="#440154"/><polyline points="3643.1,2075.6 3655.3,2050.8 3667.4,2041.1 3679.5,2036.0 3691.7,2035.8 3703.8,2036.2 3716.0,2039.3 3728.1,2032.8 3740.2,2030.6 3752.4,2030.5 3764.5,2033.4 3776.6,2036.2 3788.8,2036.1 3800.9,2033.1 3813.0,2033.3 3825.2,2038.4 3837.3,2037.3 3849.5,2036.1 3861.6,2034.8 3873.7,2032.0 3885.9,2034.9" stroke="#450457"/><polyline points="3643.1,2075.6 3655.3,2057.4 3667.4,2041.8 3679.5,2042.4 3691.7,2040.5 3703.8,2042.8 3716.0,2040.7 3728.1,2041.0 3740.2,2037.5 3752.4,2043.6 3764.5,2039.5 3776.6,2042.9 3788.8,2038.2 3800.9,2044.2 3813.0,2042.0 3825.2,2041.4 3837.3,2038.7 3849.5,2044.1 3861.6,2040.3 3873.7,2042.6 3885.9,2042.0" stroke="#482475"/><polyline points="3643.1,2075.6 3655.3,2054.9 3667.4,2042.8 3679.5,2044.3 3691.7,2038.9 3703.8,2045.8 3716.0,2038.7 3728.1,2043.8 3740.2,2045.4 3752.4,2040.2 3764.5,2038.7 3776.6,2047.0 3788.8,2044.6 3800.9,2040.0 3813.0,2044.0 3825.2,2044.9 3837.3,2047.0 3849.5,2046.7 3861.6,2041.4 3873.7,2038.1 3885.9,2038.0" stroke="#414487"/><polyline points="3643.1,2075.6 3655.3,2056.3 3667.4,2053.6 3679.5,2048.2 3691.7,2043.0 3703.8,2042.2 3716.0,2043.9 3728.1,2047.6 3740.2,2044.8 3752.4,2045.3 3764.5,2043.9 3776.6,2047.2 3788.8,2041.0 3800.9,2041.5 3813.0,2048.2 3825.2,2047.0 3837.3,2041.6 3849.5,2047.1 3861.6,2041.0 3873.7,2044.9 3885.9,2043.3" stroke="#355f8d"/><polyline points="3643.1,2075.6 3655.3,2054.4 3667.4,2051.8 3679.5,2048.6 3691.7,2047.9 3703.8,2043.6 3716.0,2043.4 3728.1,2048.5 3740.2,2041.5 3752.4,2045.8 3764.5,2047.4 3776.6,2045.7 3788.8,2040.7 3800.9,2044.5 3813.0,2043.9 3825.2,2041.2 3837.3,2040.8 3849.5,2042.7 3861.6,2045.8 3873.7,2044.3 3885.9,2041.4" stroke="#2a788e"/><polyline points="3643.1,2075.6 3655.3,2055.3 3667.4,2050.7 3679.5,2050.4 3691.7,2049.3 3703.8,2045.6 3716.0,2047.1 3728.1,2052.1 3740.2,2045.7 3752.4,2043.9 3764.5,2044.9 3776.6,2044.0 3788.8,2043.8 3800.9,2047.3 3813.0,2045.0 3825.2,2048.7 3837.3,2051.3 3849.5,2049.0 3861.6,2049.3 3873.7,2043.6 3885.9,2045.9" stroke="#21918c"/><polyline points="3643.1,2075.6 3655.3,2057.5 3667.4,2050.3 3679.5,2052.4 3691.7,2047.8 3703.8,2046.0 3716.0,2048.6 3728.1,2050.0 3740.2,2048.5 3752.4,2049.2 3764.5,2045.9 3776.6,2050.9 3788.8,2051.4 3800.9,2049.3 3813.0,2045.8 3825.2,2045.2 3837.3,2046.1 3849.5,2043.6 3861.6,2048.8 3873.7,2051.9 3885.9,2047.7" stroke="#22a884"/><polyline points="3643.1,2075.6 3655.3,2060.0 3667.4,2056.5 3679.5,2049.9 3691.7,2052.1 3703.8,2052.7 3716.0,2051.8 3728.1,2046.1 3740.2,2054.7 3752.4,2051.4 3764.5,2052.2 3776.6,2052.9 3788.8,2050.8 3800.9,2052.7 3813.0,2046.3 3825.2,2050.1 3837.3,2048.3 3849.5,2053.2 3861.6,2050.5 3873.7,2049.2 3885.9,2047.0" stroke="#44bf70"/><polyline points="3643.1,2075.6 3655.3,2061.8 3667.4,2054.0 3679.5,2048.2 3691.7,2047.6 3703.8,2052.8 3716.0,2049.9 3728.1,2047.8 3740.2,2051.1 3752.4,2048.6 3764.5,2048.7 3776.6,2045.8 3788.8,2049.7 3800.9,2048.5 3813.0,2051.5 3825.2,2048.0 3837.3,2051.8 3849.5,2050.2 3861.6,2051.4 3873.7,2051.9 3885.9,2053.5" stroke="#7ad151"/><polyline points="3643.1,2075.6 3655.3,2063.6 3667.4,2055.4 3679.5,2056.1 3691.7,2057.3 3703.8,2050.1 3716.0,2054.7 3728.1,2048.7 3740.2,2051.8 3752.4,2053.7 3764.5,2049.3 3776.6,2049.1 3788.8,2054.3 3800.9,2056.1 3813.0,2051.4 3825.2,2049.6 3837.3,2051.7 3849.5,2050.1 3861.6,2053.5 3873.7,2051.6 3885.9,2054.9" stroke="#bddf26"/><polyline points="3643.1,2075.6 3655.3,2065.2 3667.4,2061.3 3679.5,2059.7 3691.7,2059.0 3703.8,2055.1 3716.0,2060.9 3728.1,2060.5 3740.2,2060.0 3752.4,2053.5 3764.5,2057.6 3776.6,2061.9 3788.8,2054.7 3800.9,2054.4 3813.0,2054.8 3825.2,2059.1 3837.3,2055.6 3849.5,2059.6 3861.6,2061.1 3873.7,2054.4 3885.9,2054.7" stroke="#fde725"/><polyline points="3643.1,2075.6 3655.3,2053.3 3667.4,2043.4 3679.5,2040.2 3691.7,2043.9 3703.8,2044.7 3716.0,2041.2 3728.1,2042.1 3740.2,2037.1 3752.4,2038.2 3764.5,2039.0 3776.6,2039.4 3788.8,2038.5 3800.9,2043.2 3813.0,2040.5 3825.2,2043.1 3837.3,2036.3 3849.5,2044.0 3861.6,2037.1 3873.7,2043.9 3885.9,2038.3" stroke="#111" stroke-dasharray="7,4"/><circle cx="3679.5" cy="2040.2" r="3.8" fill="#000" stroke="none"/><circle cx="3716.0" cy="2041.2" r="3.8" fill="#000" stroke="none"/><circle cx="3752.4" cy="2038.2" r="3.8" fill="#000" stroke="none"/><circle cx="3788.8" cy="2038.5" r="3.8" fill="#000" stroke="none"/><circle cx="3825.2" cy="2043.1" r="3.8" fill="#000" stroke="none"/><circle cx="3861.6" cy="2037.1" r="3.8" fill="#000" stroke="none"/><polyline points="3643.1,2075.6 3655.3,2080.7 3679.5,2132.3 3691.7,2151.9 3716.0,2204.6 3734.2,2241.0" stroke="#ff0000" stroke-width="2.6" stroke-dasharray="8,5"/><polygon points="3654.1,2075.6 3636.5,2066.8 3636.5,2084.4" fill="#ff0000"/><polygon points="3690.5,2132.3 3672.9,2123.5 3672.9,2141.1" fill="#ff0000"/><polygon points="3727.0,2204.6 3709.4,2195.8 3709.4,2213.4" fill="#ff0000"/></g><rect x="3631.0" y="2013.0" width="267.0" height="228.0" fill="none" stroke="#222" stroke-width="2"/><line x1="3643.1" y1="2241.0" x2="3643.1" y2="2250.0" stroke="#222" stroke-width="2"/><line x1="3703.8" y1="2241.0" x2="3703.8" y2="2250.0" stroke="#222" stroke-width="2"/><line x1="3764.5" y1="2241.0" x2="3764.5" y2="2250.0" stroke="#222" stroke-width="2"/><line x1="3825.2" y1="2241.0" x2="3825.2" y2="2250.0" stroke="#222" stroke-width="2"/><line x1="3885.9" y1="2241.0" x2="3885.9" y2="2250.0" stroke="#222" stroke-width="2"/><line x1="3622.0" y1="2241.0" x2="3631.0" y2="2241.0" stroke="#222" stroke-width="2"/><text x="3620.0" y="2255.0" text-anchor="end" font-family='Liberation Serif' font-size="42" fill="#222" textLength="64" lengthAdjust="spacingAndGlyphs">0.55</text><line x1="3622.0" y1="2113.8" x2="3631.0" y2="2113.8" stroke="#222" stroke-width="2"/><text x="3620.0" y="2127.8" text-anchor="end" font-family='Liberation Serif' font-size="42" fill="#222" textLength="64" lengthAdjust="spacingAndGlyphs">0.60</text><clipPath id="pc20"><rect x="2905.0" y="2291.0" width="268.0" height="228.0"/></clipPath><g clip-path="url(#pc20)" fill="none" stroke-width="2.2" stroke-linejoin="round"><polyline points="2917.2,2509.9 2929.4,2510.4 2941.5,2510.2 2953.7,2510.0 2965.9,2510.8 2978.1,2511.9 2990.3,2510.8 3002.5,2512.2 3014.6,2512.1 3026.8,2512.0 3039.0,2510.9 3051.2,2511.9 3063.4,2511.1 3075.5,2512.4 3087.7,2512.6 3099.9,2512.8 3112.1,2511.4 3124.3,2511.1 3136.5,2512.6 3148.6,2512.7 3160.8,2513.3" stroke="#440154"/><polyline points="2917.2,2509.9 2929.4,2509.8 2941.5,2510.8 2953.7,2511.3 2965.9,2510.3 2978.1,2510.5 2990.3,2510.9 3002.5,2511.6 3014.6,2510.6 3026.8,2510.9 3039.0,2511.2 3051.2,2511.9 3063.4,2510.2 3075.5,2510.4 3087.7,2510.9 3099.9,2510.3 3112.1,2511.3 3124.3,2511.9 3136.5,2512.5 3148.6,2511.4 3160.8,2511.7" stroke="#450457"/><polyline points="2917.2,2509.9 2929.4,2509.9 2941.5,2508.5 2953.7,2508.7 2965.9,2510.3 2978.1,2508.5 2990.3,2510.5 3002.5,2508.9 3014.6,2509.6 3026.8,2508.7 3039.0,2508.1 3051.2,2509.0 3063.4,2508.5 3075.5,2510.0 3087.7,2508.6 3099.9,2509.8 3112.1,2509.0 3124.3,2509.2 3136.5,2509.8 3148.6,2508.2 3160.8,2509.7" stroke="#482475"/><polyline points="2917.2,2509.9 2929.4,2509.2 2941.5,2508.8 2953.7,2506.8 2965.9,2507.1 2978.1,2507.3 2990.3,2507.0 3002.5,2506.2 3014.6,2505.3 3026.8,2506.1 3039.0,2505.8 3051.2,2504.0 3063.4,2504.1 3075.5,2504.7 3087.7,2504.0 3099.9,2504.2 3112.1,2503.5 3124.3,2503.0 3136.5,2503.1 3148.6,2502.9 3160.8,2502.5" stroke="#414487"/><polyline points="2917.2,2509.9 2929.4,2508.4 2941.5,2506.5 2953.7,2504.8 2965.9,2504.5 2978.1,2504.3 2990.3,2504.8 3002.5,2503.9 3014.6,2502.4 3026.8,2502.4 3039.0,2501.0 3051.2,2500.4 3063.4,2501.3 3075.5,2500.7 3087.7,2500.4 3099.9,2499.1 3112.1,2500.0 3124.3,2499.2 3136.5,2497.4 3148.6,2498.1 3160.8,2496.3" stroke="#355f8d"/><polyline points="2917.2,2509.9 2929.4,2506.8 2941.5,2503.5 2953.7,2502.6 2965.9,2502.1 2978.1,2499.9 2990.3,2499.8 3002.5,2497.3 3014.6,2497.0 3026.8,2496.6 3039.0,2494.9 3051.2,2495.0 3063.4,2493.2 3075.5,2493.0 3087.7,2493.5 3099.9,2492.5 3112.1,2490.5 3124.3,2491.4 3136.5,2488.6 3148.6,2490.0 3160.8,2487.7" stroke="#2a788e"/><polyline points="2917.2,2509.9 2929.4,2505.1 2941.5,2502.4 2953.7,2499.6 2965.9,2497.9 2978.1,2496.9 2990.3,2495.7 3002.5,2495.0 3014.6,2492.5 3026.8,2490.9 3039.0,2491.0 3051.2,2488.8 3063.4,2488.8 3075.5,2488.1 3087.7,2485.8 3099.9,2484.5 3112.1,2485.3 3124.3,2482.5 3136.5,2482.7 3148.6,2480.7 3160.8,2480.7" stroke="#21918c"/><polyline points="2917.2,2509.9 2929.4,2503.2 2941.5,2500.8 2953.7,2498.2 2965.9,2496.3 2978.1,2494.3 2990.3,2492.8 3002.5,2489.6 3014.6,2490.0 3026.8,2488.4 3039.0,2486.8 3051.2,2485.8 3063.4,2483.0 3075.5,2483.5 3087.7,2480.7 3099.9,2480.1 3112.1,2479.3 3124.3,2477.8 3136.5,2475.9 3148.6,2475.3 3160.8,2473.6" stroke="#22a884"/><polyline points="2917.2,2509.9 2929.4,2503.5 2941.5,2498.5 2953.7,2494.8 2965.9,2493.1 2978.1,2490.1 2990.3,2487.9 3002.5,2487.1 3014.6,2484.4 3026.8,2484.3 3039.0,2481.8 3051.2,2480.6 3063.4,2479.6 3075.5,2476.8 3087.7,2474.9 3099.9,2474.2 3112.1,2473.0 3124.3,2470.2 3136.5,2468.5 3148.6,2467.8 3160.8,2466.4" stroke="#44bf70"/><polyline points="2917.2,2509.9 2929.4,2501.4 2941.5,2495.5 2953.7,2491.4 2965.9,2488.4 2978.1,2485.2 2990.3,2482.8 3002.5,2480.8 3014.6,2479.0 3026.8,2477.4 3039.0,2475.8 3051.2,2473.2 3063.4,2471.8 3075.5,2469.5 3087.7,2468.3 3099.9,2464.8 3112.1,2464.7 3124.3,2461.1 3136.5,2459.9 3148.6,2457.2 3160.8,2455.4" stroke="#7ad151"/><polyline points="2917.2,2509.9 2929.4,2501.4 2941.5,2494.7 2953.7,2488.3 2965.9,2485.4 2978.1,2483.6 2990.3,2480.5 3002.5,2478.4 3014.6,2475.6 3026.8,2473.9 3039.0,2471.8 3051.2,2469.6 3063.4,2466.5 3075.5,2463.8 3087.7,2462.1 3099.9,2459.7 3112.1,2457.6 3124.3,2456.6 3136.5,2453.2 3148.6,2451.6 3160.8,2449.6" stroke="#bddf26"/><polyline points="2917.2,2509.9 2929.4,2498.5 2941.5,2492.5 2953.7,2486.7 2965.9,2482.4 2978.1,2479.6 2990.3,2477.4 3002.5,2474.5 3014.6,2471.7 3026.8,2469.4 3039.0,2466.5 3051.2,2464.9 3063.4,2460.9 3075.5,2458.5 3087.7,2456.5 3099.9,2455.3 3112.1,2452.7 3124.3,2448.8 3136.5,2446.5 3148.6,2444.5 3160.8,2441.8" stroke="#fde725"/><polyline points="2917.2,2509.9 2929.4,2509.3 2941.5,2510.0 2953.7,2510.0 2965.9,2509.9 2978.1,2511.5 2990.3,2510.7 3002.5,2510.2 3014.6,2510.3 3026.8,2511.1 3039.0,2512.1 3051.2,2511.6 3063.4,2510.4 3075.5,2512.5 3087.7,2512.1 3099.9,2510.7 3112.1,2512.0 3124.3,2512.6 3136.5,2512.4 3148.6,2511.1 3160.8,2512.5" stroke="#111" stroke-dasharray="7,4"/><circle cx="2953.7" cy="2510.0" r="3.8" fill="#000" stroke="none"/><circle cx="2990.3" cy="2510.7" r="3.8" fill="#000" stroke="none"/><circle cx="3026.8" cy="2511.1" r="3.8" fill="#000" stroke="none"/><circle cx="3063.4" cy="2510.4" r="3.8" fill="#000" stroke="none"/><circle cx="3099.9" cy="2510.7" r="3.8" fill="#000" stroke="none"/><circle cx="3136.5" cy="2512.4" r="3.8" fill="#000" stroke="none"/><polyline points="2917.2,2509.9 2953.7,2414.1 2990.3,2334.3 3011.0,2291.0" stroke="#ff0000" stroke-width="2.6" stroke-dasharray="8,5"/><polygon points="2928.2,2509.9 2910.6,2501.1 2910.6,2518.7" fill="#ff0000"/><polygon points="2964.7,2414.1 2947.1,2405.3 2947.1,2422.9" fill="#ff0000"/><polygon points="3001.3,2334.3 2983.7,2325.5 2983.7,2343.1" fill="#ff0000"/></g><rect x="2905.0" y="2291.0" width="268.0" height="228.0" fill="none" stroke="#222" stroke-width="2"/><line x1="2917.2" y1="2519.0" x2="2917.2" y2="2528.0" stroke="#222" stroke-width="2"/><text x="2917.2" y="2555" text-anchor="middle" font-family='Liberation Serif' font-size="41" fill="#222" textLength="17" lengthAdjust="spacingAndGlyphs">0</text><line x1="2978.1" y1="2519.0" x2="2978.1" y2="2528.0" stroke="#222" stroke-width="2"/><text x="2978.1" y="2555" text-anchor="middle" font-family='Liberation Serif' font-size="41" fill="#222" textLength="17" lengthAdjust="spacingAndGlyphs">5</text><line x1="3039.0" y1="2519.0" x2="3039.0" y2="2528.0" stroke="#222" stroke-width="2"/><text x="3039.0" y="2555" text-anchor="middle" font-family='Liberation Serif' font-size="41" fill="#222" textLength="34" lengthAdjust="spacingAndGlyphs">10</text><line x1="3099.9" y1="2519.0" x2="3099.9" y2="2528.0" stroke="#222" stroke-width="2"/><text x="3099.9" y="2555" text-anchor="middle" font-family='Liberation Serif' font-size="41" fill="#222" textLength="34" lengthAdjust="spacingAndGlyphs">15</text><line x1="3160.8" y1="2519.0" x2="3160.8" y2="2528.0" stroke="#222" stroke-width="2"/><text x="3160.8" y="2555" text-anchor="middle" font-family='Liberation Serif' font-size="41" fill="#222" textLength="34" lengthAdjust="spacingAndGlyphs">20</text><line x1="2896.0" y1="2519.0" x2="2905.0" y2="2519.0" stroke="#222" stroke-width="2"/><text x="2894.0" y="2533.0" text-anchor="end" font-family='Liberation Serif' font-size="42" fill="#222" textLength="17" lengthAdjust="spacingAndGlyphs">2</text><line x1="2896.0" y1="2405.0" x2="2905.0" y2="2405.0" stroke="#222" stroke-width="2"/><text x="2894.0" y="2419.0" text-anchor="end" font-family='Liberation Serif' font-size="42" fill="#222" textLength="17" lengthAdjust="spacingAndGlyphs">7</text><line x1="2896.0" y1="2291.0" x2="2905.0" y2="2291.0" stroke="#222" stroke-width="2"/><text x="2894.0" y="2305.0" text-anchor="end" font-family='Liberation Serif' font-size="42" fill="#222" textLength="35" lengthAdjust="spacingAndGlyphs">12</text><clipPath id="pc21"><rect x="3268.0" y="2291.0" width="267.5" height="228.0"/></clipPath><g clip-path="url(#pc21)" fill="none" stroke-width="2.2" stroke-linejoin="round"><polyline points="3280.2,2324.7 3292.3,2330.1 3304.5,2337.8 3316.6,2346.3 3328.8,2347.1 3341.0,2348.0 3353.1,2352.4 3365.3,2347.3 3377.4,2352.4 3389.6,2354.5 3401.8,2350.0 3413.9,2355.4 3426.1,2349.7 3438.2,2353.4 3450.4,2352.8 3462.5,2354.4 3474.7,2353.4 3486.9,2355.6 3499.0,2356.7 3511.2,2350.7 3523.3,2355.3" stroke="#440154"/><polyline points="3280.2,2324.7 3292.3,2330.8 3304.5,2340.8 3316.6,2339.4 3328.8,2342.9 3341.0,2346.1 3353.1,2347.6 3365.3,2350.0 3377.4,2349.7 3389.6,2354.8 3401.8,2352.6 3413.9,2350.3 3426.1,2355.1 3438.2,2349.9 3450.4,2350.3 3462.5,2353.9 3474.7,2354.3 3486.9,2353.7 3499.0,2354.2 3511.2,2349.7 3523.3,2354.2" stroke="#450457"/><polyline points="3280.2,2324.7 3292.3,2336.9 3304.5,2342.7 3316.6,2342.5 3328.8,2343.7 3341.0,2349.7 3353.1,2351.4 3365.3,2352.1 3377.4,2351.5 3389.6,2356.0 3401.8,2353.6 3413.9,2354.3 3426.1,2354.0 3438.2,2357.4 3450.4,2357.6 3462.5,2356.4 3474.7,2352.2 3486.9,2356.5 3499.0,2354.7 3511.2,2356.8 3523.3,2358.3" stroke="#482475"/><polyline points="3280.2,2324.7 3292.3,2338.4 3304.5,2340.4 3316.6,2346.0 3328.8,2352.8 3341.0,2353.3 3353.1,2355.3 3365.3,2355.1 3377.4,2355.7 3389.6,2360.4 3401.8,2356.7 3413.9,2357.3 3426.1,2360.3 3438.2,2358.3 3450.4,2361.3 3462.5,2362.3 3474.7,2363.3 3486.9,2358.7 3499.0,2364.0 3511.2,2364.7 3523.3,2359.3" stroke="#414487"/><polyline points="3280.2,2324.7 3292.3,2334.9 3304.5,2345.8 3316.6,2349.4 3328.8,2359.7 3341.0,2361.4 3353.1,2363.5 3365.3,2364.2 3377.4,2367.2 3389.6,2368.8 3401.8,2367.4 3413.9,2363.7 3426.1,2363.4 3438.2,2365.4 3450.4,2367.5 3462.5,2369.3 3474.7,2364.2 3486.9,2367.4 3499.0,2365.9 3511.2,2371.1 3523.3,2369.8" stroke="#355f8d"/><polyline points="3280.2,2324.7 3292.3,2336.2 3304.5,2346.5 3316.6,2353.0 3328.8,2360.2 3341.0,2365.1 3353.1,2366.6 3365.3,2366.5 3377.4,2371.9 3389.6,2371.2 3401.8,2373.8 3413.9,2370.6 3426.1,2376.6 3438.2,2371.9 3450.4,2370.1 3462.5,2377.1 3474.7,2373.0 3486.9,2372.6 3499.0,2371.2 3511.2,2373.2 3523.3,2375.6" stroke="#2a788e"/><polyline points="3280.2,2324.7 3292.3,2342.8 3304.5,2351.3 3316.6,2360.6 3328.8,2372.7 3341.0,2377.5 3353.1,2380.8 3365.3,2383.7 3377.4,2382.3 3389.6,2385.7 3401.8,2381.3 3413.9,2383.4 3426.1,2387.8 3438.2,2385.1 3450.4,2386.9 3462.5,2385.8 3474.7,2387.9 3486.9,2388.4 3499.0,2388.3 3511.2,2387.0 3523.3,2384.5" stroke="#21918c"/><polyline points="3280.2,2324.7 3292.3,2343.5 3304.5,2361.0 3316.6,2365.9 3328.8,2371.7 3341.0,2377.5 3353.1,2381.0 3365.3,2389.4 3377.4,2387.9 3389.6,2392.2 3401.8,2388.0 3413.9,2393.0 3426.1,2389.5 3438.2,2393.2 3450.4,2390.2 3462.5,2393.2 3474.7,2395.4 3486.9,2392.9 3499.0,2393.5 3511.2,2389.2 3523.3,2393.7" stroke="#22a884"/><polyline points="3280.2,2324.7 3292.3,2345.0 3304.5,2359.2 3316.6,2366.7 3328.8,2380.5 3341.0,2382.1 3353.1,2386.6 3365.3,2387.7 3377.4,2388.0 3389.6,2394.2 3401.8,2392.4 3413.9,2394.4 3426.1,2394.6 3438.2,2398.7 3450.4,2393.4 3462.5,2392.4 3474.7,2397.1 3486.9,2397.5 3499.0,2392.6 3511.2,2399.2 3523.3,2399.4" stroke="#44bf70"/><polyline points="3280.2,2324.7 3292.3,2349.9 3304.5,2360.3 3316.6,2372.0 3328.8,2382.4 3341.0,2387.0 3353.1,2395.5 3365.3,2393.9 3377.4,2397.6 3389.6,2398.5 3401.8,2400.6 3413.9,2401.3 3426.1,2403.1 3438.2,2404.8 3450.4,2402.3 3462.5,2403.9 3474.7,2400.7 3486.9,2399.9 3499.0,2400.7 3511.2,2402.7 3523.3,2404.4" stroke="#7ad151"/><polyline points="3280.2,2324.7 3292.3,2348.8 3304.5,2364.7 3316.6,2375.5 3328.8,2381.6 3341.0,2394.2 3353.1,2395.7 3365.3,2398.8 3377.4,2399.3 3389.6,2399.7 3401.8,2401.7 3413.9,2403.6 3426.1,2403.2 3438.2,2404.3 3450.4,2403.2 3462.5,2404.6 3474.7,2404.9 3486.9,2408.2 3499.0,2403.4 3511.2,2407.3 3523.3,2405.7" stroke="#bddf26"/><polyline points="3280.2,2324.7 3292.3,2347.9 3304.5,2365.2 3316.6,2378.1 3328.8,2394.7 3341.0,2399.2 3353.1,2404.0 3365.3,2406.9 3377.4,2411.2 3389.6,2410.0 3401.8,2414.7 3413.9,2414.0 3426.1,2409.9 3438.2,2411.9 3450.4,2414.3 3462.5,2417.1 3474.7,2411.0 3486.9,2413.0 3499.0,2416.8 3511.2,2415.9 3523.3,2413.7" stroke="#fde725"/><polyline points="3280.2,2324.7 3292.3,2334.8 3304.5,2336.3 3316.6,2340.6 3328.8,2344.5 3341.0,2348.4 3353.1,2345.6 3365.3,2346.5 3377.4,2349.4 3389.6,2350.0 3401.8,2352.4 3413.9,2354.3 3426.1,2351.8 3438.2,2350.4 3450.4,2354.3 3462.5,2349.0 3474.7,2353.2 3486.9,2353.2 3499.0,2354.7 3511.2,2347.6 3523.3,2349.6" stroke="#111" stroke-dasharray="7,4"/><circle cx="3316.6" cy="2340.6" r="3.8" fill="#000" stroke="none"/><circle cx="3353.1" cy="2345.6" r="3.8" fill="#000" stroke="none"/><circle cx="3389.6" cy="2350.0" r="3.8" fill="#000" stroke="none"/><circle cx="3426.1" cy="2351.8" r="3.8" fill="#000" stroke="none"/><circle cx="3462.5" cy="2349.0" r="3.8" fill="#000" stroke="none"/><circle cx="3499.0" cy="2354.7" r="3.8" fill="#000" stroke="none"/><polyline points="3280.2,2324.7 3304.5,2313.5 3316.6,2314.9 3353.1,2349.3 3389.6,2401.2 3426.1,2439.3 3462.5,2484.2 3499.0,2517.0 3502.7,2519.0" stroke="#ff0000" stroke-width="2.6" stroke-dasharray="8,5"/><polygon points="3291.2,2324.7 3273.6,2315.9 3273.6,2333.5" fill="#ff0000"/><polygon points="3327.6,2314.9 3310.0,2306.1 3310.0,2323.7" fill="#ff0000"/><polygon points="3364.1,2349.3 3346.5,2340.5 3346.5,2358.1" fill="#ff0000"/><polygon points="3400.6,2401.2 3383.0,2392.4 3383.0,2410.0" fill="#ff0000"/><polygon points="3437.1,2439.3 3419.5,2430.5 3419.5,2448.1" fill="#ff0000"/><polygon points="3473.5,2484.2 3455.9,2475.4 3455.9,2493.0" fill="#ff0000"/><polygon points="3510.0,2517.0 3492.4,2508.2 3492.4,2525.8" fill="#ff0000"/></g><rect x="3268.0" y="2291.0" width="267.5" height="228.0" fill="none" stroke="#222" stroke-width="2"/><line x1="3280.2" y1="2519.0" x2="3280.2" y2="2528.0" stroke="#222" stroke-width="2"/><text x="3280.2" y="2555" text-anchor="middle" font-family='Liberation Serif' font-size="41" fill="#222" textLength="17" lengthAdjust="spacingAndGlyphs">0</text><line x1="3341.0" y1="2519.0" x2="3341.0" y2="2528.0" stroke="#222" stroke-width="2"/><text x="3341.0" y="2555" text-anchor="middle" font-family='Liberation Serif' font-size="41" fill="#222" textLength="17" lengthAdjust="spacingAndGlyphs">5</text><line x1="3401.8" y1="2519.0" x2="3401.8" y2="2528.0" stroke="#222" stroke-width="2"/><text x="3401.8" y="2555" text-anchor="middle" font-family='Liberation Serif' font-size="41" fill="#222" textLength="34" lengthAdjust="spacingAndGlyphs">10</text><line x1="3462.5" y1="2519.0" x2="3462.5" y2="2528.0" stroke="#222" stroke-width="2"/><text x="3462.5" y="2555" text-anchor="middle" font-family='Liberation Serif' font-size="41" fill="#222" textLength="34" lengthAdjust="spacingAndGlyphs">15</text><line x1="3523.3" y1="2519.0" x2="3523.3" y2="2528.0" stroke="#222" stroke-width="2"/><text x="3523.3" y="2555" text-anchor="middle" font-family='Liberation Serif' font-size="41" fill="#222" textLength="34" lengthAdjust="spacingAndGlyphs">20</text><line x1="3259.0" y1="2519.0" x2="3268.0" y2="2519.0" stroke="#222" stroke-width="2"/><text x="3257.0" y="2533.0" text-anchor="end" font-family='Liberation Serif' font-size="42" fill="#222" textLength="64" lengthAdjust="spacingAndGlyphs">0.60</text><line x1="3259.0" y1="2416.8" x2="3268.0" y2="2416.8" stroke="#222" stroke-width="2"/><text x="3257.0" y="2430.8" text-anchor="end" font-family='Liberation Serif' font-size="42" fill="#222" textLength="64" lengthAdjust="spacingAndGlyphs">0.65</text><line x1="3259.0" y1="2314.5" x2="3268.0" y2="2314.5" stroke="#222" stroke-width="2"/><text x="3257.0" y="2328.5" text-anchor="end" font-family='Liberation Serif' font-size="42" fill="#222" textLength="64" lengthAdjust="spacingAndGlyphs">0.70</text><clipPath id="pc22"><rect x="3631.0" y="2291.0" width="267.0" height="228.0"/></clipPath><g clip-path="url(#pc22)" fill="none" stroke-width="2.2" stroke-linejoin="round"><polyline points="3643.1,2334.3 3655.3,2325.1 3667.4,2321.9 3679.5,2317.6 3691.7,2318.3 3703.8,2316.5 3716.0,2317.2 3728.1,2316.3 3740.2,2318.1 3752.4,2317.5 3764.5,2317.8 3776.6,2319.5 3788.8,2316.3 3800.9,2319.2 3813.0,2317.1 3825.2,2316.3 3837.3,2317.7 3849.5,2320.0 3861.6,2316.9 3873.7,2317.6 3885.9,2319.8" stroke="#440154"/><polyline points="3643.1,2334.3 3655.3,2325.6 3667.4,2319.4 3679.5,2320.2 3691.7,2315.6 3703.8,2317.3 3716.0,2317.2 3728.1,2317.6 3740.2,2316.5 3752.4,2315.3 3764.5,2318.1 3776.6,2317.8 3788.8,2316.8 3800.9,2318.1 3813.0,2316.8 3825.2,2317.0 3837.3,2317.5 3849.5,2316.4 3861.6,2317.1 3873.7,2319.1 3885.9,2315.0" stroke="#450457"/><polyline points="3643.1,2334.3 3655.3,2325.6 3667.4,2321.8 3679.5,2320.7 3691.7,2317.8 3703.8,2317.5 3716.0,2319.5 3728.1,2320.0 3740.2,2321.3 3752.4,2317.7 3764.5,2321.0 3776.6,2319.3 3788.8,2320.2 3800.9,2320.3 3813.0,2320.2 3825.2,2320.9 3837.3,2321.6 3849.5,2319.3 3861.6,2318.2 3873.7,2318.8 3885.9,2320.9" stroke="#482475"/><polyline points="3643.1,2334.3 3655.3,2327.0 3667.4,2327.5 3679.5,2325.0 3691.7,2322.8 3703.8,2322.2 3716.0,2324.3 3728.1,2322.5 3740.2,2324.1 3752.4,2324.0 3764.5,2323.7 3776.6,2321.8 3788.8,2322.9 3800.9,2324.2 3813.0,2323.0 3825.2,2323.4 3837.3,2324.7 3849.5,2322.8 3861.6,2322.6 3873.7,2323.6 3885.9,2322.0" stroke="#414487"/><polyline points="3643.1,2334.3 3655.3,2333.6 3667.4,2330.4 3679.5,2329.4 3691.7,2330.6 3703.8,2331.3 3716.0,2328.9 3728.1,2330.1 3740.2,2330.8 3752.4,2331.8 3764.5,2327.6 3776.6,2330.4 3788.8,2331.5 3800.9,2331.1 3813.0,2330.9 3825.2,2328.1 3837.3,2331.2 3849.5,2330.8 3861.6,2331.6 3873.7,2329.9 3885.9,2331.1" stroke="#355f8d"/><polyline points="3643.1,2334.3 3655.3,2336.5 3667.4,2335.2 3679.5,2334.5 3691.7,2335.0 3703.8,2338.7 3716.0,2337.2 3728.1,2335.0 3740.2,2338.7 3752.4,2338.0 3764.5,2336.6 3776.6,2337.1 3788.8,2335.5 3800.9,2335.6 3813.0,2336.8 3825.2,2337.7 3837.3,2337.8 3849.5,2337.7 3861.6,2338.6 3873.7,2335.8 3885.9,2338.2" stroke="#2a788e"/><polyline points="3643.1,2334.3 3655.3,2339.0 3667.4,2342.5 3679.5,2346.1 3691.7,2344.4 3703.8,2344.0 3716.0,2346.6 3728.1,2344.6 3740.2,2346.7 3752.4,2343.4 3764.5,2346.8 3776.6,2344.0 3788.8,2342.4 3800.9,2343.0 3813.0,2345.8 3825.2,2344.4 3837.3,2346.2 3849.5,2345.3 3861.6,2342.9 3873.7,2343.1 3885.9,2346.8" stroke="#21918c"/><polyline points="3643.1,2334.3 3655.3,2341.4 3667.4,2342.6 3679.5,2345.5 3691.7,2343.0 3703.8,2342.7 3716.0,2344.3 3728.1,2345.2 3740.2,2343.0 3752.4,2344.5 3764.5,2346.0 3776.6,2345.6 3788.8,2346.1 3800.9,2343.0 3813.0,2344.5 3825.2,2343.7 3837.3,2343.1 3849.5,2342.4 3861.6,2346.0 3873.7,2345.0 3885.9,2342.9" stroke="#22a884"/><polyline points="3643.1,2334.3 3655.3,2343.9 3667.4,2349.6 3679.5,2349.9 3691.7,2352.5 3703.8,2352.8 3716.0,2353.4 3728.1,2352.0 3740.2,2352.6 3752.4,2351.3 3764.5,2349.3 3776.6,2353.0 3788.8,2351.2 3800.9,2349.8 3813.0,2351.0 3825.2,2351.3 3837.3,2350.2 3849.5,2353.6 3861.6,2349.4 3873.7,2350.6 3885.9,2350.0" stroke="#44bf70"/><polyline points="3643.1,2334.3 3655.3,2352.3 3667.4,2362.8 3679.5,2365.5 3691.7,2366.0 3703.8,2364.9 3716.0,2363.0 3728.1,2363.2 3740.2,2365.5 3752.4,2364.5 3764.5,2364.0 3776.6,2365.9 3788.8,2363.0 3800.9,2363.1 3813.0,2364.1 3825.2,2363.3 3837.3,2363.7 3849.5,2364.4 3861.6,2365.9 3873.7,2366.1 3885.9,2366.3" stroke="#7ad151"/><polyline points="3643.1,2334.3 3655.3,2359.4 3667.4,2363.9 3679.5,2369.9 3691.7,2372.3 3703.8,2371.4 3716.0,2372.5 3728.1,2371.0 3740.2,2371.6 3752.4,2372.3 3764.5,2370.9 3776.6,2371.2 3788.8,2371.5 3800.9,2369.4 3813.0,2371.7 3825.2,2370.6 3837.3,2369.1 3849.5,2368.7 3861.6,2371.4 3873.7,2372.9 3885.9,2368.7" stroke="#bddf26"/><polyline points="3643.1,2334.3 3655.3,2360.9 3667.4,2372.1 3679.5,2376.1 3691.7,2376.9 3703.8,2377.1 3716.0,2378.0 3728.1,2378.5 3740.2,2374.2 3752.4,2375.0 3764.5,2378.3 3776.6,2376.6 3788.8,2375.1 3800.9,2376.5 3813.0,2378.5 3825.2,2377.2 3837.3,2377.0 3849.5,2374.6 3861.6,2376.1 3873.7,2376.7 3885.9,2375.9" stroke="#fde725"/><polyline points="3643.1,2334.3 3655.3,2321.4 3667.4,2321.2 3679.5,2320.2 3691.7,2315.3 3703.8,2318.8 3716.0,2319.0 3728.1,2316.5 3740.2,2317.9 3752.4,2315.4 3764.5,2318.4 3776.6,2315.1 3788.8,2318.0 3800.9,2316.8 3813.0,2315.2 3825.2,2316.4 3837.3,2315.3 3849.5,2316.3 3861.6,2319.3 3873.7,2315.5 3885.9,2316.8" stroke="#111" stroke-dasharray="7,4"/><circle cx="3679.5" cy="2320.2" r="3.8" fill="#000" stroke="none"/><circle cx="3716.0" cy="2319.0" r="3.8" fill="#000" stroke="none"/><circle cx="3752.4" cy="2315.4" r="3.8" fill="#000" stroke="none"/><circle cx="3788.8" cy="2318.0" r="3.8" fill="#000" stroke="none"/><circle cx="3825.2" cy="2316.4" r="3.8" fill="#000" stroke="none"/><circle cx="3861.6" cy="2319.3" r="3.8" fill="#000" stroke="none"/><polyline points="3643.1,2334.3 3679.5,2459.0 3703.8,2519.0" stroke="#ff0000" stroke-width="2.6" stroke-dasharray="8,5"/><polygon points="3654.1,2334.3 3636.5,2325.5 3636.5,2343.1" fill="#ff0000"/><polygon points="3690.5,2459.0 3672.9,2450.2 3672.9,2467.8" fill="#ff0000"/></g><rect x="3631.0" y="2291.0" width="267.0" height="228.0" fill="none" stroke="#222" stroke-width="2"/><line x1="3643.1" y1="2519.0" x2="3643.1" y2="2528.0" stroke="#222" stroke-width="2"/><text x="3643.1" y="2555" text-anchor="middle" font-family='Liberation Serif' font-size="41" fill="#222" textLength="17" lengthAdjust="spacingAndGlyphs">0</text><line x1="3703.8" y1="2519.0" x2="3703.8" y2="2528.0" stroke="#222" stroke-width="2"/><text x="3703.8" y="2555" text-anchor="middle" font-family='Liberation Serif' font-size="41" fill="#222" textLength="17" lengthAdjust="spacingAndGlyphs">5</text><line x1="3764.5" y1="2519.0" x2="3764.5" y2="2528.0" stroke="#222" stroke-width="2"/><text x="3764.5" y="2555" text-anchor="middle" font-family='Liberation Serif' font-size="41" fill="#222" textLength="34" lengthAdjust="spacingAndGlyphs">10</text><line x1="3825.2" y1="2519.0" x2="3825.2" y2="2528.0" stroke="#222" stroke-width="2"/><text x="3825.2" y="2555" text-anchor="middle" font-family='Liberation Serif' font-size="41" fill="#222" textLength="34" lengthAdjust="spacingAndGlyphs">15</text><line x1="3885.9" y1="2519.0" x2="3885.9" y2="2528.0" stroke="#222" stroke-width="2"/><text x="3885.9" y="2555" text-anchor="middle" font-family='Liberation Serif' font-size="41" fill="#222" textLength="34" lengthAdjust="spacingAndGlyphs">20</text><line x1="3622.0" y1="2519.0" x2="3631.0" y2="2519.0" stroke="#222" stroke-width="2"/><text x="3620.0" y="2533.0" text-anchor="end" font-family='Liberation Serif' font-size="42" fill="#222" textLength="48" lengthAdjust="spacingAndGlyphs">0.4</text><line x1="3622.0" y1="2405.0" x2="3631.0" y2="2405.0" stroke="#222" stroke-width="2"/><text x="3620.0" y="2419.0" text-anchor="end" font-family='Liberation Serif' font-size="42" fill="#222" textLength="48" lengthAdjust="spacingAndGlyphs">0.5</text><line x1="3622.0" y1="2291.0" x2="3631.0" y2="2291.0" stroke="#222" stroke-width="2"/><text x="3620.0" y="2305.0" text-anchor="end" font-family='Liberation Serif' font-size="42" fill="#222" textLength="48" lengthAdjust="spacingAndGlyphs">0.6</text><text x="3039" y="1727" text-anchor="middle" font-family='Liberation Sans' font-size="31">FID</text><text x="3402" y="1727" text-anchor="middle" font-family='Liberation Sans' font-size="31">Precision</text><text x="3765" y="1727" text-anchor="middle" font-family='Liberation Sans' font-size="31">Recall</text><text x="3039" y="2590" text-anchor="middle" font-family='Liberation Sans' font-size="36" textLength="169" lengthAdjust="spacingAndGlyphs">#&#8202; retraining</text><text x="3402" y="2590" text-anchor="middle" font-family='Liberation Sans' font-size="36" textLength="169" lengthAdjust="spacingAndGlyphs">#&#8202; retraining</text><text x="3765" y="2590" text-anchor="middle" font-family='Liberation Sans' font-size="36" textLength="169" lengthAdjust="spacingAndGlyphs">#&#8202; retraining</text><text x="0" y="0" transform="translate(2853,1847) rotate(-90)" text-anchor="middle" font-family='Liberation Sans' font-size="38" textLength="285" lengthAdjust="spacingAndGlyphs">CIFAR-10 &#8211; OTCFM</text><text x="0" y="0" transform="translate(2853,2126) rotate(-90)" text-anchor="middle" font-family='Liberation Sans' font-size="38" textLength="243" lengthAdjust="spacingAndGlyphs">CIFAR-10 &#8211; EDM</text><text x="0" y="0" transform="translate(2853,2405) rotate(-90)" text-anchor="middle" font-family='Liberation Sans' font-size="38" textLength="240" lengthAdjust="spacingAndGlyphs">FFHQ-64 &#8211; EDM</text></svg>
<svg class="a" style="left:0;top:0" width="520" height="300" viewBox="0 0 520 300"><circle cx="144.5" cy="130.4" r="10.7" fill="#6b0068"/><circle cx="178.9" cy="130.7" r="14.3" fill="#6b0068"/><circle cx="121.8" cy="161.6" r="18.8" fill="#6b0068"/><circle cx="160.0" cy="161.3" r="13.6" fill="#6b0068"/><circle cx="114.1" cy="195.5" r="9.5" fill="#6b0068"/><circle cx="141.8" cy="195.5" r="12.1" fill="#6b0068"/><circle cx="173.9" cy="195.5" r="14.6" fill="#6b0068"/><circle cx="121.8" cy="228.6" r="18.8" fill="#6b0068"/><circle cx="160.0" cy="229.5" r="13.6" fill="#6b0068"/><circle cx="144.5" cy="258.9" r="11.0" fill="#6b0068"/><circle cx="178.9" cy="259.8" r="14.3" fill="#6b0068"/><circle cx="214.6" cy="123.8" r="4.6" fill="#6b0068"/><circle cx="193.6" cy="159.5" r="4.6" fill="#6b0068"/><circle cx="235.5" cy="159.5" r="4.6" fill="#6b0068"/><circle cx="214.6" cy="195.2" r="4.6" fill="#6b0068"/><circle cx="257.0" cy="195.2" r="4.6" fill="#6b0068"/><circle cx="193.6" cy="230.9" r="4.6" fill="#6b0068"/><circle cx="235.5" cy="230.9" r="4.6" fill="#6b0068"/><circle cx="214.6" cy="266.6" r="4.6" fill="#6b0068"/><line x1="195.4" y1="123.8" x2="207.9" y2="123.8" stroke="#6b0068" stroke-width="1.5"/><line x1="211.4" y1="130.4" x2="197.1" y2="153.6" stroke="#6b0068" stroke-width="1.5"/><line x1="217.8" y1="130.4" x2="232.0" y2="153.6" stroke="#6b0068" stroke-width="1.5"/><line x1="186.4" y1="146.4" x2="190.9" y2="153.6" stroke="#6b0068" stroke-width="1.5"/><line x1="176.6" y1="159.5" x2="186.4" y2="159.5" stroke="#6b0068" stroke-width="1.5"/><line x1="200.7" y1="159.5" x2="228.4" y2="159.5" stroke="#6b0068" stroke-width="1.5"/><line x1="197.1" y1="166.0" x2="211.4" y2="189.0" stroke="#6b0068" stroke-width="1.5"/><line x1="190.1" y1="166.0" x2="182.0" y2="179.5" stroke="#6b0068" stroke-width="1.5"/><line x1="232.0" y1="166.0" x2="217.8" y2="189.0" stroke="#6b0068" stroke-width="1.5"/><line x1="239.0" y1="166.0" x2="253.4" y2="189.0" stroke="#6b0068" stroke-width="1.5"/><line x1="191.8" y1="195.2" x2="207.9" y2="195.2" stroke="#6b0068" stroke-width="1.5"/><line x1="221.8" y1="195.2" x2="249.8" y2="195.2" stroke="#6b0068" stroke-width="1.5"/><line x1="182.0" y1="210.7" x2="190.1" y2="224.6" stroke="#6b0068" stroke-width="1.5"/><line x1="197.1" y1="224.6" x2="211.4" y2="201.8" stroke="#6b0068" stroke-width="1.5"/><line x1="217.8" y1="201.8" x2="232.0" y2="224.6" stroke="#6b0068" stroke-width="1.5"/><line x1="253.4" y1="201.8" x2="239.0" y2="224.6" stroke="#6b0068" stroke-width="1.5"/><line x1="176.6" y1="230.9" x2="186.4" y2="230.9" stroke="#6b0068" stroke-width="1.5"/><line x1="200.7" y1="230.9" x2="228.4" y2="230.9" stroke="#6b0068" stroke-width="1.5"/><line x1="190.1" y1="237.5" x2="185.5" y2="243.8" stroke="#6b0068" stroke-width="1.5"/><line x1="197.1" y1="237.5" x2="211.4" y2="260.7" stroke="#6b0068" stroke-width="1.5"/><line x1="232.0" y1="237.5" x2="217.8" y2="260.7" stroke="#6b0068" stroke-width="1.5"/><line x1="195.4" y1="266.6" x2="207.9" y2="266.6" stroke="#6b0068" stroke-width="1.5"/><polygon fill="#6b0068" points="278.4,241.6 278.4,148.6 291.8,148.6 323,223.75 354.6,148.6 368.2,148.6 368.2,241.6 354.6,241.6 354.6,182.1 329.3,241.6 316.8,241.6 291.8,182.1 291.8,241.6"/><circle cx="389" cy="157" r="8.9" fill="#6b0068"/><rect x="382.3" y="178.9" width="13.4" height="62.7" rx="1.5" fill="#6b0068"/><rect x="409.6" y="148.6" width="13.4" height="93" rx="1.5" fill="#6b0068"/><path fill="#6b0068" fill-rule="evenodd" d="M434.3 223 a24.3 19.8 0 1 0 48.6 0 a24.3 19.8 0 1 0 -48.6 0 Z M448.1 222.9 a14.6 10.2 0 1 0 29.2 0 a14.6 10.2 0 1 0 -29.2 0 Z"/><rect x="477.5" y="200" width="13.4" height="41.6" rx="1.5" fill="#6b0068"/><path d="M440 194.6 Q452 183.7 464 183.7 Q484.1 183.7 484.1 205" stroke="#6b0068" stroke-width="13" fill="none"/></svg><svg class="a" style="left:1000px;top:80px" width="180" height="160" viewBox="1000 80 180 160"><path d="M1071.3 90.8 V154.4 A17.15 17.15 0 0 0 1105.6 154.4 V90.8" stroke="#0057ae" stroke-width="17" fill="none"/><path d="M1030.8 223 V194.2 A19.1 19.1 0 0 1 1069 194.2 V223" stroke="#0057ae" stroke-width="17" fill="none"/><path d="M1069 223 V190 A19.6 19.6 0 0 1 1108.2 190 V223" stroke="#0057ae" stroke-width="17" fill="none"/><path d="M1108.2 223 V194.2 A19.05 19.05 0 0 1 1146.3 194.2 V223" stroke="#0057ae" stroke-width="17" fill="none"/></svg><div class="t" style="left:612px;top:151.5px;font-family:'Liberation Serif',serif;font-size:86px;color:#0b1b26;-webkit-text-stroke:2.2px #0b1b26;transform:scaleX(1.048)">Universit&eacute;</div><div class="t" style="left:711px;top:226.5px;font-family:'Liberation Serif',serif;font-size:86px;color:#0b1b26;-webkit-text-stroke:2.2px #0b1b26;transform:scaleX(1.082)">de Montr&eacute;al</div><svg class="a" style="left:3200px;top:40px" width="800" height="560" viewBox="3200 40 800 560"><polygon fill="#434759" points="3309.8,105.5 3339.4,99.9 3367.0,104.5 3388.0,115.0 3402.0,130.0 3403.0,139.0 3409.0,146.0 3459.6,162.6 3450.9,181.0 3456.0,190.0 3453.7,195.0 3457.8,202.0 3457.8,214.0 3456.0,221.0 3466.5,233.0 3466.5,242.0 3457.8,250.8 3440.4,259.5 3423.0,270.0 3410.0,288.0 3416.0,249.0 3416.0,235.0 3423.0,232.0 3423.0,214.0 3412.0,208.0 3409.0,197.0 3407.0,176.0 3395.0,160.0 3384.7,144.5 3379.4,130.6 3363.8,120.0 3350.0,111.4 3329.0,111.4"/><rect x="3272.5" y="112.5" width="7.0" height="7.0" fill="#c8dc28"/><rect x="3296.5" y="107.6" width="4.2" height="4.2" fill="#d0e030"/><rect x="3283.3" y="122.9" width="9.8" height="9.8" fill="#c8dc28"/><rect x="3301.7" y="118.0" width="14.6" height="14.6" fill="#c8e020"/><rect x="3323.7" y="125.4" width="9.1" height="9.1" fill="#b8d828"/><rect x="3340.1" y="125.4" width="13.9" height="13.9" fill="#a8d030"/><rect x="3286.2" y="141.2" width="19.2" height="19.2" fill="#c8e020"/><rect x="3316.9" y="143.7" width="22.6" height="22.6" fill="#a8d428"/><rect x="3350.2" y="148.4" width="20.2" height="20.2" fill="#70c040"/><rect x="3376.3" y="160.6" width="7.7" height="7.7" fill="#60c040"/><rect x="3259.6" y="150.1" width="9.8" height="9.8" fill="#c0dc28"/><rect x="3270.0" y="170.3" width="7.7" height="7.7" fill="#b8d828"/><rect x="3289.9" y="167.2" width="7.0" height="7.0" fill="#a8d030"/><rect x="3251.2" y="184.3" width="12.5" height="12.5" fill="#c0dc28"/><rect x="3240.4" y="202.4" width="6.3" height="6.3" fill="#c0dc28"/><rect x="3285.7" y="182.2" width="15.3" height="15.3" fill="#98cc30"/><rect x="3322.1" y="178.5" width="19.2" height="19.2" fill="#68c040"/><rect x="3353.0" y="179.0" width="20.2" height="20.2" fill="#58b848"/><rect x="3391.3" y="178.3" width="9.1" height="9.1" fill="#60c0a0"/><rect x="3271.1" y="204.5" width="7.7" height="7.7" fill="#98cc30"/><rect x="3303.1" y="204.8" width="11.8" height="11.8" fill="#78c438"/><rect x="3331.4" y="204.5" width="16.0" height="16.0" fill="#60bc48"/><rect x="3361.3" y="210.0" width="15.3" height="15.3" fill="#58c0a0"/><rect x="3383.3" y="194.7" width="7.7" height="7.7" fill="#58c0a0"/><rect x="3399.7" y="213.5" width="11.8" height="11.8" fill="#434759"/><rect x="3297.9" y="232.0" width="9.8" height="9.8" fill="#68c040"/><rect x="3329.8" y="230.8" width="19.2" height="19.2" fill="#58c098"/><rect x="3362.4" y="236.2" width="7.0" height="7.0" fill="#58c8e0"/><rect x="3381.9" y="230.6" width="16.0" height="16.0" fill="#58c8e8"/><rect x="3276.3" y="247.0" width="18.1" height="18.1" fill="#58b840"/><rect x="3315.7" y="255.7" width="9.1" height="9.1" fill="#58c0a0"/><rect x="3369.3" y="252.9" width="7.7" height="7.7" fill="#58c8e8"/><rect x="3393.7" y="255.7" width="6.3" height="6.3" fill="#58c8e8"/><line x1="3243.6" y1="205.5" x2="3264.5" y2="186.3" stroke="#c0dc28" stroke-width="2.2"/><line x1="3285.4" y1="256.0" x2="3304.5" y2="235.1" stroke="#58b840" stroke-width="2.2"/><line x1="3320.2" y1="260.2" x2="3337.6" y2="243.8" stroke="#58c0a0" stroke-width="2.2"/><line x1="3373.2" y1="256.7" x2="3389.9" y2="238.6" stroke="#58c8e8" stroke-width="2.2"/><line x1="3293.4" y1="189.8" x2="3315.0" y2="168.9" stroke="#a8d030" stroke-width="2.2"/><line x1="3309.1" y1="210.7" x2="3328.9" y2="189.8" stroke="#78c438" stroke-width="2.2"/><line x1="3339.4" y1="212.5" x2="3360.3" y2="193.3" stroke="#60bc48" stroke-width="2.2"/><line x1="3369.0" y1="217.7" x2="3384.7" y2="200.3" stroke="#58c0a0" stroke-width="2.2"/><line x1="3259.2" y1="155.0" x2="3276.7" y2="144.5" stroke="#c0dc28" stroke-width="2.2"/><line x1="3304.5" y1="155.0" x2="3322.0" y2="134.1" stroke="#b8d828" stroke-width="2.2"/><rect x="3529" y="250.5" width="406" height="3" fill="#353f4b"/></svg><svg class="a" style="left:3500px;top:100px" width="460" height="170" viewBox="3500 100 460 170"><path d="M137 0V1409H432V0Z" transform="matrix(0.10373 0 0 -0.07232 3518.59 237.80)" fill="#353f4b" stroke="#353f4b" stroke-width="48.203" stroke-linejoin="round"/><path d="M795 212Q1062 212 1166 480L1423 383Q1340 179 1179.5 79.5Q1019 -20 795 -20Q455 -20 269.5 172.5Q84 365 84 711Q84 1058 263.0 1244.0Q442 1430 782 1430Q1030 1430 1186.0 1330.5Q1342 1231 1405 1038L1145 967Q1112 1073 1015.5 1135.5Q919 1198 788 1198Q588 1198 484.5 1074.0Q381 950 381 711Q381 468 487.5 340.0Q594 212 795 212Z" transform="matrix(0.07819 0 0 -0.07166 3582.73 237.37)" fill="#353f4b" stroke="#353f4b" stroke-width="63.945" stroke-linejoin="round"/><path d="M137 0V1409H432V228H1188V0Z" transform="matrix(0.08145 0 0 -0.07232 3705.24 237.80)" fill="#353f4b" stroke="#353f4b" stroke-width="61.390" stroke-linejoin="round"/><path d="M1105 0 778 535H432V0H137V1409H841Q1093 1409 1230.0 1300.5Q1367 1192 1367 989Q1367 841 1283.0 733.5Q1199 626 1056 592L1437 0ZM1070 977Q1070 1180 810 1180H432V764H818Q942 764 1006.0 820.0Q1070 876 1070 977Z" transform="matrix(0.08138 0 0 -0.07232 3811.55 237.80)" fill="#353f4b" stroke="#353f4b" stroke-width="61.437" stroke-linejoin="round"/></svg><svg class="a" style="left:3461.2px;top:327.0px" width="216.2" height="216.2" viewBox="0 0 29 29" shape-rendering="crispEdges"><path d="M0 0h7v1h-7zM9 0h1v1h-1zM12 0h3v1h-3zM16 0h1v1h-1zM19 0h2v1h-2zM22 0h7v1h-7zM0 1h1v1h-1zM6 1h1v1h-1zM10 1h3v1h-3zM14 1h2v1h-2zM19 1h2v1h-2zM22 1h1v1h-1zM28 1h1v1h-1zM0 2h1v1h-1zM2 2h3v1h-3zM6 2h1v1h-1zM8 2h3v1h-3zM12 2h3v1h-3zM16 2h4v1h-4zM22 2h1v1h-1zM24 2h3v1h-3zM28 2h1v1h-1zM0 3h1v1h-1zM2 3h3v1h-3zM6 3h1v1h-1zM9 3h3v1h-3zM13 3h4v1h-4zM18 3h2v1h-2zM22 3h1v1h-1zM24 3h3v1h-3zM28 3h1v1h-1zM0 4h1v1h-1zM2 4h3v1h-3zM6 4h1v1h-1zM10 4h1v1h-1zM14 4h3v1h-3zM19 4h2v1h-2zM22 4h1v1h-1zM24 4h3v1h-3zM28 4h1v1h-1zM0 5h1v1h-1zM6 5h1v1h-1zM9 5h1v1h-1zM13 5h1v1h-1zM15 5h2v1h-2zM19 5h1v1h-1zM22 5h1v1h-1zM28 5h1v1h-1zM0 6h7v1h-7zM8 6h1v1h-1zM10 6h1v1h-1zM12 6h1v1h-1zM14 6h1v1h-1zM16 6h1v1h-1zM18 6h1v1h-1zM20 6h1v1h-1zM22 6h7v1h-7zM8 7h3v1h-3zM12 7h3v1h-3zM17 7h2v1h-2zM20 7h1v1h-1zM0 8h3v1h-3zM4 8h5v1h-5zM10 8h2v1h-2zM14 8h1v1h-1zM16 8h3v1h-3zM21 8h2v1h-2zM26 8h1v1h-1zM2 9h1v1h-1zM7 9h1v1h-1zM10 9h2v1h-2zM14 9h1v1h-1zM16 9h2v1h-2zM19 9h1v1h-1zM21 9h1v1h-1zM23 9h2v1h-2zM27 9h1v1h-1zM0 10h3v1h-3zM4 10h4v1h-4zM9 10h1v1h-1zM13 10h1v1h-1zM17 10h2v1h-2zM20 10h4v1h-4zM25 10h1v1h-1zM27 10h2v1h-2zM2 11h3v1h-3zM8 11h1v1h-1zM11 11h1v1h-1zM16 11h3v1h-3zM20 11h3v1h-3zM28 11h1v1h-1zM0 12h4v1h-4zM6 12h1v1h-1zM8 12h1v1h-1zM12 12h1v1h-1zM17 12h2v1h-2zM26 12h3v1h-3zM1 13h3v1h-3zM5 13h1v1h-1zM7 13h2v1h-2zM11 13h3v1h-3zM15 13h1v1h-1zM17 13h2v1h-2zM20 13h1v1h-1zM23 13h1v1h-1zM27 13h1v1h-1zM0 14h2v1h-2zM5 14h3v1h-3zM11 14h2v1h-2zM14 14h2v1h-2zM17 14h7v1h-7zM25 14h1v1h-1zM0 15h1v1h-1zM4 15h1v1h-1zM7 15h1v1h-1zM9 15h2v1h-2zM12 15h3v1h-3zM17 15h2v1h-2zM22 15h1v1h-1zM25 15h1v1h-1zM27 15h2v1h-2zM0 16h1v1h-1zM3 16h1v1h-1zM6 16h2v1h-2zM9 16h3v1h-3zM14 16h1v1h-1zM16 16h1v1h-1zM18 16h1v1h-1zM21 16h4v1h-4zM26 16h3v1h-3zM2 17h3v1h-3zM7 17h5v1h-5zM14 17h1v1h-1zM17 17h2v1h-2zM20 17h4v1h-4zM27 17h2v1h-2zM0 18h1v1h-1zM4 18h1v1h-1zM6 18h2v1h-2zM9 18h2v1h-2zM13 18h1v1h-1zM17 18h2v1h-2zM20 18h1v1h-1zM22 18h1v1h-1zM25 18h1v1h-1zM28 18h1v1h-1zM1 19h1v1h-1zM3 19h2v1h-2zM7 19h1v1h-1zM9 19h3v1h-3zM17 19h2v1h-2zM20 19h3v1h-3zM25 19h1v1h-1zM27 19h2v1h-2zM0 20h1v1h-1zM2 20h1v1h-1zM6 20h1v1h-1zM8 20h1v1h-1zM12 20h1v1h-1zM16 20h1v1h-1zM18 20h1v1h-1zM20 20h6v1h-6zM28 20h1v1h-1zM8 21h1v1h-1zM10 21h4v1h-4zM15 21h3v1h-3zM19 21h2v1h-2zM24 21h2v1h-2zM27 21h1v1h-1zM0 22h7v1h-7zM8 22h1v1h-1zM11 22h2v1h-2zM14 22h1v1h-1zM17 22h4v1h-4zM22 22h1v1h-1zM24 22h2v1h-2zM27 22h2v1h-2zM0 23h1v1h-1zM6 23h1v1h-1zM8 23h1v1h-1zM10 23h1v1h-1zM12 23h3v1h-3zM19 23h2v1h-2zM24 23h5v1h-5zM0 24h1v1h-1zM2 24h3v1h-3zM6 24h1v1h-1zM8 24h2v1h-2zM11 24h1v1h-1zM14 24h1v1h-1zM16 24h2v1h-2zM20 24h5v1h-5zM0 25h1v1h-1zM2 25h3v1h-3zM6 25h1v1h-1zM10 25h2v1h-2zM14 25h2v1h-2zM17 25h1v1h-1zM20 25h1v1h-1zM22 25h1v1h-1zM24 25h2v1h-2zM0 26h1v1h-1zM2 26h3v1h-3zM6 26h1v1h-1zM8 26h1v1h-1zM13 26h1v1h-1zM17 26h4v1h-4zM23 26h1v1h-1zM28 26h1v1h-1zM0 27h1v1h-1zM6 27h1v1h-1zM8 27h1v1h-1zM10 27h2v1h-2zM17 27h2v1h-2zM20 27h1v1h-1zM23 27h2v1h-2zM26 27h1v1h-1zM28 27h1v1h-1zM0 28h7v1h-7zM8 28h2v1h-2zM12 28h1v1h-1zM16 28h1v1h-1zM18 28h2v1h-2zM24 28h2v1h-2zM27 28h2v1h-2z"/></svg>
<div class="a" style="left:127px;top:1561px;width:0;height:0;border-left:26px solid #000;border-top:12.5px solid transparent;border-bottom:12.5px solid transparent"></div>
<div class="a" style="left:127px;top:1658px;width:0;height:0;border-left:26px solid #000;border-top:12.5px solid transparent;border-bottom:12.5px solid transparent"></div>
<div class="a" style="left:127px;top:1755px;width:0;height:0;border-left:26px solid #000;border-top:12.5px solid transparent;border-bottom:12.5px solid transparent"></div>
<div class="a" style="left:1449px;top:1029px;width:0;height:0;border-left:26px solid #000;border-top:12.5px solid transparent;border-bottom:12.5px solid transparent"></div>
<div class="a" style="left:1449px;top:1080px;width:0;height:0;border-left:26px solid #000;border-top:12.5px solid transparent;border-bottom:12.5px solid transparent"></div>
<div class="a" style="left:1449px;top:1177px;width:0;height:0;border-left:26px solid #000;border-top:12.5px solid transparent;border-bottom:12.5px solid transparent"></div>
<div class="a" style="left:1449px;top:1810px;width:0;height:0;border-left:26px solid #000;border-top:12.5px solid transparent;border-bottom:12.5px solid transparent"></div>
<div class="a" style="left:1449px;top:2539px;width:0;height:0;border-left:26px solid #000;border-top:12.5px solid transparent;border-bottom:12.5px solid transparent"></div>
<div class="a" style="left:1449px;top:2593px;width:0;height:0;border-left:26px solid #000;border-top:12.5px solid transparent;border-bottom:12.5px solid transparent"></div>
<div class="a" style="left:1449px;top:2643px;width:0;height:0;border-left:26px solid #000;border-top:12.5px solid transparent;border-bottom:12.5px solid transparent"></div>
<div class="a" style="left:2030px;top:1612.5px;width:236px;height:2.5px;background:#000"></div>
<svg class="a" style="left:0;top:0" width="4086" height="2880" viewBox="0 0 4086 2880"><path d="M418.0 2033.0 C407.0 2033.0 407.0 2039.0 407.0 2047.0 L407.0 2058.5 C407.0 2065.5 399.0 2068.5 396.0 2068.5 C399.0 2068.5 407.0 2071.5 407.0 2078.5 L407.0 2090.0 C407.0 2098.0 407.0 2104.0 418.0 2104.0" fill="none" stroke="#000" stroke-width="3"/><path d="M405.0 2110.0 C394.5 2110.0 394.5 2116.0 394.5 2124.0 L394.5 2147.0 C394.5 2154.0 387.0 2157.0 384.0 2157.0 C387.0 2157.0 394.5 2160.0 394.5 2167.0 L394.5 2190.0 C394.5 2198.0 394.5 2204.0 405.0 2204.0" fill="none" stroke="#000" stroke-width="3"/><path d="M1777.0 800.0 Q1779.0 810.0 1791.0 810.0 L1903.5 810.0 Q1913.5 810.0 1915.5 820.0 Q1917.5 810.0 1927.5 810.0 L2040.0 810.0 Q2052.0 810.0 2054.0 800.0" fill="none" stroke="#000" stroke-width="3.2"/><path d="M1777.0 904.0 Q1779.0 914.0 1791.0 914.0 L1903.5 914.0 Q1913.5 914.0 1915.5 924.0 Q1917.5 914.0 1927.5 914.0 L2040.0 914.0 Q2052.0 914.0 2054.0 904.0" fill="none" stroke="#000" stroke-width="3.2"/><path d="M2118.0 907.0 Q2120.0 917.0 2132.0 917.0 L2236.5 917.0 Q2246.5 917.0 2248.5 927.0 Q2250.5 917.0 2260.5 917.0 L2365.0 917.0 Q2377.0 917.0 2379.0 907.0" fill="none" stroke="#000" stroke-width="3.2"/><path d="M1742.0 2272.0 Q1710.0 2331.0 1742.0 2390.0" fill="none" stroke="#000" stroke-width="3.5"/><path d="M2058.0 2272.0 Q2090.0 2331.0 2058.0 2390.0" fill="none" stroke="#000" stroke-width="3.5"/><text transform="translate(2828,805) rotate(-90)" text-anchor="middle" font-family="Liberation Sans" font-size="39" textLength="179" lengthAdjust="spacingAndGlyphs">Fully synth.</text><text transform="translate(2828,1013) rotate(-90)" text-anchor="middle" font-family="Liberation Sans" font-size="39" textLength="168" lengthAdjust="spacingAndGlyphs">Half synth.</text><text transform="translate(2828,1256) rotate(-90)" text-anchor="middle" font-family="Liberation Sans" font-size="39" textLength="148" lengthAdjust="spacingAndGlyphs">No synth.</text><text transform="translate(155,2620) rotate(-90)" text-anchor="middle" font-family="Liberation Sans" font-size="36" textLength="137" lengthAdjust="spacingAndGlyphs">Collapsing</text><text transform="translate(155,2791) rotate(-90)" text-anchor="middle" font-family="Liberation Sans" font-size="36" textLength="112" lengthAdjust="spacingAndGlyphs">Stability</text></svg>
<div class="t" id="t0" style="left:1310.0px;top:62.0px;font-size:91.45px;transform:scaleX(1.0029);"><i class="bl"></i>On the Stability of Iterative Retraining of</div>
<div class="t" id="t1" style="left:1310.0px;top:162.0px;font-size:91.45px;transform:scaleX(0.9698);"><i class="bl"></i>Generative Models on their own Data</div>
<div class="t" id="t2" style="left:1499.0px;top:282.0px;font-size:35.88px;transform:scaleX(0.9919);"><i class="bl"></i>Quentin Bertrand</div>
<div class="t" id="t3" style="left:1501.0px;top:328.5px;font-size:30.36px;transform:scaleX(0.9927);"><i class="bl"></i>Mila &amp; Universit&eacute; de</div>
<div class="t" id="t4" style="left:1578.0px;top:368.0px;font-size:30.36px;transform:scaleX(0.9735);"><i class="bl"></i>Montr&eacute;al</div>
<div class="t" id="t5" style="left:2099.0px;top:282.0px;font-size:35.88px;transform:scaleX(0.9312);"><i class="bl"></i>Joey Bose</div>
<div class="t" id="t6" style="left:2047.0px;top:328.5px;font-size:30.36px;transform:scaleX(0.9716);"><i class="bl"></i>University of Oxford</div>
<div class="t" id="t7" style="left:1322.0px;top:423.0px;font-size:35.88px;transform:scaleX(0.9387);"><i class="bl"></i>Alexandre Duplessis</div>
<div class="t" id="t8" style="left:1346.0px;top:469.6px;font-size:30.36px;transform:scaleX(0.9716);"><i class="bl"></i>University of Oxford</div>
<div class="t" id="t9" style="left:1710.0px;top:423.0px;font-size:35.88px;transform:scaleX(0.9703);"><i class="bl"></i>Marco Jiralerspong</div>
<div class="t" id="t10" style="left:1724.0px;top:469.6px;font-size:30.36px;transform:scaleX(0.9964);"><i class="bl"></i>Mila &amp; Universit&eacute; de</div>
<div class="t" id="t11" style="left:1801.0px;top:510.4px;font-size:30.36px;transform:scaleX(0.9651);"><i class="bl"></i>Montr&eacute;al</div>
<div class="t" id="t12" style="left:2177.0px;top:423.0px;font-size:35.88px;transform:scaleX(0.9597);"><i class="bl"></i>Gauthier Gidel</div>
<div class="t" id="t13" style="left:2091.0px;top:469.6px;font-size:30.36px;transform:scaleX(0.9937);"><i class="bl"></i>Mila &amp; Universit&eacute; de Montr&eacute;al</div>
<div class="t" id="t14" style="left:2134.0px;top:510.4px;font-size:30.36px;transform:scaleX(0.9637);"><i class="bl"></i>Canada CIFAR AI Chair</div>
<div class="t" id="t15" style="left:127.0px;top:608.0px;font-size:58.08px;color:#DB5A5B;transform:scaleX(1.0008);"><i class="bl"></i><b>Motivation:</b> Inevitably Train on Synthetic Data</div>
<div class="t" id="t16" style="left:120.0px;top:1283.5px;font-size:37.72px;transform:scaleX(0.9468);"><i class="bl"></i>Synthetic images <i>already</i> in the LAION dataset [Alemohammad et al., 2024]</div>
<div class="t" id="t17" style="left:119.0px;top:1340.0px;font-size:37.72px;transform:scaleX(0.9687);"><i class="bl"></i>Text-to-image and text-to-text models are/will be trained on synthetic data</div>
<div class="t" id="t18" style="left:127.0px;top:1468.0px;font-size:58.08px;color:#DB5A5B;transform:scaleX(0.9983);"><i class="bl"></i><b>Contributions</b></div>
<div class="t" id="t19" style="left:166.0px;top:1556.0px;font-size:37.72px;transform:scaleX(0.9472);"><i class="bl"></i>Show mode collapse for iterative retraining of simple models only on its</div>
<div class="t" id="t20" style="left:166.0px;top:1603.0px;font-size:37.72px;transform:scaleX(0.8818);"><i class="bl"></i>own data</div>
<div class="t" id="t21" style="left:166.0px;top:1653.0px;font-size:37.72px;transform:scaleX(0.9644);"><i class="bl"></i>Under regularity conditions, prove the stability of iterative retraining if</div>
<div class="t" id="t22" style="left:166.0px;top:1700.0px;font-size:37.72px;transform:scaleX(0.9519);"><i class="bl"></i>the initial model is good enough</div>
<div class="t" id="t23" style="left:166.0px;top:1750.0px;font-size:37.72px;transform:scaleX(0.9602);"><i class="bl"></i>Empirically demonstrated the stability of iterative retraining</div>
<div class="t" id="t24" style="left:127.0px;top:1873.0px;font-size:58.08px;color:#DB5A5B;transform:scaleX(0.9782);"><i class="bl"></i><b>Warm-up</b>: Retraining a Multivariate Gaussian</div>
<div class="t" id="t25" style="left:63.0px;top:1928.0px;font-size:58.08px;color:#DB5A5B;transform:scaleX(0.9664);"><i class="bl"></i><i>Only</i> on its Own data</div>
<div class="t" id="t26" style="left:117.0px;top:2048.0px;font-size:37.72px;transform:scaleX(0.9138);"><i class="bl"></i>Sampling step:</div>
<div class="t" id="t27" style="left:117.0px;top:2139.0px;font-size:37.72px;transform:scaleX(0.9119);"><i class="bl"></i>Learning step:</div>
<div class="t" id="t28" style="left:144.0px;top:2242.0px;font-size:37.72px;color:#fff;transform:scaleX(0.9732);"><i class="bl"></i><b>Proposition:&nbsp; Gaussian Collapse</b></div>
<div class="t" id="t29" style="left:142.0px;top:2298.0px;font-size:37.72px;transform:scaleX(0.9688);"><i class="bl"></i>Iteratively learning a single multivariate Gaussian solely on its generated</div>
<div class="t" id="t30" style="left:142.0px;top:2344.0px;font-size:37.72px;transform:scaleX(0.9230);"><i class="bl"></i>data yields model collapse:</div>
<div class="t" id="t31" style="left:172.0px;top:2519.0px;font-size:33.12px;transform:scaleX(0.9688);"><i class="bl"></i>Ground Truth</div>
<div class="t" id="t32" style="left:407.0px;top:2519.0px;font-size:33.12px;transform:scaleX(0.9654);"><i class="bl"></i>No retraining</div>
<div class="t" id="t33" style="left:626.0px;top:2519.0px;font-size:33.12px;font-family:'Liberation Serif', serif;transform:scaleX(1.1583);"><i class="bl"></i>#retrain. = 10</div>
<div class="t" id="t34" style="left:857.0px;top:2519.0px;font-size:33.12px;font-family:'Liberation Serif', serif;transform:scaleX(1.1583);"><i class="bl"></i>#retrain. = 20</div>
<div class="t" id="t35" style="left:1080.0px;top:2519.0px;font-size:33.12px;font-family:'Liberation Serif', serif;transform:scaleX(1.1472);"><i class="bl"></i>#retrain. = 100</div>
<div class="t" id="t36" style="left:1450.0px;top:608.0px;font-size:58.08px;color:#DB5A5B;transform:scaleX(1.0135);"><i class="bl"></i><b>Theoretical Results</b></div>
<div class="t" id="t37" style="left:1464.0px;top:694.0px;font-size:37.72px;color:#DB5A5B;transform:scaleX(1.0269);"><i class="bl"></i><b>Problem Setting</b></div>
<div class="t" id="t38" style="left:1450.0px;top:973.0px;font-size:37.72px;color:#DB5A5B;transform:scaleX(0.9501);"><i class="bl"></i><b>Assumptions</b></div>
<div class="t" id="t39" style="left:1450.0px;top:1325.0px;font-size:37.72px;color:#DB5A5B;transform:scaleX(0.9483);"><i class="bl"></i>With infinite samples</div>
<div class="t" id="t40" style="left:1467.0px;top:1415.0px;font-size:37.72px;color:#fff;transform:scaleX(1.0342);"><i class="bl"></i><b>Theorem:&nbsp; Stability of Iterative Retraining</b></div>
<div class="t" id="t41" style="left:1466.0px;top:1469.0px;font-size:37.72px;transform:scaleX(0.9968);"><i class="bl"></i>With infinite samples, under the <span class="r">regularity</span>, <span class="r">local strong concavity</span>, <span class="r">good</span></div>
<div class="t" id="t42" style="left:1466.0px;top:1516.0px;font-size:37.72px;transform:scaleX(0.9259);"><i class="bl"></i><span class="r">enough model</span> and <span class="r">enough real data</span> assumptions</div>
<div class="t" id="t43" style="left:1450.0px;top:1756.0px;font-size:37.72px;transform:scaleX(0.9715);"><i class="bl"></i><b class="r">Additional Assumption</b> for <i>finite</i> samples results</div>
<div class="t" id="t44" style="left:1489.0px;top:1805.0px;font-size:37.72px;transform:scaleX(0.9611);"><i class="bl"></i><span class="r">Sample Complexity Bounds</span>: with probability 1 &minus; &delta;</div>
<div class="t" id="t45" style="left:1450.0px;top:1976.0px;font-size:37.72px;color:#DB5A5B;transform:scaleX(0.9477);"><i class="bl"></i>With <i>finite</i> samples</div>
<div class="t" id="t46" style="left:1467.0px;top:2067.0px;font-size:37.72px;color:#fff;transform:scaleX(1.0153);"><i class="bl"></i><b>Theorem:&nbsp; Approximate Stability</b></div>
<div class="t" id="t47" style="left:1466.0px;top:2122.0px;font-size:37.72px;transform:scaleX(0.9673);"><i class="bl"></i>Under the <span class="r">regularity</span>, <span class="r">local strong concavity</span>, <span class="r">good enough model</span>, <span class="r">enough</span></div>
<div class="t" id="t48" style="left:1466.0px;top:2169.0px;font-size:37.72px;transform:scaleX(0.9575);"><i class="bl"></i><span class="r">real data</span>, and <span class="r">sample complexity</span> assumptions, there exists 0 &lt; <i>&rho;</i> &lt; 1 and</div>
<div class="t" id="t49" style="left:1466.0px;top:2215.0px;font-size:37.72px;transform:scaleX(1.0309);"><i class="bl"></i><i>R</i> &gt; 0 such that if &#8214;<b><i>&theta;</i></b><sub>0</sub> &minus; <b><i>&theta;</i></b><sup>*</sup>&#8214; &le; <i>R</i> then, with probability 1 &minus; <i>&delta;</i></div>
<div class="t" id="t50" style="left:1450.0px;top:2481.0px;font-size:37.72px;transform:scaleX(0.9670);"><i class="bl"></i>The error &#8214;<b><i>&theta;</i></b><span class="ss"><span><i>n</i></span><span><i>t</i></span></span> &minus; <b><i>&theta;</i></b><sup>*</sup>&#8214; can be decomposed in:</div>
<div class="t" id="t51" style="left:1450.0px;top:2740.0px;font-size:37.72px;transform:scaleX(0.9801);"><i class="bl"></i>In the <span class="r">log <i>t</i> &lt;&lt; <i>n</i> regime</span>, the error &#8214;<b><i>&theta;</i></b><span class="ss"><span><i>n</i></span><span><i>t</i></span></span> &minus; <b><i>&theta;</i></b><sup>*</sup>&#8214; can be controlled</div>
<div class="t" id="t52" style="left:2774.0px;top:607.0px;font-size:58.08px;color:#DB5A5B;transform:scaleX(1.0090);"><i class="bl"></i><b>Experimental Results</b></div>
<div class="t" id="t53" style="left:2881.0px;top:1326.0px;font-size:37.72px;transform:scaleX(0.9606);"><i class="bl"></i>0 retrain.</div>
<div class="t" id="t54" style="left:3098.0px;top:1326.0px;font-size:37.72px;transform:scaleX(0.9606);"><i class="bl"></i>5 retrain.</div>
<div class="t" id="t55" style="left:3308.0px;top:1326.0px;font-size:37.72px;transform:scaleX(0.9657);"><i class="bl"></i>10 retrain.</div>
<div class="t" id="t56" style="left:3526.0px;top:1326.0px;font-size:37.72px;transform:scaleX(0.9657);"><i class="bl"></i>15 retrain.</div>
<div class="t" id="t57" style="left:3744.0px;top:1326.0px;font-size:37.72px;transform:scaleX(0.9657);"><i class="bl"></i>20 retrain.</div>
<div class="t" id="t58" style="left:2771.0px;top:1404.0px;font-size:37.72px;transform:scaleX(0.9392);"><i class="bl"></i>Iterative retraining exclusively on its own generated data yields image</div>
<div class="t" id="t59" style="left:2771.0px;top:1451.0px;font-size:37.72px;transform:scaleX(0.9484);"><i class="bl"></i>degradation (top row, see also Shumailov et al. [2023])</div>
<div class="t" id="t60" style="left:2917.0px;top:2618.0px;font-size:37.72px;transform:scaleX(0.9702);"><i class="bl"></i>FID, precision, and recall as a function of # of retraining</div>
<div class="t" id="t61" style="left:2772.0px;top:2689.0px;font-size:37.72px;transform:scaleX(0.8554);"><i class="bl"></i>References</div>
<div class="t" id="t62" style="left:2763.0px;top:2735.0px;font-size:27.60px;transform:scaleX(0.8954);"><i class="bl"></i>S. Alemohammad et al. Self-Consuming Generative Models Go MAD. In <i>ICLR</i>, 2024.</div>
<div class="t" id="t63" style="left:2763.0px;top:2771.0px;font-size:27.60px;transform:scaleX(0.8976);"><i class="bl"></i>I. Shumailov et al. The Curse of Recursion: Training on Generated Data Makes Models Forget. 2023.</div>
<div class="t" id="t64" style="left:2763.0px;top:2809.0px;font-size:27.60px;transform:scaleX(0.8924);"><i class="bl"></i>T. Karras et al. Elucidating the design space of diffusion-based generative models. <i>NeurIPS</i>, 2022.</div>
<div class="t" id="t65" style="left:2763.0px;top:2845.0px;font-size:27.60px;transform:scaleX(0.9363);"><i class="bl"></i>A. Tong et al.&nbsp; Improving and generalizing flow-based generative models with minibatch optimal transport.</div>
<div class="t" id="t66" style="left:420.0px;top:2044.0px;font-size:37.72px;transform:scaleX(1.1790);"><i class="bl"></i><b>x</b><span class="ss"><span><i>j</i></span><span><i>t</i></span></span> = <b><i>&mu;</i></b><sub><i>t</i></sub> + &radic;<span class="sq"><b>&Sigma;</b><sub><i>t</i></sub></span><b><i>z</i></b><span class="ss"><span><i>j</i></span><span><i>t</i></span></span>,&nbsp; with <b><i>z</i></b><span class="ss"><span><i>j</i></span><span><i>t</i></span></span> <span style="display:inline-block;position:relative">~<span style="position:absolute;left:-.3em;top:-.75em;font-size:62%">i.i.d.</span></span>&nbsp; <i class="se">N</i><sub>0,<b>I</b></sub>, 1 &le; <i>j</i> &le; <i>n</i></div>
<div class="t" id="t67" style="left:412.0px;top:2124.4px;font-size:37.72px;transform:scaleX(1.1539);"><i class="bl"></i><b><i>&mu;</i></b><sub><i>t</i>+1</sub>&nbsp;&nbsp;&nbsp; = <span class="fr"><span>1</span><span><i>n</i></span></span><span class="bsum"><span></span><b>&Sigma;</b><span><i>j</i></span></span><b>x</b><span class="ss"><span><i>j</i></span><span><i>t</i></span></span>&nbsp; , &nbsp;<b>&Sigma;</b><sub><i>t</i>+1</sub> = <span class="fr"><span>1</span><span><i>n</i>&minus;1</span></span><span class="bsum"><span></span><b>&Sigma;</b><span><i>j</i></span></span><span style="font-size:150%;vertical-align:-.12em">(</span><b>x</b><span class="ss"><span><i>j</i></span><span><i>t</i></span></span> &minus; <b><i>&mu;</i></b><sub><i>t</i>+1</sub><span style="font-size:150%;vertical-align:-.12em">)</span> <span style="font-size:150%;vertical-align:-.12em">(</span><b>x</b><span class="ss"><span><i>j</i></span><span><i>t</i></span></span> &minus; <b><i>&mu;</i></b><sub><i>t</i>+1</sub><span style="font-size:150%;vertical-align:-.12em">)</span><sup style="vertical-align:1.2em">T</sup></div>
<div class="t" id="t68" style="left:505.0px;top:2406.5px;font-size:37.72px;transform:scaleX(1.2167);"><i class="bl"></i><span class="se">E</span>(&radic;<span class="sq"><b>&Sigma;</b><sub><i>t</i></sub></span>) &le; <i class="se">&alpha;</i><sup><i>t</i></sup>&radic;<span class="sq"><b>&Sigma;</b><sub>0</sub></span> <span style="display:inline-block;position:relative;width:2.6em;text-align:center"><span style="display:inline-block;transform:scaleX(2.6)">&rarr;</span><span style="position:absolute;left:0;top:1.0em;font-size:62%;white-space:nowrap"><i>t</i>&rarr;+&infin;</span></span> 0</div>
<div class="t" id="t69" style="left:1571.0px;top:754.0px;font-size:37.72px;transform:scaleX(0.9633);"><i class="bl"></i><b><i>&theta;</i></b><sub>0</sub> = argmax</div>
<div class="t" id="t70" style="left:1682.0px;top:797.0px;font-size:25.76px;transform:scaleX(1.1268);"><i class="bl"></i><b><i>&theta;</i></b>&prime;&#1108;&Theta;</div>
<div class="t" id="t71" style="left:1777.0px;top:754.0px;font-size:37.72px;transform:scaleX(1.0331);"><i class="bl"></i><span class="se">E</span><sub><b>x</b>~<i>p&#770;</i><sub class="se">data</sub></sub>[log <i>p</i><sub><b><i>&theta;</i></b>&prime;</sub>(<b>x</b>)]</div>
<div class="t" id="t72" style="left:1867.0px;top:822.0px;font-size:27.60px;transform:scaleX(0.8846);"><i class="bl"></i>real data</div>
<div class="t" id="t73" style="left:2066.0px;top:754.0px;font-size:37.72px;transform:scaleX(1.0898);"><i class="bl"></i>:= <b><i>&theta;</i></b><sup>*</sup></div>
<div class="t" id="t74" style="left:1538.0px;top:853.0px;font-size:37.72px;transform:scaleX(1.0121);"><i class="bl"></i><b><i>&theta;</i></b><span class="ss"><span><i>n</i></span><span><i>t</i>+1</span></span> = argmax</div>
<div class="t" id="t75" style="left:1682.0px;top:900.0px;font-size:25.76px;transform:scaleX(1.1268);"><i class="bl"></i><b><i>&theta;</i></b>&prime;&#1108;&Theta;</div>
<div class="t" id="t76" style="left:1777.0px;top:857.0px;font-size:37.72px;transform:scaleX(1.0331);"><i class="bl"></i><span class="se">E</span><sub><b>x</b>~<i>p&#770;</i><sub class="se">data</sub></sub>[log <i>p</i><sub><b><i>&theta;</i></b>&prime;</sub>(<b>x</b>)]</div>
<div class="t" id="t77" style="left:2062.0px;top:857.0px;font-size:37.72px;transform:scaleX(1.1983);"><i class="bl"></i>+&lambda;</div>
<div class="t" id="t78" style="left:2119.0px;top:857.0px;font-size:37.72px;transform:scaleX(1.0308);"><i class="bl"></i><span class="se">E</span><sub><b>x&#771;</b>~<i>p&#770;</i><sub><b><i>&theta;</i></b><sub><i>t</i></sub></sub></sub>[log <i>p</i><sub><b><i>&theta;</i></b>&prime;</sub>(<b>x&#771;</b>)]</div>
<div class="t" id="t79" style="left:2391.0px;top:853.0px;font-size:37.72px;transform:scaleX(1.0425);"><i class="bl"></i>:= <i class="se">G</i><span class="ss"><span><i>n</i></span><span>&lambda;</span></span>(<b><i>&theta;</i></b><span class="ss"><span><i>n</i></span><span><i>t</i></span></span>)</div>
<div class="t" id="t80" style="left:1867.0px;top:927.0px;font-size:27.60px;transform:scaleX(0.8846);"><i class="bl"></i>real data</div>
<div class="t" id="t81" style="left:2172.0px;top:930.0px;font-size:27.60px;transform:scaleX(0.8986);"><i class="bl"></i>synthetic data</div>
<div class="t" id="t82" style="left:1489.0px;top:1020.0px;font-size:37.72px;transform:scaleX(0.9714);"><i class="bl"></i><span class="r">Regularity</span>: the mapping <b>x</b> &rarr; <span class="nab">&#8710;</span><span class="ss"><span>2</span><span><b><i>&theta;</i></b></span></span> log <i>p</i><sub><b><i>&theta;</i></b></sub>(<b>x</b>) is <i>L</i>-Lipschitz</div>
<div class="t" id="t83" style="left:1489.0px;top:1075.0px;font-size:37.72px;transform:scaleX(0.9819);"><i class="bl"></i><span class="r">Local Strong Concavity</span>: the mapping <b><i>&theta;</i></b> &rarr; <span class="se">E</span><sub><b>x</b>~<i>p</i><sub class="se">data</sub></sub>[log <i>p</i><sub><b><i>&theta;</i></b></sub>(<b>x</b>)] is locally <i class="se">C</i><sup>2</sup></div>
<div class="t" id="t84" style="left:1489.0px;top:1117.0px;font-size:37.72px;transform:scaleX(1.0590);"><i class="bl"></i>around <b><i>&theta;</i></b><sup>*</sup> and <span class="se">E</span><sub><b>x</b>~<i>p</i><sub class="se">data</sub></sub>[<span class="nab">&#8710;</span><span class="ss"><span>2</span><span><b><i>&theta;</i></b></span></span> log <i>p</i><sub><b><i>&theta;</i></b>*</sub>(<b>x</b>)] &le; &minus;<i class="se">&alpha;</i><b>I</b><sub><i>d</i></sub> &lt; 0</div>
<div class="t" id="t85" style="left:1489.0px;top:1172.0px;font-size:37.72px;transform:scaleX(0.9780);"><i class="bl"></i><span class="r">Good enough model</span> and <span class="r">enough real data</span>: with <i class="se">&epsilon;</i> = <i>d</i><sub><i>W</i></sub>(<i>p</i><sub><b><i>&theta;</i></b>*</sub>, <i>p</i><sub class="se">data</sub>),</div>
<div class="t" id="t86" style="left:1489.0px;top:1207.7px;font-size:37.72px;transform:scaleX(1.0551);"><i class="bl"></i>&lambda;(1 + <span class="fr"><span><i>L&epsilon;</i></span><span><i>&alpha;</i></span></span>) &lt; <sup>1</sup>/<sub>2</sub></div>
<div class="t" id="t87" style="left:1765.0px;top:1594.0px;font-size:37.72px;transform:scaleX(1.1797);"><i class="bl"></i>&#8214;<i class="se">J</i><sub><b><i>&theta;</i></b></sub><i class="se">G</i><span class="ss"><span>&infin;</span><span>&lambda;</span></span>(<b><i>&theta;</i></b><sup>*</sup>)&#8214;<sub>2</sub> &le;</div>
<div class="t" id="t88" style="left:2068.0px;top:1567.0px;font-size:37.72px;transform:scaleX(1.1216);"><i class="bl"></i>&lambda;(<i class="se">&alpha;</i> + <i class="se">&epsilon;</i><i>L</i>)</div>
<div class="t" id="t89" style="left:2030.0px;top:1621.0px;font-size:37.72px;transform:scaleX(1.1487);"><i class="bl"></i><i class="se">&alpha;</i> &minus; &lambda;(<i class="se">&alpha;</i> + <i class="se">&epsilon;</i><i>L</i>)</div>
<div class="t" id="t90" style="left:2280.0px;top:1598.0px;font-size:37.72px;transform:scaleX(1.0657);"><i class="bl"></i>&lt; 1</div>
<div class="t" id="t91" style="left:1488.0px;top:1851.2px;font-size:37.72px;transform:scaleX(1.0673);"><i class="bl"></i><span class="nab">A</span><b><i>&theta;</i></b> &#1108; <i>U</i>, <span class="nab">A</span><i>n</i> &#1108; <span class="se">N</span>, &#8214;<i class="se">G</i><span class="ss"><span><i>n</i></span><span>&lambda;</span></span>(<b><i>&theta;</i></b>) &minus; <i class="se">G</i><span class="ss"><span>&infin;</span><span>&lambda;</span></span>(<b><i>&theta;</i></b>)&#8214; &le; <i class="se">&epsilon;</i><sub class="se">OPT</sub> + <span class="fr"><span><i>a</i></span><span>&radic;<i>n</i></span></span>&radic;<span class="sq">log <span class="fr"><span><i>b</i></span><span><i>&delta;</i></span></span></span>, <i>a</i>, <i>b</i> &gt; 0</div>
<div class="t" id="t92" style="left:1507.0px;top:2305.0px;font-size:37.72px;transform:scaleX(1.1309);"><i class="bl"></i>&#8214;<b><i>&theta;</i></b><span class="ss"><span><i>n</i></span><span><i>t</i></span></span> &minus; <b><i>&theta;</i></b><sup>*</sup>&#8214; &le;</div>
<div class="t" id="t93" style="left:1745.0px;top:2296.2px;font-size:37.72px;transform:scaleX(1.1955);"><i class="bl"></i><i class="se">&epsilon;</i><sub class="se">OPT</sub> + <span class="fr"><span><i>a</i></span><span>&radic;<i>n</i></span></span>&radic;<span class="sq">log <span class="fr"><span><i>bt</i></span><span><i>&delta;</i></span></span></span></div>
<div class="t" id="t94" style="left:2160.0px;top:2309.0px;font-size:37.72px;transform:scaleX(1.0885);"><i class="bl"></i><i>&rho;</i><sup><i>l</i></sup> + <i>&rho;</i><sup><i>t</i></sup>&#8214;<b><i>&theta;</i></b><sub>0</sub> &minus; <b><i>&theta;</i></b><sup>*</sup>&#8214;</div>
<div class="t" id="t95" style="left:2467.0px;top:2309.0px;font-size:37.72px;transform:scaleX(1.1551);"><i class="bl"></i><span class="nab">A</span><i>t</i> &#1108; <span class="se">N</span><sup>*</sup></div>
<div class="t" id="t96" style="left:2096.0px;top:2295.0px;font-size:73.60px;transform:scaleX(1.1868);"><i class="bl"></i>&Sigma;</div>
<div class="t" id="t97" style="left:2112.0px;top:2270.0px;font-size:25.76px;transform:scaleX(1.3974);"><i class="bl"></i><i>t</i></div>
<div class="t" id="t98" style="left:2100.0px;top:2372.0px;font-size:25.76px;transform:scaleX(1.3108);"><i class="bl"></i><i>l</i>=0</div>
<div class="t" id="t99" style="left:1489.0px;top:2530.0px;font-size:37.72px;transform:scaleX(1.0317);"><i class="bl"></i>The optimization error <i class="se">&epsilon;</i><sub class="se">OPT</sub> &middot; &Sigma;<span class="ss"><span><i>t</i></span><span><i>l</i>=0</span></span> <i>&rho;</i><sup><i>l</i></sup></div>
<div class="t" id="t100" style="left:1489.0px;top:2584.0px;font-size:37.72px;transform:scaleX(1.0644);"><i class="bl"></i>The statistical error <i>a</i>/&radic;<span class="sq"><i>n</i></span> &middot; &radic;<span class="sq">log <i>bt</i>/<i>&delta;</i></span> &middot; &Sigma;<span class="ss"><span><i>t</i></span><span><i>l</i>=0</span></span> <i>&rho;</i><sup><i>l</i></sup></div>
<div class="t" id="t101" style="left:1489.0px;top:2638.0px;font-size:37.72px;transform:scaleX(0.9968);"><i class="bl"></i>The <span class="r">iterative retraining error</span> <i>&rho;</i><sup><i>t</i></sup>&#8214;<b><i>&theta;</i></b><sub>0</sub> &minus; <b><i>&theta;</i></b><sup>*</sup>&#8214;</div>
</body></html>
